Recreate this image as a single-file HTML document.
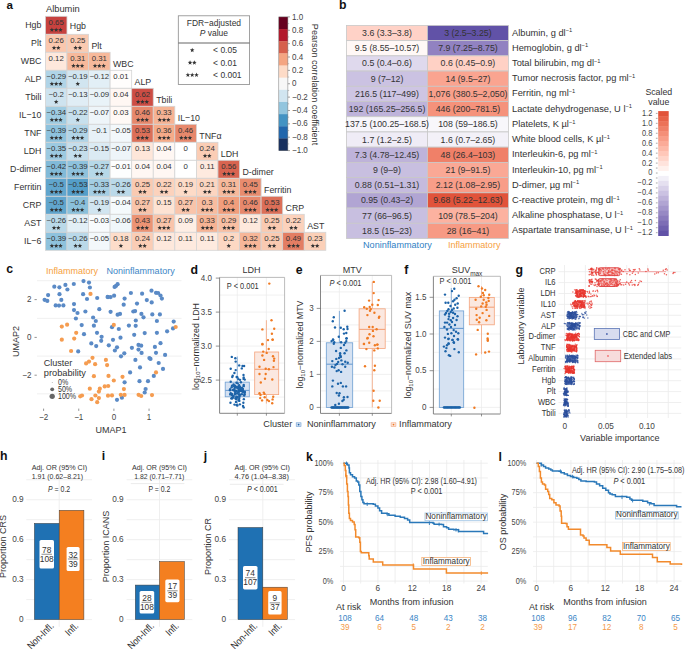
<!DOCTYPE html>
<html><head><meta charset="utf-8"><title>Figure</title>
<style>
html,body{margin:0;padding:0;background:#fff;}
body{width:685px;height:649px;overflow:hidden;}
svg{display:block;font-family:"Liberation Sans", sans-serif;}
</style></head><body>
<svg width="685" height="649" viewBox="0 0 685 649">
<rect width="685" height="649" fill="#fff"/>
<defs><path id="st" d="M0.00,-2.40 L0.60,-0.83 L2.28,-0.74 L0.97,0.32 L1.41,1.94 L0.00,1.02 L-1.41,1.94 L-0.97,0.32 L-2.28,-0.74 L-0.60,-0.83Z"/></defs>
<text transform="translate(6.40,9.40)" text-anchor="start" fill="#111" style="font-size:11.6px;font-weight:bold;">a</text>
<rect x="45.40" y="16.30" width="21.57" height="18.00" fill="#c7423f" stroke="#d4d4d4" stroke-width="0.8"/>
<rect x="45.40" y="34.30" width="21.57" height="18.00" fill="#fac7ae" stroke="#d4d4d4" stroke-width="0.8"/>
<rect x="66.97" y="34.30" width="21.57" height="18.00" fill="#facab1" stroke="#d4d4d4" stroke-width="0.8"/>
<rect x="45.40" y="52.30" width="21.57" height="18.00" fill="#fee8dc" stroke="#d4d4d4" stroke-width="0.8"/>
<rect x="66.97" y="52.30" width="21.57" height="18.00" fill="#f7b99b" stroke="#d4d4d4" stroke-width="0.8"/>
<rect x="88.54" y="52.30" width="21.57" height="18.00" fill="#f7b99b" stroke="#d4d4d4" stroke-width="0.8"/>
<rect x="45.40" y="70.30" width="21.57" height="18.00" fill="#b0d4e7" stroke="#d4d4d4" stroke-width="0.8"/>
<rect x="66.97" y="70.30" width="21.57" height="18.00" fill="#d1e5f0" stroke="#d4d4d4" stroke-width="0.8"/>
<rect x="88.54" y="70.30" width="21.57" height="18.00" fill="#e2eff6" stroke="#d4d4d4" stroke-width="0.8"/>
<rect x="110.11" y="70.30" width="21.57" height="18.00" fill="#fffdfc" stroke="#d4d4d4" stroke-width="0.8"/>
<rect x="45.40" y="88.30" width="21.57" height="18.00" fill="#cee3ef" stroke="#d4d4d4" stroke-width="0.8"/>
<rect x="66.97" y="88.30" width="21.57" height="18.00" fill="#e0edf5" stroke="#d4d4d4" stroke-width="0.8"/>
<rect x="88.54" y="88.30" width="21.57" height="18.00" fill="#e9f3f8" stroke="#d4d4d4" stroke-width="0.8"/>
<rect x="110.11" y="88.30" width="21.57" height="18.00" fill="#fff7f3" stroke="#d4d4d4" stroke-width="0.8"/>
<rect x="131.68" y="88.30" width="21.57" height="18.00" fill="#cd4d44" stroke="#d4d4d4" stroke-width="0.8"/>
<rect x="45.40" y="106.30" width="21.57" height="18.00" fill="#9fcce2" stroke="#d4d4d4" stroke-width="0.8"/>
<rect x="66.97" y="106.30" width="21.57" height="18.00" fill="#c7e0ed" stroke="#d4d4d4" stroke-width="0.8"/>
<rect x="88.54" y="106.30" width="21.57" height="18.00" fill="#eef5f9" stroke="#d4d4d4" stroke-width="0.8"/>
<rect x="110.11" y="106.30" width="21.57" height="18.00" fill="#fff9f6" stroke="#d4d4d4" stroke-width="0.8"/>
<rect x="131.68" y="106.30" width="21.57" height="18.00" fill="#e7886c" stroke="#d4d4d4" stroke-width="0.8"/>
<rect x="153.25" y="106.30" width="21.57" height="18.00" fill="#f6b394" stroke="#d4d4d4" stroke-width="0.8"/>
<rect x="45.40" y="124.30" width="21.57" height="18.00" fill="#8ec2dd" stroke="#d4d4d4" stroke-width="0.8"/>
<rect x="66.97" y="124.30" width="21.57" height="18.00" fill="#b0d4e7" stroke="#d4d4d4" stroke-width="0.8"/>
<rect x="88.54" y="124.30" width="21.57" height="18.00" fill="#e7f1f7" stroke="#d4d4d4" stroke-width="0.8"/>
<rect x="110.11" y="124.30" width="21.57" height="18.00" fill="#f3f8fb" stroke="#d4d4d4" stroke-width="0.8"/>
<rect x="131.68" y="124.30" width="21.57" height="18.00" fill="#dc6f58" stroke="#d4d4d4" stroke-width="0.8"/>
<rect x="153.25" y="124.30" width="21.57" height="18.00" fill="#f5ab89" stroke="#d4d4d4" stroke-width="0.8"/>
<rect x="174.82" y="124.30" width="21.57" height="18.00" fill="#e7886c" stroke="#d4d4d4" stroke-width="0.8"/>
<rect x="45.40" y="142.30" width="21.57" height="18.00" fill="#9ccae1" stroke="#d4d4d4" stroke-width="0.8"/>
<rect x="66.97" y="142.30" width="21.57" height="18.00" fill="#c4deec" stroke="#d4d4d4" stroke-width="0.8"/>
<rect x="88.54" y="142.30" width="21.57" height="18.00" fill="#dbeaf3" stroke="#d4d4d4" stroke-width="0.8"/>
<rect x="110.11" y="142.30" width="21.57" height="18.00" fill="#eef5f9" stroke="#d4d4d4" stroke-width="0.8"/>
<rect x="131.68" y="142.30" width="21.57" height="18.00" fill="#fee6d9" stroke="#d4d4d4" stroke-width="0.8"/>
<rect x="153.25" y="142.30" width="21.57" height="18.00" fill="#fff7f3" stroke="#d4d4d4" stroke-width="0.8"/>
<rect x="174.82" y="142.30" width="21.57" height="18.00" fill="#ffffff" stroke="#d4d4d4" stroke-width="0.8"/>
<rect x="196.39" y="142.30" width="21.57" height="18.00" fill="#fbcdb5" stroke="#d4d4d4" stroke-width="0.8"/>
<rect x="45.40" y="160.30" width="21.57" height="18.00" fill="#81bad8" stroke="#d4d4d4" stroke-width="0.8"/>
<rect x="66.97" y="160.30" width="21.57" height="18.00" fill="#8ec2dd" stroke="#d4d4d4" stroke-width="0.8"/>
<rect x="88.54" y="160.30" width="21.57" height="18.00" fill="#b6d8e8" stroke="#d4d4d4" stroke-width="0.8"/>
<rect x="110.11" y="160.30" width="21.57" height="18.00" fill="#fdfefe" stroke="#d4d4d4" stroke-width="0.8"/>
<rect x="131.68" y="160.30" width="21.57" height="18.00" fill="#fff7f3" stroke="#d4d4d4" stroke-width="0.8"/>
<rect x="153.25" y="160.30" width="21.57" height="18.00" fill="#fff7f3" stroke="#d4d4d4" stroke-width="0.8"/>
<rect x="174.82" y="160.30" width="21.57" height="18.00" fill="#ffffff" stroke="#d4d4d4" stroke-width="0.8"/>
<rect x="196.39" y="160.30" width="21.57" height="18.00" fill="#feeadf" stroke="#d4d4d4" stroke-width="0.8"/>
<rect x="217.96" y="160.30" width="21.57" height="18.00" fill="#d86450" stroke="#d4d4d4" stroke-width="0.8"/>
<rect x="45.40" y="178.30" width="21.57" height="18.00" fill="#60a5cd" stroke="#d4d4d4" stroke-width="0.8"/>
<rect x="66.97" y="178.30" width="21.57" height="18.00" fill="#549ec9" stroke="#d4d4d4" stroke-width="0.8"/>
<rect x="88.54" y="178.30" width="21.57" height="18.00" fill="#a3cde3" stroke="#d4d4d4" stroke-width="0.8"/>
<rect x="110.11" y="178.30" width="21.57" height="18.00" fill="#bad9e9" stroke="#d4d4d4" stroke-width="0.8"/>
<rect x="131.68" y="178.30" width="21.57" height="18.00" fill="#facab1" stroke="#d4d4d4" stroke-width="0.8"/>
<rect x="153.25" y="178.30" width="21.57" height="18.00" fill="#fcd2bc" stroke="#d4d4d4" stroke-width="0.8"/>
<rect x="174.82" y="178.30" width="21.57" height="18.00" fill="#fddbc7" stroke="#d4d4d4" stroke-width="0.8"/>
<rect x="196.39" y="178.30" width="21.57" height="18.00" fill="#fcd5c0" stroke="#d4d4d4" stroke-width="0.8"/>
<rect x="217.96" y="178.30" width="21.57" height="18.00" fill="#f7b99b" stroke="#d4d4d4" stroke-width="0.8"/>
<rect x="239.53" y="178.30" width="21.57" height="18.00" fill="#e98c6e" stroke="#d4d4d4" stroke-width="0.8"/>
<rect x="45.40" y="196.30" width="21.57" height="18.00" fill="#60a5cd" stroke="#d4d4d4" stroke-width="0.8"/>
<rect x="66.97" y="196.30" width="21.57" height="18.00" fill="#8ac0db" stroke="#d4d4d4" stroke-width="0.8"/>
<rect x="88.54" y="196.30" width="21.57" height="18.00" fill="#d1e5f0" stroke="#d4d4d4" stroke-width="0.8"/>
<rect x="110.11" y="196.30" width="21.57" height="18.00" fill="#f5fafc" stroke="#d4d4d4" stroke-width="0.8"/>
<rect x="131.68" y="196.30" width="21.57" height="18.00" fill="#f9c4aa" stroke="#d4d4d4" stroke-width="0.8"/>
<rect x="153.25" y="196.30" width="21.57" height="18.00" fill="#fde3d3" stroke="#d4d4d4" stroke-width="0.8"/>
<rect x="174.82" y="196.30" width="21.57" height="18.00" fill="#f9c4aa" stroke="#d4d4d4" stroke-width="0.8"/>
<rect x="196.39" y="196.30" width="21.57" height="18.00" fill="#f8bc9f" stroke="#d4d4d4" stroke-width="0.8"/>
<rect x="217.96" y="196.30" width="21.57" height="18.00" fill="#f19e7c" stroke="#d4d4d4" stroke-width="0.8"/>
<rect x="239.53" y="196.30" width="21.57" height="18.00" fill="#e7886c" stroke="#d4d4d4" stroke-width="0.8"/>
<rect x="261.10" y="196.30" width="21.57" height="18.00" fill="#dc6f58" stroke="#d4d4d4" stroke-width="0.8"/>
<rect x="45.40" y="214.30" width="21.57" height="18.00" fill="#bad9e9" stroke="#d4d4d4" stroke-width="0.8"/>
<rect x="66.97" y="214.30" width="21.57" height="18.00" fill="#e2eff6" stroke="#d4d4d4" stroke-width="0.8"/>
<rect x="88.54" y="214.30" width="21.57" height="18.00" fill="#f8fbfd" stroke="#d4d4d4" stroke-width="0.8"/>
<rect x="110.11" y="214.30" width="21.57" height="18.00" fill="#f0f7fa" stroke="#d4d4d4" stroke-width="0.8"/>
<rect x="131.68" y="214.30" width="21.57" height="18.00" fill="#ec9374" stroke="#d4d4d4" stroke-width="0.8"/>
<rect x="153.25" y="214.30" width="21.57" height="18.00" fill="#f9c4aa" stroke="#d4d4d4" stroke-width="0.8"/>
<rect x="174.82" y="214.30" width="21.57" height="18.00" fill="#feeee4" stroke="#d4d4d4" stroke-width="0.8"/>
<rect x="196.39" y="214.30" width="21.57" height="18.00" fill="#f6b394" stroke="#d4d4d4" stroke-width="0.8"/>
<rect x="217.96" y="214.30" width="21.57" height="18.00" fill="#f8bfa3" stroke="#d4d4d4" stroke-width="0.8"/>
<rect x="239.53" y="214.30" width="21.57" height="18.00" fill="#fee8dc" stroke="#d4d4d4" stroke-width="0.8"/>
<rect x="261.10" y="214.30" width="21.57" height="18.00" fill="#facab1" stroke="#d4d4d4" stroke-width="0.8"/>
<rect x="282.67" y="214.30" width="21.57" height="18.00" fill="#fcd2bc" stroke="#d4d4d4" stroke-width="0.8"/>
<rect x="45.40" y="232.30" width="21.57" height="18.00" fill="#8ec2dd" stroke="#d4d4d4" stroke-width="0.8"/>
<rect x="66.97" y="232.30" width="21.57" height="18.00" fill="#bad9e9" stroke="#d4d4d4" stroke-width="0.8"/>
<rect x="88.54" y="232.30" width="21.57" height="18.00" fill="#f3f8fb" stroke="#d4d4d4" stroke-width="0.8"/>
<rect x="110.11" y="232.30" width="21.57" height="18.00" fill="#fdddca" stroke="#d4d4d4" stroke-width="0.8"/>
<rect x="131.68" y="232.30" width="21.57" height="18.00" fill="#fbcdb5" stroke="#d4d4d4" stroke-width="0.8"/>
<rect x="153.25" y="232.30" width="21.57" height="18.00" fill="#fee8dc" stroke="#d4d4d4" stroke-width="0.8"/>
<rect x="174.82" y="232.30" width="21.57" height="18.00" fill="#feeadf" stroke="#d4d4d4" stroke-width="0.8"/>
<rect x="196.39" y="232.30" width="21.57" height="18.00" fill="#feeadf" stroke="#d4d4d4" stroke-width="0.8"/>
<rect x="217.96" y="232.30" width="21.57" height="18.00" fill="#fdd8c3" stroke="#d4d4d4" stroke-width="0.8"/>
<rect x="239.53" y="232.30" width="21.57" height="18.00" fill="#f7b698" stroke="#d4d4d4" stroke-width="0.8"/>
<rect x="261.10" y="232.30" width="21.57" height="18.00" fill="#facab1" stroke="#d4d4d4" stroke-width="0.8"/>
<rect x="282.67" y="232.30" width="21.57" height="18.00" fill="#e37d63" stroke="#d4d4d4" stroke-width="0.8"/>
<rect x="304.24" y="232.30" width="21.57" height="18.00" fill="#fbd0b8" stroke="#d4d4d4" stroke-width="0.8"/>
<text transform="translate(56.19,25.40) scale(1.1,1)" text-anchor="middle" fill="#333" style="font-size:7.1px;">0.65</text>
<use href="#st" x="51.89" y="29.90" fill="#333"/>
<use href="#st" x="56.19" y="29.90" fill="#333"/>
<use href="#st" x="60.49" y="29.90" fill="#333"/>
<text transform="translate(56.19,43.40) scale(1.1,1)" text-anchor="middle" fill="#333" style="font-size:7.1px;">0.26</text>
<use href="#st" x="54.04" y="47.90" fill="#333"/>
<use href="#st" x="58.34" y="47.90" fill="#333"/>
<text transform="translate(77.75,43.40) scale(1.1,1)" text-anchor="middle" fill="#333" style="font-size:7.1px;">0.25</text>
<use href="#st" x="75.60" y="47.90" fill="#333"/>
<use href="#st" x="79.90" y="47.90" fill="#333"/>
<text transform="translate(56.19,61.40) scale(1.1,1)" text-anchor="middle" fill="#333" style="font-size:7.1px;">0.12</text>
<text transform="translate(77.75,61.40) scale(1.1,1)" text-anchor="middle" fill="#333" style="font-size:7.1px;">0.31</text>
<use href="#st" x="73.45" y="65.90" fill="#333"/>
<use href="#st" x="77.75" y="65.90" fill="#333"/>
<use href="#st" x="82.05" y="65.90" fill="#333"/>
<text transform="translate(99.32,61.40) scale(1.1,1)" text-anchor="middle" fill="#333" style="font-size:7.1px;">0.31</text>
<use href="#st" x="95.02" y="65.90" fill="#333"/>
<use href="#st" x="99.32" y="65.90" fill="#333"/>
<use href="#st" x="103.62" y="65.90" fill="#333"/>
<text transform="translate(56.19,79.40) scale(1.1,1)" text-anchor="middle" fill="#333" style="font-size:7.1px;">−0.29</text>
<use href="#st" x="51.89" y="83.90" fill="#333"/>
<use href="#st" x="56.19" y="83.90" fill="#333"/>
<use href="#st" x="60.49" y="83.90" fill="#333"/>
<text transform="translate(77.75,79.40) scale(1.1,1)" text-anchor="middle" fill="#333" style="font-size:7.1px;">−0.19</text>
<use href="#st" x="77.75" y="83.90" fill="#333"/>
<text transform="translate(99.32,79.40) scale(1.1,1)" text-anchor="middle" fill="#333" style="font-size:7.1px;">−0.12</text>
<text transform="translate(120.90,79.40) scale(1.1,1)" text-anchor="middle" fill="#333" style="font-size:7.1px;">0.01</text>
<text transform="translate(56.19,97.40) scale(1.1,1)" text-anchor="middle" fill="#333" style="font-size:7.1px;">−0.2</text>
<use href="#st" x="56.19" y="101.90" fill="#333"/>
<text transform="translate(77.75,97.40) scale(1.1,1)" text-anchor="middle" fill="#333" style="font-size:7.1px;">−0.13</text>
<text transform="translate(99.32,97.40) scale(1.1,1)" text-anchor="middle" fill="#333" style="font-size:7.1px;">−0.09</text>
<text transform="translate(120.90,97.40) scale(1.1,1)" text-anchor="middle" fill="#333" style="font-size:7.1px;">0.04</text>
<text transform="translate(142.47,97.40) scale(1.1,1)" text-anchor="middle" fill="#333" style="font-size:7.1px;">0.62</text>
<use href="#st" x="138.16" y="101.90" fill="#333"/>
<use href="#st" x="142.47" y="101.90" fill="#333"/>
<use href="#st" x="146.76" y="101.90" fill="#333"/>
<text transform="translate(56.19,115.40) scale(1.1,1)" text-anchor="middle" fill="#333" style="font-size:7.1px;">−0.34</text>
<use href="#st" x="51.89" y="119.90" fill="#333"/>
<use href="#st" x="56.19" y="119.90" fill="#333"/>
<use href="#st" x="60.49" y="119.90" fill="#333"/>
<text transform="translate(77.75,115.40) scale(1.1,1)" text-anchor="middle" fill="#333" style="font-size:7.1px;">−0.22</text>
<use href="#st" x="77.75" y="119.90" fill="#333"/>
<text transform="translate(99.32,115.40) scale(1.1,1)" text-anchor="middle" fill="#333" style="font-size:7.1px;">−0.07</text>
<text transform="translate(120.90,115.40) scale(1.1,1)" text-anchor="middle" fill="#333" style="font-size:7.1px;">0.03</text>
<text transform="translate(142.47,115.40) scale(1.1,1)" text-anchor="middle" fill="#333" style="font-size:7.1px;">0.46</text>
<use href="#st" x="138.16" y="119.90" fill="#333"/>
<use href="#st" x="142.47" y="119.90" fill="#333"/>
<use href="#st" x="146.76" y="119.90" fill="#333"/>
<text transform="translate(164.03,115.40) scale(1.1,1)" text-anchor="middle" fill="#333" style="font-size:7.1px;">0.33</text>
<use href="#st" x="159.73" y="119.90" fill="#333"/>
<use href="#st" x="164.03" y="119.90" fill="#333"/>
<use href="#st" x="168.33" y="119.90" fill="#333"/>
<text transform="translate(56.19,133.40) scale(1.1,1)" text-anchor="middle" fill="#333" style="font-size:7.1px;">−0.39</text>
<use href="#st" x="51.89" y="137.90" fill="#333"/>
<use href="#st" x="56.19" y="137.90" fill="#333"/>
<use href="#st" x="60.49" y="137.90" fill="#333"/>
<text transform="translate(77.75,133.40) scale(1.1,1)" text-anchor="middle" fill="#333" style="font-size:7.1px;">−0.29</text>
<use href="#st" x="73.45" y="137.90" fill="#333"/>
<use href="#st" x="77.75" y="137.90" fill="#333"/>
<use href="#st" x="82.05" y="137.90" fill="#333"/>
<text transform="translate(99.32,133.40) scale(1.1,1)" text-anchor="middle" fill="#333" style="font-size:7.1px;">−0.1</text>
<text transform="translate(120.90,133.40) scale(1.1,1)" text-anchor="middle" fill="#333" style="font-size:7.1px;">−0.05</text>
<text transform="translate(142.47,133.40) scale(1.1,1)" text-anchor="middle" fill="#333" style="font-size:7.1px;">0.53</text>
<use href="#st" x="138.16" y="137.90" fill="#333"/>
<use href="#st" x="142.47" y="137.90" fill="#333"/>
<use href="#st" x="146.76" y="137.90" fill="#333"/>
<text transform="translate(164.03,133.40) scale(1.1,1)" text-anchor="middle" fill="#333" style="font-size:7.1px;">0.36</text>
<use href="#st" x="159.73" y="137.90" fill="#333"/>
<use href="#st" x="164.03" y="137.90" fill="#333"/>
<use href="#st" x="168.33" y="137.90" fill="#333"/>
<text transform="translate(185.61,133.40) scale(1.1,1)" text-anchor="middle" fill="#333" style="font-size:7.1px;">0.46</text>
<use href="#st" x="181.31" y="137.90" fill="#333"/>
<use href="#st" x="185.61" y="137.90" fill="#333"/>
<use href="#st" x="189.91" y="137.90" fill="#333"/>
<text transform="translate(56.19,151.40) scale(1.1,1)" text-anchor="middle" fill="#333" style="font-size:7.1px;">−0.35</text>
<use href="#st" x="51.89" y="155.90" fill="#333"/>
<use href="#st" x="56.19" y="155.90" fill="#333"/>
<use href="#st" x="60.49" y="155.90" fill="#333"/>
<text transform="translate(77.75,151.40) scale(1.1,1)" text-anchor="middle" fill="#333" style="font-size:7.1px;">−0.23</text>
<use href="#st" x="75.60" y="155.90" fill="#333"/>
<use href="#st" x="79.90" y="155.90" fill="#333"/>
<text transform="translate(99.32,151.40) scale(1.1,1)" text-anchor="middle" fill="#333" style="font-size:7.1px;">−0.15</text>
<text transform="translate(120.90,151.40) scale(1.1,1)" text-anchor="middle" fill="#333" style="font-size:7.1px;">−0.07</text>
<text transform="translate(142.47,151.40) scale(1.1,1)" text-anchor="middle" fill="#333" style="font-size:7.1px;">0.13</text>
<text transform="translate(164.03,151.40) scale(1.1,1)" text-anchor="middle" fill="#333" style="font-size:7.1px;">0.04</text>
<text transform="translate(185.61,151.40) scale(1.1,1)" text-anchor="middle" fill="#333" style="font-size:7.1px;">0</text>
<text transform="translate(207.18,151.40) scale(1.1,1)" text-anchor="middle" fill="#333" style="font-size:7.1px;">0.24</text>
<use href="#st" x="205.03" y="155.90" fill="#333"/>
<use href="#st" x="209.33" y="155.90" fill="#333"/>
<text transform="translate(56.19,169.40) scale(1.1,1)" text-anchor="middle" fill="#333" style="font-size:7.1px;">−0.42</text>
<use href="#st" x="51.89" y="173.90" fill="#333"/>
<use href="#st" x="56.19" y="173.90" fill="#333"/>
<use href="#st" x="60.49" y="173.90" fill="#333"/>
<text transform="translate(77.75,169.40) scale(1.1,1)" text-anchor="middle" fill="#333" style="font-size:7.1px;">−0.39</text>
<use href="#st" x="73.45" y="173.90" fill="#333"/>
<use href="#st" x="77.75" y="173.90" fill="#333"/>
<use href="#st" x="82.05" y="173.90" fill="#333"/>
<text transform="translate(99.32,169.40) scale(1.1,1)" text-anchor="middle" fill="#333" style="font-size:7.1px;">−0.27</text>
<use href="#st" x="97.17" y="173.90" fill="#333"/>
<use href="#st" x="101.47" y="173.90" fill="#333"/>
<text transform="translate(120.90,169.40) scale(1.1,1)" text-anchor="middle" fill="#333" style="font-size:7.1px;">−0.01</text>
<text transform="translate(142.47,169.40) scale(1.1,1)" text-anchor="middle" fill="#333" style="font-size:7.1px;">0.04</text>
<text transform="translate(164.03,169.40) scale(1.1,1)" text-anchor="middle" fill="#333" style="font-size:7.1px;">0.04</text>
<text transform="translate(185.61,169.40) scale(1.1,1)" text-anchor="middle" fill="#333" style="font-size:7.1px;">0</text>
<text transform="translate(207.18,169.40) scale(1.1,1)" text-anchor="middle" fill="#333" style="font-size:7.1px;">0.11</text>
<text transform="translate(228.75,169.40) scale(1.1,1)" text-anchor="middle" fill="#333" style="font-size:7.1px;">0.56</text>
<use href="#st" x="224.44" y="173.90" fill="#333"/>
<use href="#st" x="228.75" y="173.90" fill="#333"/>
<use href="#st" x="233.04" y="173.90" fill="#333"/>
<text transform="translate(56.19,187.40) scale(1.1,1)" text-anchor="middle" fill="#333" style="font-size:7.1px;">−0.5</text>
<use href="#st" x="51.89" y="191.90" fill="#333"/>
<use href="#st" x="56.19" y="191.90" fill="#333"/>
<use href="#st" x="60.49" y="191.90" fill="#333"/>
<text transform="translate(77.75,187.40) scale(1.1,1)" text-anchor="middle" fill="#333" style="font-size:7.1px;">−0.53</text>
<use href="#st" x="73.45" y="191.90" fill="#333"/>
<use href="#st" x="77.75" y="191.90" fill="#333"/>
<use href="#st" x="82.05" y="191.90" fill="#333"/>
<text transform="translate(99.32,187.40) scale(1.1,1)" text-anchor="middle" fill="#333" style="font-size:7.1px;">−0.33</text>
<use href="#st" x="95.02" y="191.90" fill="#333"/>
<use href="#st" x="99.32" y="191.90" fill="#333"/>
<use href="#st" x="103.62" y="191.90" fill="#333"/>
<text transform="translate(120.90,187.40) scale(1.1,1)" text-anchor="middle" fill="#333" style="font-size:7.1px;">−0.26</text>
<use href="#st" x="118.75" y="191.90" fill="#333"/>
<use href="#st" x="123.05" y="191.90" fill="#333"/>
<text transform="translate(142.47,187.40) scale(1.1,1)" text-anchor="middle" fill="#333" style="font-size:7.1px;">0.25</text>
<use href="#st" x="140.31" y="191.90" fill="#333"/>
<use href="#st" x="144.62" y="191.90" fill="#333"/>
<text transform="translate(164.03,187.40) scale(1.1,1)" text-anchor="middle" fill="#333" style="font-size:7.1px;">0.22</text>
<use href="#st" x="161.88" y="191.90" fill="#333"/>
<use href="#st" x="166.19" y="191.90" fill="#333"/>
<text transform="translate(185.61,187.40) scale(1.1,1)" text-anchor="middle" fill="#333" style="font-size:7.1px;">0.19</text>
<use href="#st" x="185.61" y="191.90" fill="#333"/>
<text transform="translate(207.18,187.40) scale(1.1,1)" text-anchor="middle" fill="#333" style="font-size:7.1px;">0.21</text>
<use href="#st" x="205.03" y="191.90" fill="#333"/>
<use href="#st" x="209.33" y="191.90" fill="#333"/>
<text transform="translate(228.75,187.40) scale(1.1,1)" text-anchor="middle" fill="#333" style="font-size:7.1px;">0.31</text>
<use href="#st" x="224.44" y="191.90" fill="#333"/>
<use href="#st" x="228.75" y="191.90" fill="#333"/>
<use href="#st" x="233.04" y="191.90" fill="#333"/>
<text transform="translate(250.31,187.40) scale(1.1,1)" text-anchor="middle" fill="#333" style="font-size:7.1px;">0.45</text>
<use href="#st" x="246.01" y="191.90" fill="#333"/>
<use href="#st" x="250.31" y="191.90" fill="#333"/>
<use href="#st" x="254.61" y="191.90" fill="#333"/>
<text transform="translate(56.19,205.40) scale(1.1,1)" text-anchor="middle" fill="#333" style="font-size:7.1px;">−0.5</text>
<use href="#st" x="51.89" y="209.90" fill="#333"/>
<use href="#st" x="56.19" y="209.90" fill="#333"/>
<use href="#st" x="60.49" y="209.90" fill="#333"/>
<text transform="translate(77.75,205.40) scale(1.1,1)" text-anchor="middle" fill="#333" style="font-size:7.1px;">−0.4</text>
<use href="#st" x="73.45" y="209.90" fill="#333"/>
<use href="#st" x="77.75" y="209.90" fill="#333"/>
<use href="#st" x="82.05" y="209.90" fill="#333"/>
<text transform="translate(99.32,205.40) scale(1.1,1)" text-anchor="middle" fill="#333" style="font-size:7.1px;">−0.19</text>
<use href="#st" x="99.32" y="209.90" fill="#333"/>
<text transform="translate(120.90,205.40) scale(1.1,1)" text-anchor="middle" fill="#333" style="font-size:7.1px;">−0.04</text>
<text transform="translate(142.47,205.40) scale(1.1,1)" text-anchor="middle" fill="#333" style="font-size:7.1px;">0.27</text>
<use href="#st" x="140.31" y="209.90" fill="#333"/>
<use href="#st" x="144.62" y="209.90" fill="#333"/>
<text transform="translate(164.03,205.40) scale(1.1,1)" text-anchor="middle" fill="#333" style="font-size:7.1px;">0.15</text>
<text transform="translate(185.61,205.40) scale(1.1,1)" text-anchor="middle" fill="#333" style="font-size:7.1px;">0.27</text>
<use href="#st" x="183.46" y="209.90" fill="#333"/>
<use href="#st" x="187.76" y="209.90" fill="#333"/>
<text transform="translate(207.18,205.40) scale(1.1,1)" text-anchor="middle" fill="#333" style="font-size:7.1px;">0.3</text>
<use href="#st" x="202.88" y="209.90" fill="#333"/>
<use href="#st" x="207.18" y="209.90" fill="#333"/>
<use href="#st" x="211.47" y="209.90" fill="#333"/>
<text transform="translate(228.75,205.40) scale(1.1,1)" text-anchor="middle" fill="#333" style="font-size:7.1px;">0.4</text>
<use href="#st" x="224.44" y="209.90" fill="#333"/>
<use href="#st" x="228.75" y="209.90" fill="#333"/>
<use href="#st" x="233.04" y="209.90" fill="#333"/>
<text transform="translate(250.31,205.40) scale(1.1,1)" text-anchor="middle" fill="#333" style="font-size:7.1px;">0.46</text>
<use href="#st" x="246.01" y="209.90" fill="#333"/>
<use href="#st" x="250.31" y="209.90" fill="#333"/>
<use href="#st" x="254.61" y="209.90" fill="#333"/>
<text transform="translate(271.88,205.40) scale(1.1,1)" text-anchor="middle" fill="#333" style="font-size:7.1px;">0.53</text>
<use href="#st" x="267.58" y="209.90" fill="#333"/>
<use href="#st" x="271.88" y="209.90" fill="#333"/>
<use href="#st" x="276.19" y="209.90" fill="#333"/>
<text transform="translate(56.19,223.40) scale(1.1,1)" text-anchor="middle" fill="#333" style="font-size:7.1px;">−0.26</text>
<use href="#st" x="54.04" y="227.90" fill="#333"/>
<use href="#st" x="58.34" y="227.90" fill="#333"/>
<text transform="translate(77.75,223.40) scale(1.1,1)" text-anchor="middle" fill="#333" style="font-size:7.1px;">−0.12</text>
<text transform="translate(99.32,223.40) scale(1.1,1)" text-anchor="middle" fill="#333" style="font-size:7.1px;">−0.03</text>
<text transform="translate(120.90,223.40) scale(1.1,1)" text-anchor="middle" fill="#333" style="font-size:7.1px;">−0.06</text>
<text transform="translate(142.47,223.40) scale(1.1,1)" text-anchor="middle" fill="#333" style="font-size:7.1px;">0.43</text>
<use href="#st" x="138.16" y="227.90" fill="#333"/>
<use href="#st" x="142.47" y="227.90" fill="#333"/>
<use href="#st" x="146.76" y="227.90" fill="#333"/>
<text transform="translate(164.03,223.40) scale(1.1,1)" text-anchor="middle" fill="#333" style="font-size:7.1px;">0.27</text>
<use href="#st" x="159.73" y="227.90" fill="#333"/>
<use href="#st" x="164.03" y="227.90" fill="#333"/>
<use href="#st" x="168.33" y="227.90" fill="#333"/>
<text transform="translate(185.61,223.40) scale(1.1,1)" text-anchor="middle" fill="#333" style="font-size:7.1px;">0.09</text>
<text transform="translate(207.18,223.40) scale(1.1,1)" text-anchor="middle" fill="#333" style="font-size:7.1px;">0.33</text>
<use href="#st" x="202.88" y="227.90" fill="#333"/>
<use href="#st" x="207.18" y="227.90" fill="#333"/>
<use href="#st" x="211.47" y="227.90" fill="#333"/>
<text transform="translate(228.75,223.40) scale(1.1,1)" text-anchor="middle" fill="#333" style="font-size:7.1px;">0.29</text>
<use href="#st" x="224.44" y="227.90" fill="#333"/>
<use href="#st" x="228.75" y="227.90" fill="#333"/>
<use href="#st" x="233.04" y="227.90" fill="#333"/>
<text transform="translate(250.31,223.40) scale(1.1,1)" text-anchor="middle" fill="#333" style="font-size:7.1px;">0.12</text>
<text transform="translate(271.88,223.40) scale(1.1,1)" text-anchor="middle" fill="#333" style="font-size:7.1px;">0.25</text>
<use href="#st" x="269.74" y="227.90" fill="#333"/>
<use href="#st" x="274.04" y="227.90" fill="#333"/>
<text transform="translate(293.46,223.40) scale(1.1,1)" text-anchor="middle" fill="#333" style="font-size:7.1px;">0.22</text>
<use href="#st" x="291.31" y="227.90" fill="#333"/>
<use href="#st" x="295.61" y="227.90" fill="#333"/>
<text transform="translate(56.19,241.40) scale(1.1,1)" text-anchor="middle" fill="#333" style="font-size:7.1px;">−0.39</text>
<use href="#st" x="51.89" y="245.90" fill="#333"/>
<use href="#st" x="56.19" y="245.90" fill="#333"/>
<use href="#st" x="60.49" y="245.90" fill="#333"/>
<text transform="translate(77.75,241.40) scale(1.1,1)" text-anchor="middle" fill="#333" style="font-size:7.1px;">−0.26</text>
<use href="#st" x="75.60" y="245.90" fill="#333"/>
<use href="#st" x="79.90" y="245.90" fill="#333"/>
<text transform="translate(99.32,241.40) scale(1.1,1)" text-anchor="middle" fill="#333" style="font-size:7.1px;">−0.05</text>
<text transform="translate(120.90,241.40) scale(1.1,1)" text-anchor="middle" fill="#333" style="font-size:7.1px;">0.18</text>
<use href="#st" x="120.90" y="245.90" fill="#333"/>
<text transform="translate(142.47,241.40) scale(1.1,1)" text-anchor="middle" fill="#333" style="font-size:7.1px;">0.24</text>
<use href="#st" x="140.31" y="245.90" fill="#333"/>
<use href="#st" x="144.62" y="245.90" fill="#333"/>
<text transform="translate(164.03,241.40) scale(1.1,1)" text-anchor="middle" fill="#333" style="font-size:7.1px;">0.12</text>
<text transform="translate(185.61,241.40) scale(1.1,1)" text-anchor="middle" fill="#333" style="font-size:7.1px;">0.11</text>
<text transform="translate(207.18,241.40) scale(1.1,1)" text-anchor="middle" fill="#333" style="font-size:7.1px;">0.11</text>
<text transform="translate(228.75,241.40) scale(1.1,1)" text-anchor="middle" fill="#333" style="font-size:7.1px;">0.2</text>
<use href="#st" x="228.75" y="245.90" fill="#333"/>
<text transform="translate(250.31,241.40) scale(1.1,1)" text-anchor="middle" fill="#333" style="font-size:7.1px;">0.32</text>
<use href="#st" x="246.01" y="245.90" fill="#333"/>
<use href="#st" x="250.31" y="245.90" fill="#333"/>
<use href="#st" x="254.61" y="245.90" fill="#333"/>
<text transform="translate(271.88,241.40) scale(1.1,1)" text-anchor="middle" fill="#333" style="font-size:7.1px;">0.25</text>
<use href="#st" x="269.74" y="245.90" fill="#333"/>
<use href="#st" x="274.04" y="245.90" fill="#333"/>
<text transform="translate(293.46,241.40) scale(1.1,1)" text-anchor="middle" fill="#333" style="font-size:7.1px;">0.49</text>
<use href="#st" x="289.16" y="245.90" fill="#333"/>
<use href="#st" x="293.46" y="245.90" fill="#333"/>
<use href="#st" x="297.76" y="245.90" fill="#333"/>
<text transform="translate(315.03,241.40) scale(1.1,1)" text-anchor="middle" fill="#333" style="font-size:7.1px;">0.23</text>
<use href="#st" x="312.88" y="245.90" fill="#333"/>
<use href="#st" x="317.18" y="245.90" fill="#333"/>
<text transform="translate(41.40,27.90) scale(0.9416666666666667,1)" text-anchor="end" fill="#333" style="font-size:9.36px;">Hgb</text>
<text transform="translate(41.40,45.90) scale(0.9416666666666667,1)" text-anchor="end" fill="#333" style="font-size:9.36px;">Plt</text>
<text transform="translate(41.40,63.90) scale(0.9416666666666667,1)" text-anchor="end" fill="#333" style="font-size:9.36px;">WBC</text>
<text transform="translate(41.40,81.90) scale(0.9416666666666667,1)" text-anchor="end" fill="#333" style="font-size:9.36px;">ALP</text>
<text transform="translate(41.40,99.90) scale(0.9416666666666667,1)" text-anchor="end" fill="#333" style="font-size:9.36px;">Tbili</text>
<text transform="translate(41.40,117.90) scale(0.9416666666666667,1)" text-anchor="end" fill="#333" style="font-size:9.36px;">IL−10</text>
<text transform="translate(41.40,135.90) scale(0.9416666666666667,1)" text-anchor="end" fill="#333" style="font-size:9.36px;">TNF</text>
<text transform="translate(41.40,153.90) scale(0.9416666666666667,1)" text-anchor="end" fill="#333" style="font-size:9.36px;">LDH</text>
<text transform="translate(41.40,171.90) scale(0.9416666666666667,1)" text-anchor="end" fill="#333" style="font-size:9.36px;">D-dimer</text>
<text transform="translate(41.40,189.90) scale(0.9416666666666667,1)" text-anchor="end" fill="#333" style="font-size:9.36px;">Ferritin</text>
<text transform="translate(41.40,207.90) scale(0.9416666666666667,1)" text-anchor="end" fill="#333" style="font-size:9.36px;">CRP</text>
<text transform="translate(41.40,225.90) scale(0.9416666666666667,1)" text-anchor="end" fill="#333" style="font-size:9.36px;">AST</text>
<text transform="translate(41.40,243.90) scale(0.9416666666666667,1)" text-anchor="end" fill="#333" style="font-size:9.36px;">IL−6</text>
<text transform="translate(45.90,11.90)" text-anchor="start" fill="#333" style="font-size:9.36px;">Albumin</text>
<text transform="translate(69.87,29.00) scale(0.9416666666666667,1)" text-anchor="start" fill="#333" style="font-size:9.36px;">Hgb</text>
<text transform="translate(91.44,48.60) scale(0.9416666666666667,1)" text-anchor="start" fill="#333" style="font-size:9.36px;">Plt</text>
<text transform="translate(113.01,66.60) scale(0.9416666666666667,1)" text-anchor="start" fill="#333" style="font-size:9.36px;">WBC</text>
<text transform="translate(134.58,84.60) scale(0.9416666666666667,1)" text-anchor="start" fill="#333" style="font-size:9.36px;">ALP</text>
<text transform="translate(156.15,102.60) scale(0.9416666666666667,1)" text-anchor="start" fill="#333" style="font-size:9.36px;">Tbili</text>
<text transform="translate(177.72,120.60) scale(0.9416666666666667,1)" text-anchor="start" fill="#333" style="font-size:9.36px;">IL−10</text>
<text transform="translate(199.29,138.60) scale(0.9416666666666667,1)" text-anchor="start" fill="#333" style="font-size:9.36px;">TNFα</text>
<text transform="translate(220.86,156.60) scale(0.9416666666666667,1)" text-anchor="start" fill="#333" style="font-size:9.36px;">LDH</text>
<text transform="translate(242.43,174.60) scale(0.9416666666666667,1)" text-anchor="start" fill="#333" style="font-size:9.36px;">D-dimer</text>
<text transform="translate(264.00,192.60) scale(0.9416666666666667,1)" text-anchor="start" fill="#333" style="font-size:9.36px;">Ferritin</text>
<text transform="translate(285.57,210.60) scale(0.9416666666666667,1)" text-anchor="start" fill="#333" style="font-size:9.36px;">CRP</text>
<text transform="translate(307.14,228.60) scale(0.9416666666666667,1)" text-anchor="start" fill="#333" style="font-size:9.36px;">AST</text>
<rect x="178.30" y="15.80" width="71.30" height="68.70" fill="white" stroke="#8a8a8a" stroke-width="0.8"/>
<line x1="178.30" y1="43.00" x2="249.60" y2="43.00" stroke="#666" stroke-width="1.2"/>
<text transform="translate(213.90,26.00) scale(0.9166666666666667,1)" text-anchor="middle" fill="#333" style="font-size:9.24px;">FDR−adjusted</text>
<text transform="translate(213.90,36.30) scale(0.9166666666666667,1)" text-anchor="middle" fill="#333" style="font-size:9.24px;"><tspan style="font-style:italic">P</tspan> value</text>
<use href="#st" x="192.20" y="50.20" fill="#333"/>
<text transform="translate(213.10,53.40) scale(0.9166666666666667,1)" text-anchor="start" fill="#333" style="font-size:9.24px;">&lt; 0.05</text>
<use href="#st" x="190.05" y="62.70" fill="#333"/>
<use href="#st" x="194.35" y="62.70" fill="#333"/>
<text transform="translate(213.10,65.90) scale(0.9166666666666667,1)" text-anchor="start" fill="#333" style="font-size:9.24px;">&lt; 0.01</text>
<use href="#st" x="187.90" y="75.00" fill="#333"/>
<use href="#st" x="192.20" y="75.00" fill="#333"/>
<use href="#st" x="196.50" y="75.00" fill="#333"/>
<text transform="translate(213.10,78.20) scale(0.9166666666666667,1)" text-anchor="start" fill="#333" style="font-size:9.24px;">&lt; 0.001</text>
<rect x="278.80" y="16.90" width="9.10" height="12.45" fill="#67001F"/>
<rect x="278.80" y="29.05" width="9.10" height="12.45" fill="#B2182B"/>
<rect x="278.80" y="41.21" width="9.10" height="12.45" fill="#D6604D"/>
<rect x="278.80" y="53.36" width="9.10" height="12.45" fill="#F4A582"/>
<rect x="278.80" y="65.52" width="9.10" height="12.45" fill="#FDDBC7"/>
<rect x="278.80" y="77.67" width="9.10" height="12.45" fill="#f7f7f7"/>
<rect x="278.80" y="89.83" width="9.10" height="12.45" fill="#D1E5F0"/>
<rect x="278.80" y="101.98" width="9.10" height="12.45" fill="#92C5DE"/>
<rect x="278.80" y="114.14" width="9.10" height="12.45" fill="#4393C3"/>
<rect x="278.80" y="126.29" width="9.10" height="12.45" fill="#2166AC"/>
<rect x="278.80" y="138.45" width="9.10" height="12.45" fill="#18305e"/>
<rect x="278.80" y="16.90" width="9.10" height="133.70" fill="none" stroke="#777" stroke-width="0.5"/>
<line x1="287.90" y1="16.90" x2="290.00" y2="16.90" stroke="#666" stroke-width="0.6"/>
<text transform="translate(292.00,19.50) scale(0.9166666666666667,1)" text-anchor="start" fill="#444" style="font-size:8.76px;">1.0</text>
<line x1="287.90" y1="23.58" x2="289.20" y2="23.58" stroke="#888" stroke-width="0.5"/>
<line x1="287.90" y1="30.27" x2="290.00" y2="30.27" stroke="#666" stroke-width="0.6"/>
<text transform="translate(292.00,32.87) scale(0.9166666666666667,1)" text-anchor="start" fill="#444" style="font-size:8.76px;">0.8</text>
<line x1="287.90" y1="36.95" x2="289.20" y2="36.95" stroke="#888" stroke-width="0.5"/>
<line x1="287.90" y1="43.64" x2="290.00" y2="43.64" stroke="#666" stroke-width="0.6"/>
<text transform="translate(292.00,46.24) scale(0.9166666666666667,1)" text-anchor="start" fill="#444" style="font-size:8.76px;">0.6</text>
<line x1="287.90" y1="50.33" x2="289.20" y2="50.33" stroke="#888" stroke-width="0.5"/>
<line x1="287.90" y1="57.01" x2="290.00" y2="57.01" stroke="#666" stroke-width="0.6"/>
<text transform="translate(292.00,59.61) scale(0.9166666666666667,1)" text-anchor="start" fill="#444" style="font-size:8.76px;">0.4</text>
<line x1="287.90" y1="63.70" x2="289.20" y2="63.70" stroke="#888" stroke-width="0.5"/>
<line x1="287.90" y1="70.38" x2="290.00" y2="70.38" stroke="#666" stroke-width="0.6"/>
<text transform="translate(292.00,72.98) scale(0.9166666666666667,1)" text-anchor="start" fill="#444" style="font-size:8.76px;">0.2</text>
<line x1="287.90" y1="77.06" x2="289.20" y2="77.06" stroke="#888" stroke-width="0.5"/>
<line x1="287.90" y1="83.75" x2="290.00" y2="83.75" stroke="#666" stroke-width="0.6"/>
<text transform="translate(292.00,86.35) scale(0.9166666666666667,1)" text-anchor="start" fill="#444" style="font-size:8.76px;">0</text>
<line x1="287.90" y1="90.44" x2="289.20" y2="90.44" stroke="#888" stroke-width="0.5"/>
<line x1="287.90" y1="97.12" x2="290.00" y2="97.12" stroke="#666" stroke-width="0.6"/>
<text transform="translate(292.00,99.72) scale(0.9166666666666667,1)" text-anchor="start" fill="#444" style="font-size:8.76px;">−0.2</text>
<line x1="287.90" y1="103.81" x2="289.20" y2="103.81" stroke="#888" stroke-width="0.5"/>
<line x1="287.90" y1="110.49" x2="290.00" y2="110.49" stroke="#666" stroke-width="0.6"/>
<text transform="translate(292.00,113.09) scale(0.9166666666666667,1)" text-anchor="start" fill="#444" style="font-size:8.76px;">−0.4</text>
<line x1="287.90" y1="117.17" x2="289.20" y2="117.17" stroke="#888" stroke-width="0.5"/>
<line x1="287.90" y1="123.86" x2="290.00" y2="123.86" stroke="#666" stroke-width="0.6"/>
<text transform="translate(292.00,126.46) scale(0.9166666666666667,1)" text-anchor="start" fill="#444" style="font-size:8.76px;">−0.6</text>
<line x1="287.90" y1="130.54" x2="289.20" y2="130.54" stroke="#888" stroke-width="0.5"/>
<line x1="287.90" y1="137.23" x2="290.00" y2="137.23" stroke="#666" stroke-width="0.6"/>
<text transform="translate(292.00,139.83) scale(0.9166666666666667,1)" text-anchor="start" fill="#444" style="font-size:8.76px;">−0.8</text>
<line x1="287.90" y1="143.91" x2="289.20" y2="143.91" stroke="#888" stroke-width="0.5"/>
<line x1="287.90" y1="150.60" x2="290.00" y2="150.60" stroke="#666" stroke-width="0.6"/>
<text transform="translate(292.00,153.20) scale(0.9166666666666667,1)" text-anchor="start" fill="#444" style="font-size:8.76px;">−1.0</text>
<text transform="translate(312.40,84.50) rotate(90) scale(0.9416666666666667,1)" text-anchor="middle" fill="#333" style="font-size:9.6px;">Pearson correlation coefficient</text>
<text transform="translate(339.00,8.90)" text-anchor="start" fill="#111" style="font-size:12.3px;font-weight:bold;">b</text>
<rect x="346.50" y="25.40" width="81.00" height="15.22" fill="#ffd2c7" stroke="#c8c8c8" stroke-width="0.8"/>
<rect x="427.50" y="25.40" width="80.90" height="15.22" fill="#6152a7" stroke="#c8c8c8" stroke-width="0.8"/>
<rect x="346.50" y="40.62" width="81.00" height="15.22" fill="#fff8f6" stroke="#c8c8c8" stroke-width="0.8"/>
<rect x="427.50" y="40.62" width="80.90" height="15.22" fill="#9182c1" stroke="#c8c8c8" stroke-width="0.8"/>
<rect x="346.50" y="55.84" width="81.00" height="15.22" fill="#dfd9ed" stroke="#c8c8c8" stroke-width="0.8"/>
<rect x="427.50" y="55.84" width="80.90" height="15.22" fill="#ffd1c5" stroke="#c8c8c8" stroke-width="0.8"/>
<rect x="346.50" y="71.06" width="81.00" height="15.22" fill="#cbc2e2" stroke="#c8c8c8" stroke-width="0.8"/>
<rect x="427.50" y="71.06" width="80.90" height="15.22" fill="#faa490" stroke="#c8c8c8" stroke-width="0.8"/>
<rect x="346.50" y="86.28" width="81.00" height="15.22" fill="#cec5e3" stroke="#c8c8c8" stroke-width="0.8"/>
<rect x="427.50" y="86.28" width="80.90" height="15.22" fill="#f9a08b" stroke="#c8c8c8" stroke-width="0.8"/>
<rect x="346.50" y="101.50" width="81.00" height="15.22" fill="#beb3da" stroke="#c8c8c8" stroke-width="0.8"/>
<rect x="427.50" y="101.50" width="80.90" height="15.22" fill="#f5927b" stroke="#c8c8c8" stroke-width="0.8"/>
<rect x="346.50" y="116.72" width="81.00" height="15.22" fill="#f7f6fb" stroke="#c8c8c8" stroke-width="0.8"/>
<rect x="427.50" y="116.72" width="80.90" height="15.22" fill="#f8f7fb" stroke="#c8c8c8" stroke-width="0.8"/>
<rect x="346.50" y="131.94" width="81.00" height="15.22" fill="#efecf6" stroke="#c8c8c8" stroke-width="0.8"/>
<rect x="427.50" y="131.94" width="80.90" height="15.22" fill="#f3f1f8" stroke="#c8c8c8" stroke-width="0.8"/>
<rect x="346.50" y="147.16" width="81.00" height="15.22" fill="#beb3da" stroke="#c8c8c8" stroke-width="0.8"/>
<rect x="427.50" y="147.16" width="80.90" height="15.22" fill="#f08068" stroke="#c8c8c8" stroke-width="0.8"/>
<rect x="346.50" y="162.38" width="81.00" height="15.22" fill="#c8bfe0" stroke="#c8c8c8" stroke-width="0.8"/>
<rect x="427.50" y="162.38" width="80.90" height="15.22" fill="#faa895" stroke="#c8c8c8" stroke-width="0.8"/>
<rect x="346.50" y="177.60" width="81.00" height="15.22" fill="#c5bbde" stroke="#c8c8c8" stroke-width="0.8"/>
<rect x="427.50" y="177.60" width="80.90" height="15.22" fill="#f89d88" stroke="#c8c8c8" stroke-width="0.8"/>
<rect x="346.50" y="192.82" width="81.00" height="15.22" fill="#b1a5d3" stroke="#c8c8c8" stroke-width="0.8"/>
<rect x="427.50" y="192.82" width="80.90" height="15.22" fill="#e1533a" stroke="#c8c8c8" stroke-width="0.8"/>
<rect x="346.50" y="208.04" width="81.00" height="15.22" fill="#c8bfe0" stroke="#c8c8c8" stroke-width="0.8"/>
<rect x="427.50" y="208.04" width="80.90" height="15.22" fill="#fcb2a0" stroke="#c8c8c8" stroke-width="0.8"/>
<rect x="346.50" y="223.26" width="81.00" height="15.22" fill="#c8bfe0" stroke="#c8c8c8" stroke-width="0.8"/>
<rect x="427.50" y="223.26" width="80.90" height="15.22" fill="#f79a84" stroke="#c8c8c8" stroke-width="0.8"/>
<text transform="translate(387.00,36.01) scale(0.9166666666666667,1)" text-anchor="middle" fill="#333" style="font-size:9.6px;">3.6 (3.3–3.8)</text>
<text transform="translate(467.95,36.01) scale(0.9166666666666667,1)" text-anchor="middle" fill="#333" style="font-size:9.6px;">3 (2.5–3.25)</text>
<text transform="translate(512.00,35.61) scale(0.9666666666666667,1)" text-anchor="start" fill="#333" style="font-size:9.6px;">Albumin, g dl<tspan dy="-3.4" style="font-size:6.0px">−1</tspan></text>
<text transform="translate(387.00,51.23) scale(0.9166666666666667,1)" text-anchor="middle" fill="#333" style="font-size:9.6px;">9.5 (8.55–10.57)</text>
<text transform="translate(467.95,51.23) scale(0.9166666666666667,1)" text-anchor="middle" fill="#333" style="font-size:9.6px;">7.9 (7.25–8.75)</text>
<text transform="translate(512.00,50.83) scale(0.9666666666666667,1)" text-anchor="start" fill="#333" style="font-size:9.6px;">Hemoglobin, g dl<tspan dy="-3.4" style="font-size:6.0px">−1</tspan></text>
<text transform="translate(387.00,66.45) scale(0.9166666666666667,1)" text-anchor="middle" fill="#333" style="font-size:9.6px;">0.5 (0.4–0.6)</text>
<text transform="translate(467.95,66.45) scale(0.9166666666666667,1)" text-anchor="middle" fill="#333" style="font-size:9.6px;">0.6 (0.45–0.9)</text>
<text transform="translate(512.00,66.05) scale(0.9666666666666667,1)" text-anchor="start" fill="#333" style="font-size:9.6px;">Total bilirubin, mg dl<tspan dy="-3.4" style="font-size:6.0px">−1</tspan></text>
<text transform="translate(387.00,81.67) scale(0.9166666666666667,1)" text-anchor="middle" fill="#333" style="font-size:9.6px;">9 (7–12)</text>
<text transform="translate(467.95,81.67) scale(0.9166666666666667,1)" text-anchor="middle" fill="#333" style="font-size:9.6px;">14 (9.5–27)</text>
<text transform="translate(512.00,81.27) scale(0.9666666666666667,1)" text-anchor="start" fill="#333" style="font-size:9.6px;">Tumor necrosis factor, pg ml<tspan dy="-3.4" style="font-size:6.0px">−1</tspan></text>
<text transform="translate(387.00,96.89) scale(0.9166666666666667,1)" text-anchor="middle" fill="#333" style="font-size:9.6px;">216.5 (117–499)</text>
<text transform="translate(467.95,96.89) scale(0.9166666666666667,1)" text-anchor="middle" fill="#333" style="font-size:9.6px;">1,076 (380.5–2,050)</text>
<text transform="translate(512.00,96.49) scale(0.9666666666666667,1)" text-anchor="start" fill="#333" style="font-size:9.6px;">Ferritin, ng ml<tspan dy="-3.4" style="font-size:6.0px">−1</tspan></text>
<text transform="translate(387.00,112.11) scale(0.9166666666666667,1)" text-anchor="middle" fill="#333" style="font-size:9.6px;">192 (165.25–256.5)</text>
<text transform="translate(467.95,112.11) scale(0.9166666666666667,1)" text-anchor="middle" fill="#333" style="font-size:9.6px;">446 (200–781.5)</text>
<text transform="translate(512.00,111.71) scale(0.9666666666666667,1)" text-anchor="start" fill="#333" style="font-size:9.6px;">Lactate dehydrogenase, U l<tspan dy="-3.4" style="font-size:6.0px">−1</tspan></text>
<text transform="translate(387.00,127.33) scale(0.9166666666666667,1)" text-anchor="middle" fill="#333" style="font-size:9.6px;">137.5 (100.25–168.5)</text>
<text transform="translate(467.95,127.33) scale(0.9166666666666667,1)" text-anchor="middle" fill="#333" style="font-size:9.6px;">108 (59–186.5)</text>
<text transform="translate(512.00,126.93) scale(0.9666666666666667,1)" text-anchor="start" fill="#333" style="font-size:9.6px;">Platelets, K µl<tspan dy="-3.4" style="font-size:6.0px">−1</tspan></text>
<text transform="translate(387.00,142.55) scale(0.9166666666666667,1)" text-anchor="middle" fill="#333" style="font-size:9.6px;">1.7 (1.2–2.5)</text>
<text transform="translate(467.95,142.55) scale(0.9166666666666667,1)" text-anchor="middle" fill="#333" style="font-size:9.6px;">1.6 (0.7–2.65)</text>
<text transform="translate(512.00,142.15) scale(0.9666666666666667,1)" text-anchor="start" fill="#333" style="font-size:9.6px;">White blood cells, K µl<tspan dy="-3.4" style="font-size:6.0px">−1</tspan></text>
<text transform="translate(387.00,157.77) scale(0.9166666666666667,1)" text-anchor="middle" fill="#333" style="font-size:9.6px;">7.3 (4.78–12.45)</text>
<text transform="translate(467.95,157.77) scale(0.9166666666666667,1)" text-anchor="middle" fill="#333" style="font-size:9.6px;">48 (26.4–103)</text>
<text transform="translate(512.00,157.37) scale(0.9666666666666667,1)" text-anchor="start" fill="#333" style="font-size:9.6px;">Interleukin-6, pg ml<tspan dy="-3.4" style="font-size:6.0px">−1</tspan></text>
<text transform="translate(387.00,172.99) scale(0.9166666666666667,1)" text-anchor="middle" fill="#333" style="font-size:9.6px;">9 (9–9)</text>
<text transform="translate(467.95,172.99) scale(0.9166666666666667,1)" text-anchor="middle" fill="#333" style="font-size:9.6px;">21 (9–91.5)</text>
<text transform="translate(512.00,172.59) scale(0.9666666666666667,1)" text-anchor="start" fill="#333" style="font-size:9.6px;">Interleukin-10, pg ml<tspan dy="-3.4" style="font-size:6.0px">−1</tspan></text>
<text transform="translate(387.00,188.21) scale(0.9166666666666667,1)" text-anchor="middle" fill="#333" style="font-size:9.6px;">0.88 (0.51–1.31)</text>
<text transform="translate(467.95,188.21) scale(0.9166666666666667,1)" text-anchor="middle" fill="#333" style="font-size:9.6px;">2.12 (1.08–2.95)</text>
<text transform="translate(512.00,187.81) scale(0.9666666666666667,1)" text-anchor="start" fill="#333" style="font-size:9.6px;">D-dimer, µg ml<tspan dy="-3.4" style="font-size:6.0px">−1</tspan></text>
<text transform="translate(387.00,203.43) scale(0.9166666666666667,1)" text-anchor="middle" fill="#333" style="font-size:9.6px;">0.95 (0.43–2)</text>
<text transform="translate(467.95,203.43) scale(0.9166666666666667,1)" text-anchor="middle" fill="#333" style="font-size:9.6px;">9.68 (5.22–12.63)</text>
<text transform="translate(512.00,203.03) scale(0.9666666666666667,1)" text-anchor="start" fill="#333" style="font-size:9.6px;">C-reactive protein, mg dl<tspan dy="-3.4" style="font-size:6.0px">−1</tspan></text>
<text transform="translate(387.00,218.65) scale(0.9166666666666667,1)" text-anchor="middle" fill="#333" style="font-size:9.6px;">77 (66–96.5)</text>
<text transform="translate(467.95,218.65) scale(0.9166666666666667,1)" text-anchor="middle" fill="#333" style="font-size:9.6px;">109 (78.5–204)</text>
<text transform="translate(512.00,218.25) scale(0.9666666666666667,1)" text-anchor="start" fill="#333" style="font-size:9.6px;">Alkaline phosphatase, U l<tspan dy="-3.4" style="font-size:6.0px">−1</tspan></text>
<text transform="translate(387.00,233.87) scale(0.9166666666666667,1)" text-anchor="middle" fill="#333" style="font-size:9.6px;">18.5 (15–23)</text>
<text transform="translate(467.95,233.87) scale(0.9166666666666667,1)" text-anchor="middle" fill="#333" style="font-size:9.6px;">28 (16–41)</text>
<text transform="translate(512.00,233.47) scale(0.9666666666666667,1)" text-anchor="start" fill="#333" style="font-size:9.6px;">Aspartate transaminase, U l<tspan dy="-3.4" style="font-size:6.0px">−1</tspan></text>
<text transform="translate(397.40,247.90) scale(0.95,1)" text-anchor="middle" fill="#2f80c4" style="font-size:9.6px;">Noninflammatory</text>
<text transform="translate(474.20,247.90) scale(0.95,1)" text-anchor="middle" fill="#f6a03e" style="font-size:9.6px;">Inflammatory</text>
<rect x="658.20" y="111.10" width="10.50" height="5.28" fill="#e1533a"/>
<rect x="658.20" y="116.08" width="10.50" height="5.28" fill="#e76349"/>
<rect x="658.20" y="121.07" width="10.50" height="5.28" fill="#ec7258"/>
<rect x="658.20" y="126.05" width="10.50" height="5.28" fill="#f08068"/>
<rect x="658.20" y="131.04" width="10.50" height="5.28" fill="#f48f78"/>
<rect x="658.20" y="136.02" width="10.50" height="5.28" fill="#f89d88"/>
<rect x="658.20" y="141.00" width="10.50" height="5.28" fill="#fbab98"/>
<rect x="658.20" y="145.99" width="10.50" height="5.28" fill="#fdb9a8"/>
<rect x="658.20" y="150.97" width="10.50" height="5.28" fill="#ffc7b9"/>
<rect x="658.20" y="155.96" width="10.50" height="5.28" fill="#ffd5ca"/>
<rect x="658.20" y="160.94" width="10.50" height="5.28" fill="#ffe3dc"/>
<rect x="658.20" y="165.92" width="10.50" height="5.28" fill="#fff1ed"/>
<rect x="658.20" y="170.91" width="10.50" height="5.28" fill="#ffffff"/>
<rect x="658.20" y="175.89" width="10.50" height="5.28" fill="#f2f0f8"/>
<rect x="658.20" y="180.88" width="10.50" height="5.28" fill="#e5e0f0"/>
<rect x="658.20" y="185.86" width="10.50" height="5.28" fill="#d8d1e9"/>
<rect x="658.20" y="190.84" width="10.50" height="5.28" fill="#cbc2e2"/>
<rect x="658.20" y="195.83" width="10.50" height="5.28" fill="#beb3da"/>
<rect x="658.20" y="200.81" width="10.50" height="5.28" fill="#b1a5d3"/>
<rect x="658.20" y="205.80" width="10.50" height="5.28" fill="#a497cc"/>
<rect x="658.20" y="210.78" width="10.50" height="5.28" fill="#9789c4"/>
<rect x="658.20" y="215.76" width="10.50" height="5.28" fill="#8a7bbd"/>
<rect x="658.20" y="220.75" width="10.50" height="5.28" fill="#7d6db5"/>
<rect x="658.20" y="225.73" width="10.50" height="5.28" fill="#6f60ae"/>
<rect x="658.20" y="230.72" width="10.50" height="5.28" fill="#6152a7"/>
<text transform="translate(658.80,94.70) scale(0.9166666666666667,1)" text-anchor="middle" fill="#333" style="font-size:9.6px;">Scaled</text>
<text transform="translate(658.80,105.10) scale(0.9166666666666667,1)" text-anchor="middle" fill="#333" style="font-size:9.6px;">value</text>
<line x1="655.90" y1="113.40" x2="657.60" y2="113.40" stroke="#555" stroke-width="0.5"/>
<line x1="655.90" y1="118.37" x2="657.60" y2="118.37" stroke="#555" stroke-width="0.5"/>
<line x1="655.90" y1="123.34" x2="657.60" y2="123.34" stroke="#555" stroke-width="0.5"/>
<line x1="655.90" y1="128.31" x2="657.60" y2="128.31" stroke="#555" stroke-width="0.5"/>
<line x1="655.90" y1="133.28" x2="657.60" y2="133.28" stroke="#555" stroke-width="0.5"/>
<line x1="655.90" y1="138.25" x2="657.60" y2="138.25" stroke="#555" stroke-width="0.5"/>
<line x1="655.90" y1="143.22" x2="657.60" y2="143.22" stroke="#555" stroke-width="0.5"/>
<line x1="655.90" y1="148.19" x2="657.60" y2="148.19" stroke="#555" stroke-width="0.5"/>
<line x1="655.90" y1="153.16" x2="657.60" y2="153.16" stroke="#555" stroke-width="0.5"/>
<line x1="655.90" y1="158.13" x2="657.60" y2="158.13" stroke="#555" stroke-width="0.5"/>
<line x1="655.90" y1="163.10" x2="657.60" y2="163.10" stroke="#555" stroke-width="0.5"/>
<line x1="655.90" y1="168.07" x2="657.60" y2="168.07" stroke="#555" stroke-width="0.5"/>
<line x1="655.90" y1="173.04" x2="657.60" y2="173.04" stroke="#555" stroke-width="0.5"/>
<line x1="655.90" y1="178.01" x2="657.60" y2="178.01" stroke="#555" stroke-width="0.5"/>
<line x1="655.90" y1="182.98" x2="657.60" y2="182.98" stroke="#555" stroke-width="0.5"/>
<line x1="655.90" y1="187.95" x2="657.60" y2="187.95" stroke="#555" stroke-width="0.5"/>
<line x1="655.90" y1="192.92" x2="657.60" y2="192.92" stroke="#555" stroke-width="0.5"/>
<line x1="655.90" y1="197.89" x2="657.60" y2="197.89" stroke="#555" stroke-width="0.5"/>
<line x1="655.90" y1="202.86" x2="657.60" y2="202.86" stroke="#555" stroke-width="0.5"/>
<line x1="655.90" y1="207.83" x2="657.60" y2="207.83" stroke="#555" stroke-width="0.5"/>
<line x1="655.90" y1="212.80" x2="657.60" y2="212.80" stroke="#555" stroke-width="0.5"/>
<line x1="655.90" y1="217.77" x2="657.60" y2="217.77" stroke="#555" stroke-width="0.5"/>
<line x1="655.90" y1="222.74" x2="657.60" y2="222.74" stroke="#555" stroke-width="0.5"/>
<line x1="655.90" y1="227.71" x2="657.60" y2="227.71" stroke="#555" stroke-width="0.5"/>
<line x1="655.90" y1="232.68" x2="657.60" y2="232.68" stroke="#555" stroke-width="0.5"/>
<text transform="translate(652.30,115.80) scale(0.9166666666666667,1)" text-anchor="end" fill="#444" style="font-size:8.16px;">1.2</text>
<text transform="translate(652.30,125.74) scale(0.9166666666666667,1)" text-anchor="end" fill="#444" style="font-size:8.16px;">1.0</text>
<text transform="translate(652.30,135.68) scale(0.9166666666666667,1)" text-anchor="end" fill="#444" style="font-size:8.16px;">0.8</text>
<text transform="translate(652.30,145.62) scale(0.9166666666666667,1)" text-anchor="end" fill="#444" style="font-size:8.16px;">0.6</text>
<text transform="translate(652.30,155.56) scale(0.9166666666666667,1)" text-anchor="end" fill="#444" style="font-size:8.16px;">0.4</text>
<text transform="translate(652.30,165.50) scale(0.9166666666666667,1)" text-anchor="end" fill="#444" style="font-size:8.16px;">0.2</text>
<text transform="translate(652.30,175.44) scale(0.9166666666666667,1)" text-anchor="end" fill="#444" style="font-size:8.16px;">0</text>
<text transform="translate(652.30,185.38) scale(0.9166666666666667,1)" text-anchor="end" fill="#444" style="font-size:8.16px;">−0.2</text>
<text transform="translate(652.30,195.32) scale(0.9166666666666667,1)" text-anchor="end" fill="#444" style="font-size:8.16px;">−0.4</text>
<text transform="translate(652.30,205.26) scale(0.9166666666666667,1)" text-anchor="end" fill="#444" style="font-size:8.16px;">−0.6</text>
<text transform="translate(652.30,215.20) scale(0.9166666666666667,1)" text-anchor="end" fill="#444" style="font-size:8.16px;">−0.8</text>
<text transform="translate(652.30,225.14) scale(0.9166666666666667,1)" text-anchor="end" fill="#444" style="font-size:8.16px;">−1.0</text>
<text transform="translate(652.30,235.08) scale(0.9166666666666667,1)" text-anchor="end" fill="#444" style="font-size:8.16px;">−1.2</text>
<text transform="translate(6.30,273.20)" text-anchor="start" fill="#111" style="font-size:12.3px;font-weight:bold;">c</text>
<line x1="37.00" y1="280.70" x2="181.50" y2="280.70" stroke="#ececec" stroke-width="0.8"/>
<line x1="37.00" y1="318.40" x2="181.50" y2="318.40" stroke="#ececec" stroke-width="0.8"/>
<line x1="37.00" y1="356.10" x2="181.50" y2="356.10" stroke="#ececec" stroke-width="0.8"/>
<line x1="37.00" y1="393.80" x2="181.50" y2="393.80" stroke="#ececec" stroke-width="0.8"/>
<line x1="34.50" y1="299.60" x2="36.80" y2="299.60" stroke="#666" stroke-width="0.7"/>
<text transform="translate(31.50,302.10) scale(0.9166666666666667,1)" text-anchor="end" fill="#444" style="font-size:8.76px;">2</text>
<line x1="34.50" y1="337.40" x2="36.80" y2="337.40" stroke="#666" stroke-width="0.7"/>
<text transform="translate(31.50,339.90) scale(0.9166666666666667,1)" text-anchor="end" fill="#444" style="font-size:8.76px;">0</text>
<line x1="34.50" y1="375.20" x2="36.80" y2="375.20" stroke="#666" stroke-width="0.7"/>
<text transform="translate(31.50,377.70) scale(0.9166666666666667,1)" text-anchor="end" fill="#444" style="font-size:8.76px;">−2</text>
<line x1="43.60" y1="408.60" x2="43.60" y2="410.90" stroke="#666" stroke-width="0.7"/>
<text transform="translate(43.60,420.00) scale(0.9166666666666667,1)" text-anchor="middle" fill="#444" style="font-size:8.76px;">−2</text>
<line x1="78.75" y1="408.60" x2="78.75" y2="410.90" stroke="#666" stroke-width="0.7"/>
<text transform="translate(78.75,420.00) scale(0.9166666666666667,1)" text-anchor="middle" fill="#444" style="font-size:8.76px;">−1</text>
<line x1="113.90" y1="408.60" x2="113.90" y2="410.90" stroke="#666" stroke-width="0.7"/>
<text transform="translate(113.90,420.00) scale(0.9166666666666667,1)" text-anchor="middle" fill="#444" style="font-size:8.76px;">0</text>
<line x1="149.05" y1="408.60" x2="149.05" y2="410.90" stroke="#666" stroke-width="0.7"/>
<text transform="translate(149.05,420.00) scale(0.9166666666666667,1)" text-anchor="middle" fill="#444" style="font-size:8.76px;">1</text>
<text transform="translate(111.00,432.60) scale(0.9166666666666667,1)" text-anchor="middle" fill="#333" style="font-size:9.839999999999998px;">UMAP1</text>
<text transform="translate(19.20,341.50) rotate(-90) scale(0.9166666666666667,1)" text-anchor="middle" fill="#333" style="font-size:9.839999999999998px;">UMAP2</text>
<text transform="translate(46.00,274.40) scale(0.9166666666666667,1)" text-anchor="start" fill="#f5a040" style="font-size:9.839999999999998px;">Inflammatory</text>
<text transform="translate(106.50,274.40) scale(0.9166666666666667,1)" text-anchor="start" fill="#3d86c6" style="font-size:9.839999999999998px;">Noninflammatory</text>
<circle cx="83.50" cy="281.10" r="2.1" fill="#5a8ac6"/>
<circle cx="89.00" cy="282.60" r="2.1" fill="#5a8ac6"/>
<circle cx="73.80" cy="284.00" r="2.1" fill="#5a8ac6"/>
<circle cx="65.40" cy="284.90" r="2.1" fill="#5a8ac6"/>
<circle cx="54.30" cy="286.70" r="2.1" fill="#5a8ac6"/>
<circle cx="59.40" cy="287.30" r="2.1" fill="#5a8ac6"/>
<circle cx="89.90" cy="287.50" r="2.1" fill="#5a8ac6"/>
<circle cx="67.40" cy="289.50" r="2.1" fill="#5a8ac6"/>
<circle cx="48.10" cy="295.10" r="2.1" fill="#5a8ac6"/>
<circle cx="59.50" cy="294.20" r="2.1" fill="#5a8ac6"/>
<circle cx="83.10" cy="294.20" r="2.1" fill="#5a8ac6"/>
<circle cx="87.00" cy="299.00" r="2.1" fill="#5a8ac6"/>
<circle cx="97.20" cy="298.00" r="2.1" fill="#5a8ac6"/>
<circle cx="108.00" cy="297.10" r="2.1" fill="#5a8ac6"/>
<circle cx="44.60" cy="299.80" r="2.1" fill="#5a8ac6"/>
<circle cx="47.30" cy="300.90" r="2.1" fill="#5a8ac6"/>
<circle cx="61.30" cy="299.90" r="2.1" fill="#5a8ac6"/>
<circle cx="55.70" cy="305.40" r="2.1" fill="#5a8ac6"/>
<circle cx="59.00" cy="305.60" r="2.1" fill="#5a8ac6"/>
<circle cx="63.40" cy="305.40" r="2.1" fill="#5a8ac6"/>
<circle cx="74.00" cy="304.10" r="2.1" fill="#5a8ac6"/>
<circle cx="74.00" cy="310.10" r="2.1" fill="#5a8ac6"/>
<circle cx="77.50" cy="313.00" r="2.1" fill="#5a8ac6"/>
<circle cx="85.40" cy="311.50" r="2.1" fill="#5a8ac6"/>
<circle cx="99.30" cy="309.20" r="2.1" fill="#5a8ac6"/>
<circle cx="110.60" cy="311.80" r="2.1" fill="#5a8ac6"/>
<circle cx="75.90" cy="318.50" r="2.1" fill="#5a8ac6"/>
<circle cx="93.10" cy="317.50" r="2.1" fill="#5a8ac6"/>
<circle cx="95.80" cy="321.00" r="2.1" fill="#5a8ac6"/>
<circle cx="81.70" cy="325.10" r="2.1" fill="#5a8ac6"/>
<circle cx="93.90" cy="325.70" r="2.1" fill="#5a8ac6"/>
<circle cx="84.00" cy="334.20" r="2.1" fill="#5a8ac6"/>
<circle cx="97.00" cy="332.80" r="2.1" fill="#5a8ac6"/>
<circle cx="101.60" cy="336.80" r="2.1" fill="#5a8ac6"/>
<circle cx="117.60" cy="284.20" r="2.1" fill="#5a8ac6"/>
<circle cx="116.10" cy="285.80" r="2.1" fill="#5a8ac6"/>
<circle cx="114.60" cy="286.90" r="2.1" fill="#5a8ac6"/>
<circle cx="151.50" cy="290.70" r="2.1" fill="#5a8ac6"/>
<circle cx="156.00" cy="292.80" r="2.1" fill="#5a8ac6"/>
<circle cx="158.10" cy="293.00" r="2.1" fill="#5a8ac6"/>
<circle cx="160.50" cy="295.50" r="2.1" fill="#5a8ac6"/>
<circle cx="161.90" cy="298.60" r="2.1" fill="#5a8ac6"/>
<circle cx="130.90" cy="293.00" r="2.1" fill="#5a8ac6"/>
<circle cx="142.10" cy="293.70" r="2.1" fill="#5a8ac6"/>
<circle cx="107.60" cy="296.90" r="2.1" fill="#5a8ac6"/>
<circle cx="110.60" cy="297.10" r="2.1" fill="#5a8ac6"/>
<circle cx="114.10" cy="295.70" r="2.1" fill="#5a8ac6"/>
<circle cx="124.60" cy="298.60" r="2.1" fill="#5a8ac6"/>
<circle cx="146.80" cy="300.10" r="2.1" fill="#5a8ac6"/>
<circle cx="151.70" cy="302.40" r="2.1" fill="#5a8ac6"/>
<circle cx="137.00" cy="303.60" r="2.1" fill="#5a8ac6"/>
<circle cx="123.70" cy="304.70" r="2.1" fill="#5a8ac6"/>
<circle cx="117.60" cy="314.70" r="2.1" fill="#5a8ac6"/>
<circle cx="120.00" cy="313.90" r="2.1" fill="#5a8ac6"/>
<circle cx="133.30" cy="311.50" r="2.1" fill="#5a8ac6"/>
<circle cx="135.10" cy="311.10" r="2.1" fill="#5a8ac6"/>
<circle cx="141.40" cy="313.90" r="2.1" fill="#5a8ac6"/>
<circle cx="143.50" cy="317.30" r="2.1" fill="#5a8ac6"/>
<circle cx="152.30" cy="314.40" r="2.1" fill="#5a8ac6"/>
<circle cx="159.90" cy="314.40" r="2.1" fill="#5a8ac6"/>
<circle cx="135.80" cy="320.50" r="2.1" fill="#5a8ac6"/>
<circle cx="156.90" cy="321.00" r="2.1" fill="#5a8ac6"/>
<circle cx="173.70" cy="321.60" r="2.1" fill="#5a8ac6"/>
<circle cx="112.00" cy="327.20" r="2.1" fill="#5a8ac6"/>
<circle cx="118.80" cy="329.00" r="2.1" fill="#5a8ac6"/>
<circle cx="128.90" cy="325.60" r="2.1" fill="#5a8ac6"/>
<circle cx="135.70" cy="325.80" r="2.1" fill="#5a8ac6"/>
<circle cx="173.00" cy="328.40" r="2.1" fill="#5a8ac6"/>
<circle cx="134.20" cy="334.80" r="2.1" fill="#5a8ac6"/>
<circle cx="144.70" cy="333.10" r="2.1" fill="#5a8ac6"/>
<circle cx="156.90" cy="332.80" r="2.1" fill="#5a8ac6"/>
<circle cx="167.10" cy="331.30" r="2.1" fill="#5a8ac6"/>
<circle cx="120.50" cy="337.70" r="2.1" fill="#5a8ac6"/>
<circle cx="113.00" cy="339.80" r="2.1" fill="#5a8ac6"/>
<circle cx="101.20" cy="340.80" r="2.1" fill="#5a8ac6"/>
<circle cx="91.30" cy="343.40" r="2.1" fill="#5a8ac6"/>
<circle cx="96.20" cy="346.10" r="2.1" fill="#5a8ac6"/>
<circle cx="108.80" cy="345.30" r="2.1" fill="#5a8ac6"/>
<circle cx="78.20" cy="351.40" r="2.1" fill="#5a8ac6"/>
<circle cx="117.00" cy="347.30" r="2.1" fill="#5a8ac6"/>
<circle cx="114.90" cy="350.50" r="2.1" fill="#5a8ac6"/>
<circle cx="131.90" cy="347.80" r="2.1" fill="#5a8ac6"/>
<circle cx="138.50" cy="344.90" r="2.1" fill="#5a8ac6"/>
<circle cx="141.20" cy="345.70" r="2.1" fill="#5a8ac6"/>
<circle cx="138.50" cy="349.60" r="2.1" fill="#5a8ac6"/>
<circle cx="141.60" cy="352.90" r="2.1" fill="#5a8ac6"/>
<circle cx="154.90" cy="346.90" r="2.1" fill="#5a8ac6"/>
<circle cx="160.50" cy="343.20" r="2.1" fill="#5a8ac6"/>
<circle cx="156.00" cy="352.80" r="2.1" fill="#5a8ac6"/>
<circle cx="165.10" cy="354.90" r="2.1" fill="#5a8ac6"/>
<circle cx="124.30" cy="353.30" r="2.1" fill="#5a8ac6"/>
<circle cx="121.00" cy="356.30" r="2.1" fill="#5a8ac6"/>
<circle cx="135.40" cy="359.90" r="2.1" fill="#5a8ac6"/>
<circle cx="149.40" cy="358.10" r="2.1" fill="#5a8ac6"/>
<circle cx="150.50" cy="358.90" r="2.1" fill="#5a8ac6"/>
<circle cx="158.70" cy="363.00" r="2.1" fill="#5a8ac6"/>
<circle cx="140.00" cy="367.40" r="2.1" fill="#5a8ac6"/>
<circle cx="163.00" cy="368.90" r="2.1" fill="#5a8ac6"/>
<circle cx="130.10" cy="372.40" r="2.1" fill="#5a8ac6"/>
<circle cx="153.80" cy="375.90" r="2.1" fill="#5a8ac6"/>
<circle cx="124.60" cy="382.30" r="2.1" fill="#5a8ac6"/>
<circle cx="139.50" cy="381.20" r="2.1" fill="#5a8ac6"/>
<circle cx="148.00" cy="381.20" r="2.1" fill="#5a8ac6"/>
<circle cx="145.60" cy="389.00" r="2.1" fill="#5a8ac6"/>
<circle cx="144.70" cy="392.50" r="2.1" fill="#5a8ac6"/>
<circle cx="121.90" cy="397.70" r="2.1" fill="#5a8ac6"/>
<circle cx="117.00" cy="399.80" r="2.1" fill="#5a8ac6"/>
<circle cx="90.50" cy="293.90" r="2.1" fill="#f59c50"/>
<circle cx="61.80" cy="326.60" r="2.1" fill="#f59c50"/>
<circle cx="67.10" cy="324.70" r="2.1" fill="#f59c50"/>
<circle cx="76.20" cy="332.80" r="2.1" fill="#f59c50"/>
<circle cx="61.80" cy="339.70" r="2.1" fill="#f59c50"/>
<circle cx="74.20" cy="338.60" r="2.1" fill="#f59c50"/>
<circle cx="113.80" cy="324.90" r="2.1" fill="#f59c50"/>
<circle cx="175.70" cy="327.00" r="2.1" fill="#f59c50"/>
<circle cx="71.10" cy="351.00" r="2.1" fill="#f59c50"/>
<circle cx="92.50" cy="357.80" r="2.1" fill="#f59c50"/>
<circle cx="89.00" cy="361.60" r="2.1" fill="#f59c50"/>
<circle cx="86.10" cy="363.40" r="2.1" fill="#f59c50"/>
<circle cx="95.10" cy="364.20" r="2.1" fill="#f59c50"/>
<circle cx="105.90" cy="359.90" r="2.1" fill="#f59c50"/>
<circle cx="107.10" cy="365.10" r="2.1" fill="#f59c50"/>
<circle cx="93.90" cy="376.20" r="2.1" fill="#f59c50"/>
<circle cx="108.50" cy="375.90" r="2.1" fill="#f59c50"/>
<circle cx="89.80" cy="388.70" r="2.1" fill="#f59c50"/>
<circle cx="99.80" cy="388.70" r="2.1" fill="#f59c50"/>
<circle cx="98.90" cy="391.60" r="2.1" fill="#f59c50"/>
<circle cx="104.70" cy="386.40" r="2.1" fill="#f59c50"/>
<circle cx="108.20" cy="386.00" r="2.1" fill="#f59c50"/>
<circle cx="82.00" cy="395.50" r="2.1" fill="#f59c50"/>
<circle cx="80.20" cy="396.30" r="2.1" fill="#f59c50"/>
<circle cx="95.40" cy="395.50" r="2.1" fill="#f59c50"/>
<circle cx="98.90" cy="398.10" r="2.1" fill="#f59c50"/>
<circle cx="91.50" cy="399.20" r="2.1" fill="#f59c50"/>
<circle cx="97.20" cy="402.20" r="2.1" fill="#f59c50"/>
<circle cx="108.00" cy="395.70" r="2.1" fill="#f59c50"/>
<circle cx="113.80" cy="380.50" r="2.1" fill="#f59c50"/>
<circle cx="122.50" cy="376.80" r="2.1" fill="#f59c50"/>
<circle cx="123.90" cy="389.10" r="2.1" fill="#f59c50"/>
<circle cx="112.00" cy="395.40" r="2.1" fill="#f59c50"/>
<circle cx="120.80" cy="394.80" r="2.1" fill="#f59c50"/>
<circle cx="124.60" cy="394.90" r="2.1" fill="#f59c50"/>
<circle cx="138.60" cy="394.80" r="2.1" fill="#f59c50"/>
<circle cx="141.20" cy="396.00" r="2.1" fill="#f59c50"/>
<circle cx="152.00" cy="395.10" r="2.1" fill="#f59c50"/>
<circle cx="156.00" cy="372.40" r="2.1" fill="#f59c50"/>
<text transform="translate(43.80,365.80) scale(0.9166666666666667,1)" text-anchor="start" fill="#333" style="font-size:9.839999999999998px;">Cluster</text>
<text transform="translate(43.80,376.20) scale(0.9416666666666667,1)" text-anchor="start" fill="#333" style="font-size:9.839999999999998px;">probability</text>
<circle cx="52.20" cy="382.60" r="0.45" fill="#666"/>
<text transform="translate(58.00,384.90) scale(0.8083333333333333,1)" text-anchor="start" fill="#333" style="font-size:8.76px;">0%</text>
<circle cx="52.20" cy="389.30" r="1.9" fill="#666"/>
<text transform="translate(58.00,391.60) scale(0.8083333333333333,1)" text-anchor="start" fill="#333" style="font-size:8.76px;">50%</text>
<circle cx="52.20" cy="396.30" r="2.65" fill="#666"/>
<text transform="translate(58.00,398.60) scale(0.8083333333333333,1)" text-anchor="start" fill="#333" style="font-size:8.76px;">100%</text>
<text transform="translate(190.50,273.50)" text-anchor="start" fill="#111" style="font-size:12.3px;font-weight:bold;">d</text>
<line x1="219.60" y1="295.10" x2="284.60" y2="295.10" stroke="#ebebeb" stroke-width="0.7"/>
<line x1="219.60" y1="312.10" x2="284.60" y2="312.10" stroke="#ebebeb" stroke-width="0.7"/>
<line x1="219.60" y1="329.10" x2="284.60" y2="329.10" stroke="#ebebeb" stroke-width="0.7"/>
<line x1="219.60" y1="346.10" x2="284.60" y2="346.10" stroke="#ebebeb" stroke-width="0.7"/>
<line x1="219.60" y1="363.10" x2="284.60" y2="363.10" stroke="#ebebeb" stroke-width="0.7"/>
<line x1="219.60" y1="380.10" x2="284.60" y2="380.10" stroke="#ebebeb" stroke-width="0.7"/>
<line x1="219.60" y1="397.10" x2="284.60" y2="397.10" stroke="#ebebeb" stroke-width="0.7"/>
<line x1="237.30" y1="277.40" x2="237.30" y2="413.30" stroke="#ebebeb" stroke-width="0.7"/>
<line x1="266.40" y1="277.40" x2="266.40" y2="413.30" stroke="#ebebeb" stroke-width="0.7"/>
<line x1="237.30" y1="356.50" x2="237.30" y2="382.10" stroke="#6d9ed2" stroke-width="0.8"/>
<line x1="237.30" y1="396.80" x2="237.30" y2="407.00" stroke="#6d9ed2" stroke-width="0.8"/>
<rect x="225.20" y="382.10" width="24.10" height="14.70" fill="#d6e2f2" stroke="#6d9ed2" stroke-width="0.8"/>
<line x1="225.20" y1="390.40" x2="249.30" y2="390.40" stroke="#6d9ed2" stroke-width="1.1"/>
<line x1="266.40" y1="320.20" x2="266.40" y2="352.00" stroke="#f4a47c" stroke-width="0.8"/>
<line x1="266.40" y1="394.60" x2="266.40" y2="403.50" stroke="#f4a47c" stroke-width="0.8"/>
<rect x="254.70" y="352.00" width="24.00" height="42.60" fill="#fbe8e0" stroke="#f4a47c" stroke-width="0.8"/>
<line x1="254.70" y1="369.30" x2="278.70" y2="369.30" stroke="#f4a47c" stroke-width="1.1"/>
<circle cx="231.80" cy="356.90" r="1.2" fill="#1c63a8"/>
<circle cx="235.30" cy="358.30" r="1.2" fill="#1c63a8"/>
<circle cx="235.70" cy="361.60" r="1.2" fill="#1c63a8"/>
<circle cx="239.20" cy="365.40" r="1.2" fill="#1c63a8"/>
<circle cx="242.50" cy="366.00" r="1.2" fill="#1c63a8"/>
<circle cx="244.10" cy="366.00" r="1.2" fill="#1c63a8"/>
<circle cx="230.70" cy="368.80" r="1.2" fill="#1c63a8"/>
<circle cx="235.70" cy="370.10" r="1.2" fill="#1c63a8"/>
<circle cx="241.80" cy="368.40" r="1.2" fill="#1c63a8"/>
<circle cx="234.40" cy="373.00" r="1.2" fill="#1c63a8"/>
<circle cx="243.50" cy="374.90" r="1.2" fill="#1c63a8"/>
<circle cx="232.70" cy="375.80" r="1.2" fill="#1c63a8"/>
<circle cx="237.30" cy="377.30" r="1.2" fill="#1c63a8"/>
<circle cx="243.70" cy="407.40" r="1.2" fill="#1c63a8"/>
<circle cx="236.50" cy="405.00" r="1.2" fill="#1c63a8"/>
<circle cx="235.35" cy="392.62" r="1.2" fill="#1c63a8"/>
<circle cx="238.86" cy="400.13" r="1.2" fill="#1c63a8"/>
<circle cx="230.00" cy="390.32" r="1.2" fill="#1c63a8"/>
<circle cx="242.36" cy="390.30" r="1.2" fill="#1c63a8"/>
<circle cx="244.73" cy="391.72" r="1.2" fill="#1c63a8"/>
<circle cx="236.85" cy="396.74" r="1.2" fill="#1c63a8"/>
<circle cx="239.39" cy="395.82" r="1.2" fill="#1c63a8"/>
<circle cx="232.06" cy="385.67" r="1.2" fill="#1c63a8"/>
<circle cx="237.65" cy="383.34" r="1.2" fill="#1c63a8"/>
<circle cx="240.92" cy="382.19" r="1.2" fill="#1c63a8"/>
<circle cx="241.17" cy="390.88" r="1.2" fill="#1c63a8"/>
<circle cx="238.67" cy="389.92" r="1.2" fill="#1c63a8"/>
<circle cx="242.78" cy="391.48" r="1.2" fill="#1c63a8"/>
<circle cx="236.89" cy="393.55" r="1.2" fill="#1c63a8"/>
<circle cx="240.51" cy="389.40" r="1.2" fill="#1c63a8"/>
<circle cx="243.62" cy="378.90" r="1.2" fill="#1c63a8"/>
<circle cx="236.47" cy="382.77" r="1.2" fill="#1c63a8"/>
<circle cx="243.83" cy="399.16" r="1.2" fill="#1c63a8"/>
<circle cx="231.84" cy="394.13" r="1.2" fill="#1c63a8"/>
<circle cx="233.05" cy="389.97" r="1.2" fill="#1c63a8"/>
<circle cx="239.20" cy="398.80" r="1.2" fill="#1c63a8"/>
<circle cx="234.32" cy="390.50" r="1.2" fill="#1c63a8"/>
<circle cx="235.06" cy="385.59" r="1.2" fill="#1c63a8"/>
<circle cx="238.58" cy="391.71" r="1.2" fill="#1c63a8"/>
<circle cx="240.03" cy="379.85" r="1.2" fill="#1c63a8"/>
<circle cx="243.73" cy="384.89" r="1.2" fill="#1c63a8"/>
<circle cx="239.87" cy="404.36" r="1.2" fill="#1c63a8"/>
<circle cx="232.25" cy="377.00" r="1.2" fill="#1c63a8"/>
<circle cx="243.37" cy="402.76" r="1.2" fill="#1c63a8"/>
<circle cx="238.34" cy="379.09" r="1.2" fill="#1c63a8"/>
<circle cx="242.27" cy="390.99" r="1.2" fill="#1c63a8"/>
<circle cx="238.40" cy="387.64" r="1.2" fill="#1c63a8"/>
<circle cx="242.61" cy="391.49" r="1.2" fill="#1c63a8"/>
<circle cx="244.65" cy="394.30" r="1.2" fill="#1c63a8"/>
<circle cx="235.96" cy="401.91" r="1.2" fill="#1c63a8"/>
<circle cx="232.06" cy="398.16" r="1.2" fill="#1c63a8"/>
<circle cx="242.89" cy="388.97" r="1.2" fill="#1c63a8"/>
<circle cx="230.46" cy="402.70" r="1.2" fill="#1c63a8"/>
<circle cx="240.58" cy="390.52" r="1.2" fill="#1c63a8"/>
<circle cx="234.76" cy="390.70" r="1.2" fill="#1c63a8"/>
<circle cx="237.38" cy="405.38" r="1.2" fill="#1c63a8"/>
<circle cx="244.78" cy="379.58" r="1.2" fill="#1c63a8"/>
<circle cx="238.80" cy="391.05" r="1.2" fill="#1c63a8"/>
<circle cx="230.27" cy="394.42" r="1.2" fill="#1c63a8"/>
<circle cx="238.96" cy="394.16" r="1.2" fill="#1c63a8"/>
<circle cx="232.14" cy="398.29" r="1.2" fill="#1c63a8"/>
<circle cx="234.51" cy="404.61" r="1.2" fill="#1c63a8"/>
<circle cx="244.18" cy="395.45" r="1.2" fill="#1c63a8"/>
<circle cx="236.71" cy="397.04" r="1.2" fill="#1c63a8"/>
<circle cx="237.60" cy="388.17" r="1.2" fill="#1c63a8"/>
<circle cx="238.19" cy="386.59" r="1.2" fill="#1c63a8"/>
<circle cx="239.10" cy="385.13" r="1.2" fill="#1c63a8"/>
<circle cx="236.27" cy="399.20" r="1.2" fill="#1c63a8"/>
<circle cx="240.60" cy="389.18" r="1.2" fill="#1c63a8"/>
<circle cx="244.47" cy="392.43" r="1.2" fill="#1c63a8"/>
<circle cx="237.62" cy="397.49" r="1.2" fill="#1c63a8"/>
<circle cx="236.03" cy="391.06" r="1.2" fill="#1c63a8"/>
<circle cx="238.50" cy="391.70" r="1.2" fill="#1c63a8"/>
<circle cx="239.28" cy="400.92" r="1.2" fill="#1c63a8"/>
<circle cx="230.70" cy="393.13" r="1.2" fill="#1c63a8"/>
<circle cx="239.99" cy="386.93" r="1.2" fill="#1c63a8"/>
<circle cx="235.09" cy="386.77" r="1.2" fill="#1c63a8"/>
<circle cx="230.13" cy="389.16" r="1.2" fill="#1c63a8"/>
<circle cx="230.71" cy="381.75" r="1.2" fill="#1c63a8"/>
<circle cx="233.57" cy="384.51" r="1.2" fill="#1c63a8"/>
<circle cx="236.64" cy="377.06" r="1.2" fill="#1c63a8"/>
<circle cx="235.26" cy="387.23" r="1.2" fill="#1c63a8"/>
<circle cx="234.49" cy="388.86" r="1.2" fill="#1c63a8"/>
<circle cx="234.31" cy="386.05" r="1.2" fill="#1c63a8"/>
<circle cx="235.46" cy="398.41" r="1.2" fill="#1c63a8"/>
<circle cx="238.34" cy="392.21" r="1.2" fill="#1c63a8"/>
<circle cx="240.83" cy="390.50" r="1.2" fill="#1c63a8"/>
<circle cx="241.86" cy="390.30" r="1.2" fill="#1c63a8"/>
<circle cx="233.38" cy="396.29" r="1.2" fill="#1c63a8"/>
<circle cx="240.27" cy="394.66" r="1.2" fill="#1c63a8"/>
<circle cx="231.33" cy="398.42" r="1.2" fill="#1c63a8"/>
<circle cx="242.30" cy="389.44" r="1.2" fill="#1c63a8"/>
<circle cx="236.38" cy="397.27" r="1.2" fill="#1c63a8"/>
<circle cx="234.85" cy="394.44" r="1.2" fill="#1c63a8"/>
<circle cx="239.55" cy="388.88" r="1.2" fill="#1c63a8"/>
<circle cx="233.18" cy="397.34" r="1.2" fill="#1c63a8"/>
<circle cx="231.61" cy="387.29" r="1.2" fill="#1c63a8"/>
<circle cx="241.90" cy="387.84" r="1.2" fill="#1c63a8"/>
<circle cx="242.38" cy="391.22" r="1.2" fill="#1c63a8"/>
<circle cx="241.91" cy="394.13" r="1.2" fill="#1c63a8"/>
<circle cx="239.43" cy="396.80" r="1.2" fill="#1c63a8"/>
<circle cx="231.75" cy="394.07" r="1.2" fill="#1c63a8"/>
<circle cx="234.18" cy="386.39" r="1.2" fill="#1c63a8"/>
<circle cx="235.00" cy="393.41" r="1.2" fill="#1c63a8"/>
<circle cx="236.05" cy="387.03" r="1.2" fill="#1c63a8"/>
<circle cx="243.61" cy="386.16" r="1.2" fill="#1c63a8"/>
<circle cx="232.14" cy="395.22" r="1.2" fill="#1c63a8"/>
<circle cx="243.00" cy="406.00" r="1.2" fill="#1c63a8"/>
<circle cx="244.60" cy="392.46" r="1.2" fill="#1c63a8"/>
<circle cx="243.71" cy="377.42" r="1.2" fill="#1c63a8"/>
<circle cx="269.30" cy="283.60" r="1.2" fill="#f07a22"/>
<circle cx="271.50" cy="320.20" r="1.2" fill="#f07a22"/>
<circle cx="262.40" cy="329.40" r="1.2" fill="#f07a22"/>
<circle cx="274.20" cy="328.70" r="1.2" fill="#f07a22"/>
<circle cx="271.90" cy="333.70" r="1.2" fill="#f07a22"/>
<circle cx="268.00" cy="340.10" r="1.2" fill="#f07a22"/>
<circle cx="272.60" cy="339.60" r="1.2" fill="#f07a22"/>
<circle cx="262.40" cy="344.00" r="1.2" fill="#f07a22"/>
<circle cx="272.60" cy="339.80" r="1.2" fill="#f07a22"/>
<circle cx="262.40" cy="344.40" r="1.2" fill="#f07a22"/>
<circle cx="268.70" cy="349.00" r="1.2" fill="#f07a22"/>
<circle cx="263.20" cy="351.60" r="1.2" fill="#f07a22"/>
<circle cx="266.70" cy="352.90" r="1.2" fill="#f07a22"/>
<circle cx="262.40" cy="355.50" r="1.2" fill="#f07a22"/>
<circle cx="273.00" cy="356.20" r="1.2" fill="#f07a22"/>
<circle cx="274.20" cy="358.60" r="1.2" fill="#f07a22"/>
<circle cx="264.10" cy="359.90" r="1.2" fill="#f07a22"/>
<circle cx="273.90" cy="360.80" r="1.2" fill="#f07a22"/>
<circle cx="259.50" cy="366.80" r="1.2" fill="#f07a22"/>
<circle cx="273.50" cy="367.10" r="1.2" fill="#f07a22"/>
<circle cx="265.70" cy="368.80" r="1.2" fill="#f07a22"/>
<circle cx="268.90" cy="369.30" r="1.2" fill="#f07a22"/>
<circle cx="259.50" cy="374.00" r="1.2" fill="#f07a22"/>
<circle cx="265.70" cy="374.00" r="1.2" fill="#f07a22"/>
<circle cx="265.00" cy="378.80" r="1.2" fill="#f07a22"/>
<circle cx="272.30" cy="379.50" r="1.2" fill="#f07a22"/>
<circle cx="260.80" cy="382.50" r="1.2" fill="#f07a22"/>
<circle cx="259.50" cy="393.20" r="1.2" fill="#f07a22"/>
<circle cx="263.80" cy="392.60" r="1.2" fill="#f07a22"/>
<circle cx="260.50" cy="395.00" r="1.2" fill="#f07a22"/>
<circle cx="264.50" cy="393.90" r="1.2" fill="#f07a22"/>
<circle cx="273.20" cy="396.80" r="1.2" fill="#f07a22"/>
<circle cx="260.20" cy="398.10" r="1.2" fill="#f07a22"/>
<circle cx="264.70" cy="397.20" r="1.2" fill="#f07a22"/>
<circle cx="272.60" cy="399.40" r="1.2" fill="#f07a22"/>
<circle cx="262.10" cy="400.40" r="1.2" fill="#f07a22"/>
<circle cx="267.40" cy="400.00" r="1.2" fill="#f07a22"/>
<circle cx="269.00" cy="401.10" r="1.2" fill="#f07a22"/>
<circle cx="272.20" cy="403.30" r="1.2" fill="#f07a22"/>
<line x1="219.60" y1="277.40" x2="219.60" y2="413.30" stroke="#777" stroke-width="0.9"/>
<line x1="219.60" y1="413.30" x2="284.60" y2="413.30" stroke="#777" stroke-width="0.9"/>
<line x1="284.60" y1="277.40" x2="284.60" y2="413.30" stroke="#aaa" stroke-width="0.8"/>
<line x1="219.60" y1="277.40" x2="284.60" y2="277.40" stroke="#aaa" stroke-width="0.8"/>
<line x1="215.80" y1="278.10" x2="219.60" y2="278.10" stroke="#666" stroke-width="0.7"/>
<text transform="translate(212.00,280.70) scale(0.9166666666666667,1)" text-anchor="end" fill="#444" style="font-size:8.76px;">4.0</text>
<line x1="215.80" y1="312.10" x2="219.60" y2="312.10" stroke="#666" stroke-width="0.7"/>
<text transform="translate(212.00,314.70) scale(0.9166666666666667,1)" text-anchor="end" fill="#444" style="font-size:8.76px;">3.5</text>
<line x1="215.80" y1="346.10" x2="219.60" y2="346.10" stroke="#666" stroke-width="0.7"/>
<text transform="translate(212.00,348.70) scale(0.9166666666666667,1)" text-anchor="end" fill="#444" style="font-size:8.76px;">3.0</text>
<line x1="215.80" y1="380.10" x2="219.60" y2="380.10" stroke="#666" stroke-width="0.7"/>
<text transform="translate(212.00,382.70) scale(0.9166666666666667,1)" text-anchor="end" fill="#444" style="font-size:8.76px;">2.5</text>
<line x1="237.30" y1="413.30" x2="237.30" y2="415.70" stroke="#666" stroke-width="0.7"/>
<line x1="266.40" y1="413.30" x2="266.40" y2="415.70" stroke="#666" stroke-width="0.7"/>
<text transform="translate(251.40,273.30) scale(0.9166666666666667,1)" text-anchor="middle" fill="#333" style="font-size:9.839999999999998px;">LDH</text>
<text transform="translate(226.80,289.00) scale(0.8166666666666667,1)" text-anchor="start" fill="#333" style="font-size:9.12px;">P &lt; 0.001</text>
<text transform="translate(198.50,346.50) rotate(-90) scale(1.08,1)" text-anchor="middle" fill="#333" style="font-size:8.2px">log<tspan dy="1.8" style="font-size:5.5px">10</tspan><tspan dy="-1.8">−normalized LDH</tspan></text>
<text transform="translate(295.80,273.50)" text-anchor="start" fill="#111" style="font-size:12.3px;font-weight:bold;">e</text>
<line x1="320.50" y1="407.40" x2="391.60" y2="407.40" stroke="#ebebeb" stroke-width="0.7"/>
<line x1="320.50" y1="390.90" x2="391.60" y2="390.90" stroke="#ebebeb" stroke-width="0.7"/>
<line x1="320.50" y1="374.40" x2="391.60" y2="374.40" stroke="#ebebeb" stroke-width="0.7"/>
<line x1="320.50" y1="357.90" x2="391.60" y2="357.90" stroke="#ebebeb" stroke-width="0.7"/>
<line x1="320.50" y1="341.40" x2="391.60" y2="341.40" stroke="#ebebeb" stroke-width="0.7"/>
<line x1="320.50" y1="324.90" x2="391.60" y2="324.90" stroke="#ebebeb" stroke-width="0.7"/>
<line x1="320.50" y1="308.40" x2="391.60" y2="308.40" stroke="#ebebeb" stroke-width="0.7"/>
<line x1="320.50" y1="291.90" x2="391.60" y2="291.90" stroke="#ebebeb" stroke-width="0.7"/>
<line x1="339.40" y1="275.40" x2="339.40" y2="413.40" stroke="#ebebeb" stroke-width="0.7"/>
<line x1="372.30" y1="275.40" x2="372.30" y2="413.40" stroke="#ebebeb" stroke-width="0.7"/>
<line x1="339.40" y1="310.90" x2="339.40" y2="342.80" stroke="#6d9ed2" stroke-width="0.8"/>
<line x1="339.40" y1="407.40" x2="339.40" y2="407.40" stroke="#6d9ed2" stroke-width="0.8"/>
<rect x="326.30" y="342.80" width="26.40" height="64.60" fill="#d6e2f2" stroke="#6d9ed2" stroke-width="0.8"/>
<line x1="326.30" y1="364.20" x2="352.70" y2="364.20" stroke="#6d9ed2" stroke-width="1.1"/>
<line x1="372.30" y1="281.70" x2="372.30" y2="308.80" stroke="#f4a47c" stroke-width="0.8"/>
<line x1="372.30" y1="348.50" x2="372.30" y2="407.40" stroke="#f4a47c" stroke-width="0.8"/>
<rect x="359.10" y="308.80" width="26.10" height="39.70" fill="#fbe8e0" stroke="#f4a47c" stroke-width="0.8"/>
<line x1="359.10" y1="329.40" x2="385.20" y2="329.40" stroke="#f4a47c" stroke-width="1.1"/>
<circle cx="344.60" cy="310.80" r="1.2" fill="#1c63a8"/>
<circle cx="333.80" cy="317.20" r="1.2" fill="#1c63a8"/>
<circle cx="332.80" cy="321.20" r="1.2" fill="#1c63a8"/>
<circle cx="335.00" cy="327.50" r="1.2" fill="#1c63a8"/>
<circle cx="340.80" cy="327.80" r="1.2" fill="#1c63a8"/>
<circle cx="343.70" cy="329.20" r="1.2" fill="#1c63a8"/>
<circle cx="347.30" cy="326.70" r="1.2" fill="#1c63a8"/>
<circle cx="347.50" cy="329.00" r="1.2" fill="#1c63a8"/>
<circle cx="344.00" cy="333.60" r="1.2" fill="#1c63a8"/>
<circle cx="346.30" cy="333.00" r="1.2" fill="#1c63a8"/>
<circle cx="338.80" cy="336.70" r="1.2" fill="#1c63a8"/>
<circle cx="346.60" cy="338.20" r="1.2" fill="#1c63a8"/>
<circle cx="333.00" cy="339.40" r="1.2" fill="#1c63a8"/>
<circle cx="331.60" cy="341.10" r="1.2" fill="#1c63a8"/>
<circle cx="334.20" cy="342.30" r="1.2" fill="#1c63a8"/>
<circle cx="341.10" cy="342.30" r="1.2" fill="#1c63a8"/>
<circle cx="346.30" cy="341.10" r="1.2" fill="#1c63a8"/>
<circle cx="345.20" cy="342.80" r="1.2" fill="#1c63a8"/>
<circle cx="333.20" cy="339.90" r="1.2" fill="#1c63a8"/>
<circle cx="333.80" cy="343.70" r="1.2" fill="#1c63a8"/>
<circle cx="346.40" cy="338.60" r="1.2" fill="#1c63a8"/>
<circle cx="340.80" cy="347.90" r="1.2" fill="#1c63a8"/>
<circle cx="336.10" cy="351.00" r="1.2" fill="#1c63a8"/>
<circle cx="346.40" cy="350.40" r="1.2" fill="#1c63a8"/>
<circle cx="340.10" cy="353.20" r="1.2" fill="#1c63a8"/>
<circle cx="344.60" cy="353.20" r="1.2" fill="#1c63a8"/>
<circle cx="340.10" cy="355.10" r="1.2" fill="#1c63a8"/>
<circle cx="340.80" cy="357.00" r="1.2" fill="#1c63a8"/>
<circle cx="336.30" cy="358.90" r="1.2" fill="#1c63a8"/>
<circle cx="341.40" cy="360.40" r="1.2" fill="#1c63a8"/>
<circle cx="332.30" cy="361.10" r="1.2" fill="#1c63a8"/>
<circle cx="338.20" cy="362.00" r="1.2" fill="#1c63a8"/>
<circle cx="345.20" cy="361.80" r="1.2" fill="#1c63a8"/>
<circle cx="347.70" cy="362.70" r="1.2" fill="#1c63a8"/>
<circle cx="337.00" cy="363.90" r="1.2" fill="#1c63a8"/>
<circle cx="331.90" cy="366.80" r="1.2" fill="#1c63a8"/>
<circle cx="334.40" cy="367.50" r="1.2" fill="#1c63a8"/>
<circle cx="345.20" cy="366.80" r="1.2" fill="#1c63a8"/>
<circle cx="338.60" cy="370.20" r="1.2" fill="#1c63a8"/>
<circle cx="336.70" cy="371.10" r="1.2" fill="#1c63a8"/>
<circle cx="341.10" cy="371.90" r="1.2" fill="#1c63a8"/>
<circle cx="332.90" cy="380.60" r="1.2" fill="#1c63a8"/>
<circle cx="338.00" cy="383.80" r="1.2" fill="#1c63a8"/>
<circle cx="340.80" cy="382.90" r="1.2" fill="#1c63a8"/>
<circle cx="332.30" cy="386.40" r="1.2" fill="#1c63a8"/>
<circle cx="342.90" cy="386.40" r="1.2" fill="#1c63a8"/>
<circle cx="346.10" cy="386.40" r="1.2" fill="#1c63a8"/>
<circle cx="336.70" cy="393.00" r="1.2" fill="#1c63a8"/>
<circle cx="339.50" cy="393.30" r="1.2" fill="#1c63a8"/>
<circle cx="338.90" cy="395.50" r="1.2" fill="#1c63a8"/>
<circle cx="343.90" cy="397.20" r="1.2" fill="#1c63a8"/>
<circle cx="347.50" cy="397.00" r="1.2" fill="#1c63a8"/>
<circle cx="343.70" cy="399.70" r="1.2" fill="#1c63a8"/>
<circle cx="342.40" cy="401.00" r="1.2" fill="#1c63a8"/>
<circle cx="338.90" cy="403.70" r="1.2" fill="#1c63a8"/>
<circle cx="335.30" cy="405.00" r="1.2" fill="#1c63a8"/>
<circle cx="340.50" cy="356.00" r="1.2" fill="#1c63a8"/>
<circle cx="339.00" cy="358.00" r="1.2" fill="#1c63a8"/>
<circle cx="342.50" cy="364.20" r="1.2" fill="#1c63a8"/>
<circle cx="335.50" cy="365.00" r="1.2" fill="#1c63a8"/>
<circle cx="344.00" cy="345.00" r="1.2" fill="#1c63a8"/>
<circle cx="331.50" cy="407.50" r="1.2" fill="#1c63a8"/>
<circle cx="332.30" cy="407.50" r="1.2" fill="#1c63a8"/>
<circle cx="333.10" cy="407.50" r="1.2" fill="#1c63a8"/>
<circle cx="333.90" cy="407.50" r="1.2" fill="#1c63a8"/>
<circle cx="334.70" cy="407.50" r="1.2" fill="#1c63a8"/>
<circle cx="335.50" cy="407.50" r="1.2" fill="#1c63a8"/>
<circle cx="336.30" cy="407.50" r="1.2" fill="#1c63a8"/>
<circle cx="337.10" cy="407.50" r="1.2" fill="#1c63a8"/>
<circle cx="337.90" cy="407.50" r="1.2" fill="#1c63a8"/>
<circle cx="338.70" cy="407.50" r="1.2" fill="#1c63a8"/>
<circle cx="339.50" cy="407.50" r="1.2" fill="#1c63a8"/>
<circle cx="340.30" cy="407.50" r="1.2" fill="#1c63a8"/>
<circle cx="341.10" cy="407.50" r="1.2" fill="#1c63a8"/>
<circle cx="341.90" cy="407.50" r="1.2" fill="#1c63a8"/>
<circle cx="342.70" cy="407.50" r="1.2" fill="#1c63a8"/>
<circle cx="343.50" cy="407.50" r="1.2" fill="#1c63a8"/>
<circle cx="344.30" cy="407.50" r="1.2" fill="#1c63a8"/>
<circle cx="345.10" cy="407.50" r="1.2" fill="#1c63a8"/>
<circle cx="345.90" cy="407.50" r="1.2" fill="#1c63a8"/>
<circle cx="346.70" cy="407.50" r="1.2" fill="#1c63a8"/>
<circle cx="347.50" cy="407.50" r="1.2" fill="#1c63a8"/>
<circle cx="348.30" cy="407.50" r="1.2" fill="#1c63a8"/>
<circle cx="373.80" cy="281.90" r="1.2" fill="#f07a22"/>
<circle cx="373.70" cy="293.10" r="1.2" fill="#f07a22"/>
<circle cx="369.10" cy="300.60" r="1.2" fill="#f07a22"/>
<circle cx="378.60" cy="300.10" r="1.2" fill="#f07a22"/>
<circle cx="372.30" cy="304.70" r="1.2" fill="#f07a22"/>
<circle cx="377.80" cy="305.00" r="1.2" fill="#f07a22"/>
<circle cx="364.20" cy="307.20" r="1.2" fill="#f07a22"/>
<circle cx="369.70" cy="307.00" r="1.2" fill="#f07a22"/>
<circle cx="366.80" cy="308.70" r="1.2" fill="#f07a22"/>
<circle cx="370.80" cy="309.10" r="1.2" fill="#f07a22"/>
<circle cx="370.00" cy="310.70" r="1.2" fill="#f07a22"/>
<circle cx="374.40" cy="312.80" r="1.2" fill="#f07a22"/>
<circle cx="367.40" cy="315.10" r="1.2" fill="#f07a22"/>
<circle cx="379.30" cy="316.60" r="1.2" fill="#f07a22"/>
<circle cx="378.90" cy="317.80" r="1.2" fill="#f07a22"/>
<circle cx="369.20" cy="327.00" r="1.2" fill="#f07a22"/>
<circle cx="372.70" cy="327.00" r="1.2" fill="#f07a22"/>
<circle cx="376.60" cy="329.30" r="1.2" fill="#f07a22"/>
<circle cx="372.90" cy="330.90" r="1.2" fill="#f07a22"/>
<circle cx="369.50" cy="334.20" r="1.2" fill="#f07a22"/>
<circle cx="373.50" cy="336.30" r="1.2" fill="#f07a22"/>
<circle cx="367.70" cy="338.00" r="1.2" fill="#f07a22"/>
<circle cx="364.00" cy="344.00" r="1.2" fill="#f07a22"/>
<circle cx="369.20" cy="342.80" r="1.2" fill="#f07a22"/>
<circle cx="377.30" cy="344.60" r="1.2" fill="#f07a22"/>
<circle cx="367.30" cy="338.40" r="1.2" fill="#f07a22"/>
<circle cx="363.90" cy="343.90" r="1.2" fill="#f07a22"/>
<circle cx="374.90" cy="345.30" r="1.2" fill="#f07a22"/>
<circle cx="377.40" cy="344.60" r="1.2" fill="#f07a22"/>
<circle cx="366.40" cy="349.10" r="1.2" fill="#f07a22"/>
<circle cx="374.30" cy="350.40" r="1.2" fill="#f07a22"/>
<circle cx="377.80" cy="348.40" r="1.2" fill="#f07a22"/>
<circle cx="365.00" cy="366.20" r="1.2" fill="#f07a22"/>
<circle cx="374.90" cy="365.80" r="1.2" fill="#f07a22"/>
<circle cx="374.30" cy="370.20" r="1.2" fill="#f07a22"/>
<circle cx="373.60" cy="390.70" r="1.2" fill="#f07a22"/>
<circle cx="373.30" cy="400.80" r="1.2" fill="#f07a22"/>
<circle cx="379.70" cy="400.80" r="1.2" fill="#f07a22"/>
<circle cx="378.40" cy="407.50" r="1.2" fill="#f07a22"/>
<line x1="320.50" y1="275.40" x2="320.50" y2="413.40" stroke="#777" stroke-width="0.9"/>
<line x1="320.50" y1="413.40" x2="391.60" y2="413.40" stroke="#777" stroke-width="0.9"/>
<line x1="391.60" y1="275.40" x2="391.60" y2="413.40" stroke="#aaa" stroke-width="0.8"/>
<line x1="320.50" y1="275.40" x2="391.60" y2="275.40" stroke="#aaa" stroke-width="0.8"/>
<line x1="316.70" y1="308.40" x2="320.50" y2="308.40" stroke="#666" stroke-width="0.7"/>
<text transform="translate(313.80,311.00) scale(0.9166666666666667,1)" text-anchor="end" fill="#444" style="font-size:8.76px;">3</text>
<line x1="316.70" y1="341.40" x2="320.50" y2="341.40" stroke="#666" stroke-width="0.7"/>
<text transform="translate(313.80,344.00) scale(0.9166666666666667,1)" text-anchor="end" fill="#444" style="font-size:8.76px;">2</text>
<line x1="316.70" y1="374.40" x2="320.50" y2="374.40" stroke="#666" stroke-width="0.7"/>
<text transform="translate(313.80,377.00) scale(0.9166666666666667,1)" text-anchor="end" fill="#444" style="font-size:8.76px;">1</text>
<line x1="316.70" y1="407.40" x2="320.50" y2="407.40" stroke="#666" stroke-width="0.7"/>
<text transform="translate(313.80,410.00) scale(0.9166666666666667,1)" text-anchor="end" fill="#444" style="font-size:8.76px;">0</text>
<line x1="339.40" y1="413.40" x2="339.40" y2="415.80" stroke="#666" stroke-width="0.7"/>
<line x1="372.30" y1="413.40" x2="372.30" y2="415.80" stroke="#666" stroke-width="0.7"/>
<text transform="translate(352.20,273.30) scale(0.9166666666666667,1)" text-anchor="middle" fill="#333" style="font-size:9.839999999999998px;">MTV</text>
<text transform="translate(329.40,286.30) scale(0.8166666666666667,1)" text-anchor="start" fill="#333" style="font-size:9.12px;"><tspan style="font-style:italic">P</tspan> &lt; 0.001</text>
<text transform="translate(303.30,344.50) rotate(-90) scale(1.08,1)" text-anchor="middle" fill="#333" style="font-size:8.2px">log<tspan dy="1.8" style="font-size:5.5px">10</tspan><tspan dy="-1.8">−normalized MTV</tspan></text>
<text transform="translate(404.30,273.50)" text-anchor="start" fill="#111" style="font-size:12.3px;font-weight:bold;">f</text>
<line x1="433.40" y1="407.40" x2="500.40" y2="407.40" stroke="#ebebeb" stroke-width="0.7"/>
<line x1="433.40" y1="389.05" x2="500.40" y2="389.05" stroke="#ebebeb" stroke-width="0.7"/>
<line x1="433.40" y1="370.70" x2="500.40" y2="370.70" stroke="#ebebeb" stroke-width="0.7"/>
<line x1="433.40" y1="352.35" x2="500.40" y2="352.35" stroke="#ebebeb" stroke-width="0.7"/>
<line x1="433.40" y1="334.00" x2="500.40" y2="334.00" stroke="#ebebeb" stroke-width="0.7"/>
<line x1="433.40" y1="315.65" x2="500.40" y2="315.65" stroke="#ebebeb" stroke-width="0.7"/>
<line x1="433.40" y1="297.30" x2="500.40" y2="297.30" stroke="#ebebeb" stroke-width="0.7"/>
<line x1="451.30" y1="276.30" x2="451.30" y2="414.00" stroke="#ebebeb" stroke-width="0.7"/>
<line x1="481.50" y1="276.30" x2="481.50" y2="414.00" stroke="#ebebeb" stroke-width="0.7"/>
<line x1="451.30" y1="288.00" x2="451.30" y2="310.90" stroke="#6d9ed2" stroke-width="0.8"/>
<line x1="451.30" y1="407.40" x2="451.30" y2="407.40" stroke="#6d9ed2" stroke-width="0.8"/>
<rect x="439.30" y="310.90" width="24.40" height="96.50" fill="#d6e2f2" stroke="#6d9ed2" stroke-width="0.8"/>
<line x1="439.30" y1="328.40" x2="463.70" y2="328.40" stroke="#6d9ed2" stroke-width="1.1"/>
<line x1="481.50" y1="286.00" x2="481.50" y2="297.50" stroke="#f4a47c" stroke-width="0.8"/>
<line x1="481.50" y1="324.80" x2="481.50" y2="354.20" stroke="#f4a47c" stroke-width="0.8"/>
<rect x="469.30" y="297.50" width="25.00" height="27.30" fill="#fbe8e0" stroke="#f4a47c" stroke-width="0.8"/>
<line x1="469.30" y1="307.20" x2="494.30" y2="307.20" stroke="#f4a47c" stroke-width="1.1"/>
<circle cx="454.30" cy="288.80" r="1.2" fill="#1c63a8"/>
<circle cx="452.00" cy="291.10" r="1.2" fill="#1c63a8"/>
<circle cx="445.00" cy="294.60" r="1.2" fill="#1c63a8"/>
<circle cx="458.70" cy="295.70" r="1.2" fill="#1c63a8"/>
<circle cx="456.60" cy="298.30" r="1.2" fill="#1c63a8"/>
<circle cx="454.50" cy="299.80" r="1.2" fill="#1c63a8"/>
<circle cx="453.10" cy="301.20" r="1.2" fill="#1c63a8"/>
<circle cx="457.70" cy="303.50" r="1.2" fill="#1c63a8"/>
<circle cx="445.60" cy="302.70" r="1.2" fill="#1c63a8"/>
<circle cx="448.30" cy="302.70" r="1.2" fill="#1c63a8"/>
<circle cx="455.20" cy="304.70" r="1.2" fill="#1c63a8"/>
<circle cx="457.40" cy="307.80" r="1.2" fill="#1c63a8"/>
<circle cx="453.70" cy="308.50" r="1.2" fill="#1c63a8"/>
<circle cx="448.50" cy="309.30" r="1.2" fill="#1c63a8"/>
<circle cx="447.30" cy="311.00" r="1.2" fill="#1c63a8"/>
<circle cx="450.80" cy="312.00" r="1.2" fill="#1c63a8"/>
<circle cx="453.10" cy="312.80" r="1.2" fill="#1c63a8"/>
<circle cx="445.00" cy="314.50" r="1.2" fill="#1c63a8"/>
<circle cx="449.10" cy="313.70" r="1.2" fill="#1c63a8"/>
<circle cx="457.50" cy="316.20" r="1.2" fill="#1c63a8"/>
<circle cx="453.10" cy="318.00" r="1.2" fill="#1c63a8"/>
<circle cx="448.50" cy="319.10" r="1.2" fill="#1c63a8"/>
<circle cx="450.80" cy="320.30" r="1.2" fill="#1c63a8"/>
<circle cx="456.60" cy="320.00" r="1.2" fill="#1c63a8"/>
<circle cx="445.00" cy="322.60" r="1.2" fill="#1c63a8"/>
<circle cx="447.10" cy="322.60" r="1.2" fill="#1c63a8"/>
<circle cx="449.40" cy="324.50" r="1.2" fill="#1c63a8"/>
<circle cx="444.40" cy="326.90" r="1.2" fill="#1c63a8"/>
<circle cx="453.70" cy="330.10" r="1.2" fill="#1c63a8"/>
<circle cx="456.00" cy="331.80" r="1.2" fill="#1c63a8"/>
<circle cx="458.30" cy="333.30" r="1.2" fill="#1c63a8"/>
<circle cx="451.40" cy="333.30" r="1.2" fill="#1c63a8"/>
<circle cx="447.90" cy="333.90" r="1.2" fill="#1c63a8"/>
<circle cx="445.00" cy="337.60" r="1.2" fill="#1c63a8"/>
<circle cx="448.30" cy="339.10" r="1.2" fill="#1c63a8"/>
<circle cx="452.50" cy="339.90" r="1.2" fill="#1c63a8"/>
<circle cx="457.70" cy="339.30" r="1.2" fill="#1c63a8"/>
<circle cx="453.70" cy="342.20" r="1.2" fill="#1c63a8"/>
<circle cx="448.50" cy="343.40" r="1.2" fill="#1c63a8"/>
<circle cx="448.70" cy="343.70" r="1.2" fill="#1c63a8"/>
<circle cx="447.00" cy="345.20" r="1.2" fill="#1c63a8"/>
<circle cx="443.90" cy="346.60" r="1.2" fill="#1c63a8"/>
<circle cx="446.40" cy="348.10" r="1.2" fill="#1c63a8"/>
<circle cx="454.00" cy="342.70" r="1.2" fill="#1c63a8"/>
<circle cx="452.50" cy="339.90" r="1.2" fill="#1c63a8"/>
<circle cx="458.00" cy="339.50" r="1.2" fill="#1c63a8"/>
<circle cx="448.70" cy="338.60" r="1.2" fill="#1c63a8"/>
<circle cx="454.40" cy="349.10" r="1.2" fill="#1c63a8"/>
<circle cx="445.50" cy="351.30" r="1.2" fill="#1c63a8"/>
<circle cx="458.80" cy="352.30" r="1.2" fill="#1c63a8"/>
<circle cx="448.90" cy="355.30" r="1.2" fill="#1c63a8"/>
<circle cx="450.20" cy="355.90" r="1.2" fill="#1c63a8"/>
<circle cx="450.50" cy="306.00" r="1.2" fill="#1c63a8"/>
<circle cx="452.00" cy="310.00" r="1.2" fill="#1c63a8"/>
<circle cx="446.00" cy="313.00" r="1.2" fill="#1c63a8"/>
<circle cx="455.00" cy="314.00" r="1.2" fill="#1c63a8"/>
<circle cx="449.00" cy="316.50" r="1.2" fill="#1c63a8"/>
<circle cx="452.00" cy="322.00" r="1.2" fill="#1c63a8"/>
<circle cx="455.00" cy="325.00" r="1.2" fill="#1c63a8"/>
<circle cx="451.00" cy="327.00" r="1.2" fill="#1c63a8"/>
<circle cx="447.00" cy="329.50" r="1.2" fill="#1c63a8"/>
<circle cx="454.00" cy="336.00" r="1.2" fill="#1c63a8"/>
<circle cx="443.90" cy="407.40" r="1.2" fill="#1c63a8"/>
<circle cx="444.70" cy="407.40" r="1.2" fill="#1c63a8"/>
<circle cx="445.50" cy="407.40" r="1.2" fill="#1c63a8"/>
<circle cx="446.30" cy="407.40" r="1.2" fill="#1c63a8"/>
<circle cx="447.10" cy="407.40" r="1.2" fill="#1c63a8"/>
<circle cx="447.90" cy="407.40" r="1.2" fill="#1c63a8"/>
<circle cx="448.70" cy="407.40" r="1.2" fill="#1c63a8"/>
<circle cx="449.50" cy="407.40" r="1.2" fill="#1c63a8"/>
<circle cx="450.30" cy="407.40" r="1.2" fill="#1c63a8"/>
<circle cx="451.10" cy="407.40" r="1.2" fill="#1c63a8"/>
<circle cx="451.90" cy="407.40" r="1.2" fill="#1c63a8"/>
<circle cx="452.70" cy="407.40" r="1.2" fill="#1c63a8"/>
<circle cx="453.50" cy="407.40" r="1.2" fill="#1c63a8"/>
<circle cx="454.30" cy="407.40" r="1.2" fill="#1c63a8"/>
<circle cx="455.10" cy="407.40" r="1.2" fill="#1c63a8"/>
<circle cx="455.90" cy="407.40" r="1.2" fill="#1c63a8"/>
<circle cx="456.70" cy="407.40" r="1.2" fill="#1c63a8"/>
<circle cx="457.50" cy="407.40" r="1.2" fill="#1c63a8"/>
<circle cx="458.30" cy="407.40" r="1.2" fill="#1c63a8"/>
<circle cx="459.10" cy="407.40" r="1.2" fill="#1c63a8"/>
<circle cx="459.90" cy="407.40" r="1.2" fill="#1c63a8"/>
<circle cx="478.50" cy="286.20" r="1.2" fill="#f07a22"/>
<circle cx="482.00" cy="288.50" r="1.2" fill="#f07a22"/>
<circle cx="485.20" cy="290.00" r="1.2" fill="#f07a22"/>
<circle cx="482.90" cy="292.90" r="1.2" fill="#f07a22"/>
<circle cx="489.20" cy="294.80" r="1.2" fill="#f07a22"/>
<circle cx="483.70" cy="295.20" r="1.2" fill="#f07a22"/>
<circle cx="480.80" cy="296.80" r="1.2" fill="#f07a22"/>
<circle cx="488.40" cy="298.00" r="1.2" fill="#f07a22"/>
<circle cx="475.60" cy="299.80" r="1.2" fill="#f07a22"/>
<circle cx="483.70" cy="299.80" r="1.2" fill="#f07a22"/>
<circle cx="488.70" cy="300.90" r="1.2" fill="#f07a22"/>
<circle cx="486.30" cy="302.40" r="1.2" fill="#f07a22"/>
<circle cx="482.60" cy="303.50" r="1.2" fill="#f07a22"/>
<circle cx="486.60" cy="304.70" r="1.2" fill="#f07a22"/>
<circle cx="481.20" cy="306.40" r="1.2" fill="#f07a22"/>
<circle cx="485.80" cy="306.80" r="1.2" fill="#f07a22"/>
<circle cx="476.20" cy="308.70" r="1.2" fill="#f07a22"/>
<circle cx="486.60" cy="309.90" r="1.2" fill="#f07a22"/>
<circle cx="482.60" cy="313.10" r="1.2" fill="#f07a22"/>
<circle cx="476.60" cy="315.10" r="1.2" fill="#f07a22"/>
<circle cx="489.20" cy="315.90" r="1.2" fill="#f07a22"/>
<circle cx="479.70" cy="317.70" r="1.2" fill="#f07a22"/>
<circle cx="476.80" cy="319.70" r="1.2" fill="#f07a22"/>
<circle cx="486.40" cy="320.30" r="1.2" fill="#f07a22"/>
<circle cx="479.10" cy="322.20" r="1.2" fill="#f07a22"/>
<circle cx="477.70" cy="329.90" r="1.2" fill="#f07a22"/>
<circle cx="487.80" cy="333.80" r="1.2" fill="#f07a22"/>
<circle cx="487.60" cy="338.50" r="1.2" fill="#f07a22"/>
<circle cx="487.80" cy="339.90" r="1.2" fill="#f07a22"/>
<circle cx="476.10" cy="354.40" r="1.2" fill="#f07a22"/>
<circle cx="485.20" cy="352.50" r="1.2" fill="#f07a22"/>
<circle cx="489.00" cy="351.60" r="1.2" fill="#f07a22"/>
<circle cx="487.80" cy="340.80" r="1.2" fill="#f07a22"/>
<circle cx="474.40" cy="407.70" r="1.2" fill="#f07a22"/>
<line x1="433.40" y1="276.30" x2="433.40" y2="414.00" stroke="#777" stroke-width="0.9"/>
<line x1="433.40" y1="414.00" x2="500.40" y2="414.00" stroke="#777" stroke-width="0.9"/>
<line x1="500.40" y1="276.30" x2="500.40" y2="414.00" stroke="#aaa" stroke-width="0.8"/>
<line x1="433.40" y1="276.30" x2="500.40" y2="276.30" stroke="#aaa" stroke-width="0.8"/>
<line x1="429.60" y1="297.30" x2="433.40" y2="297.30" stroke="#666" stroke-width="0.7"/>
<text transform="translate(426.40,299.90) scale(0.9166666666666667,1)" text-anchor="end" fill="#444" style="font-size:8.76px;">1.5</text>
<line x1="429.60" y1="334.00" x2="433.40" y2="334.00" stroke="#666" stroke-width="0.7"/>
<text transform="translate(426.40,336.60) scale(0.9166666666666667,1)" text-anchor="end" fill="#444" style="font-size:8.76px;">1.0</text>
<line x1="429.60" y1="370.70" x2="433.40" y2="370.70" stroke="#666" stroke-width="0.7"/>
<text transform="translate(426.40,373.30) scale(0.9166666666666667,1)" text-anchor="end" fill="#444" style="font-size:8.76px;">0.5</text>
<line x1="429.60" y1="407.40" x2="433.40" y2="407.40" stroke="#666" stroke-width="0.7"/>
<text transform="translate(426.40,410.00) scale(0.9166666666666667,1)" text-anchor="end" fill="#444" style="font-size:8.76px;">0</text>
<line x1="451.30" y1="414.00" x2="451.30" y2="416.40" stroke="#666" stroke-width="0.7"/>
<line x1="481.50" y1="414.00" x2="481.50" y2="416.40" stroke="#666" stroke-width="0.7"/>
<text transform="translate(467.00,273.30) scale(0.9166666666666667,1)" text-anchor="middle" fill="#333" style="font-size:9.839999999999998px;">SUV<tspan dy="2.6" style="font-size:7.0px">max</tspan></text>
<text transform="translate(439.50,284.30) scale(0.8166666666666667,1)" text-anchor="start" fill="#333" style="font-size:9.12px;">P &lt; 0.001</text>
<text transform="translate(411.3,345.2) rotate(-90) scale(1.08,1)" text-anchor="middle" fill="#333" style="font-size:8.2px">log<tspan dy="1.8" style="font-size:5.5px">10</tspan><tspan dy="-1.8">−normalized SUV max</tspan></text>
<text transform="translate(263.30,427.30) scale(0.9166666666666667,1)" text-anchor="start" fill="#333" style="font-size:9.96px;">Cluster</text>
<rect x="296.20" y="422.80" width="4.80" height="3.60" fill="#d6e2f2" stroke="#6d9ed2" stroke-width="0.6"/>
<circle cx="298.60" cy="424.60" r="0.9" fill="#1c63a8"/>
<text transform="translate(306.90,427.30) scale(0.9166666666666667,1)" text-anchor="start" fill="#333" style="font-size:9.96px;">Noninflammatory</text>
<rect x="391.10" y="422.80" width="4.80" height="3.60" fill="#fbe8e0" stroke="#f4a47c" stroke-width="0.6"/>
<circle cx="393.50" cy="424.60" r="0.9" fill="#f07a22"/>
<text transform="translate(399.10,427.30) scale(0.9166666666666667,1)" text-anchor="start" fill="#333" style="font-size:9.96px;">Inflammatory</text>
<text transform="translate(515.50,273.50)" text-anchor="start" fill="#111" style="font-size:12.3px;font-weight:bold;">g</text>
<line x1="564.50" y1="265.00" x2="564.50" y2="418.00" stroke="#ebebeb" stroke-width="0.8"/>
<line x1="585.40" y1="265.00" x2="585.40" y2="418.00" stroke="#ebebeb" stroke-width="0.8"/>
<line x1="605.90" y1="265.00" x2="605.90" y2="418.00" stroke="#ebebeb" stroke-width="0.8"/>
<line x1="626.70" y1="265.00" x2="626.70" y2="418.00" stroke="#ebebeb" stroke-width="0.8"/>
<line x1="647.60" y1="265.00" x2="647.60" y2="418.00" stroke="#ebebeb" stroke-width="0.8"/>
<line x1="668.30" y1="265.00" x2="668.30" y2="418.00" stroke="#ebebeb" stroke-width="0.8"/>
<line x1="558.50" y1="271.70" x2="681.20" y2="271.70" stroke="#ebebeb" stroke-width="0.8"/>
<line x1="558.50" y1="282.60" x2="681.20" y2="282.60" stroke="#ebebeb" stroke-width="0.8"/>
<line x1="558.50" y1="293.50" x2="681.20" y2="293.50" stroke="#ebebeb" stroke-width="0.8"/>
<line x1="558.50" y1="304.40" x2="681.20" y2="304.40" stroke="#ebebeb" stroke-width="0.8"/>
<line x1="558.50" y1="315.30" x2="681.20" y2="315.30" stroke="#ebebeb" stroke-width="0.8"/>
<line x1="558.50" y1="326.20" x2="681.20" y2="326.20" stroke="#ebebeb" stroke-width="0.8"/>
<line x1="558.50" y1="337.10" x2="681.20" y2="337.10" stroke="#ebebeb" stroke-width="0.8"/>
<line x1="558.50" y1="348.00" x2="681.20" y2="348.00" stroke="#ebebeb" stroke-width="0.8"/>
<line x1="558.50" y1="358.90" x2="681.20" y2="358.90" stroke="#ebebeb" stroke-width="0.8"/>
<line x1="558.50" y1="369.80" x2="681.20" y2="369.80" stroke="#ebebeb" stroke-width="0.8"/>
<line x1="558.50" y1="380.70" x2="681.20" y2="380.70" stroke="#ebebeb" stroke-width="0.8"/>
<line x1="558.50" y1="391.60" x2="681.20" y2="391.60" stroke="#ebebeb" stroke-width="0.8"/>
<line x1="558.50" y1="402.50" x2="681.20" y2="402.50" stroke="#ebebeb" stroke-width="0.8"/>
<line x1="558.50" y1="413.40" x2="681.20" y2="413.40" stroke="#ebebeb" stroke-width="0.8"/>
<text transform="translate(555.60,274.00) scale(0.9166666666666667,1)" text-anchor="end" fill="#333" style="font-size:8.28px;">CRP</text>
<text transform="translate(555.60,284.90) scale(0.9166666666666667,1)" text-anchor="end" fill="#333" style="font-size:8.28px;">IL6</text>
<text transform="translate(555.60,295.80) scale(0.9166666666666667,1)" text-anchor="end" fill="#333" style="font-size:8.28px;">LDH</text>
<rect x="575.80" y="290.20" width="8.90" height="6.60" fill="#e8352d" fill-opacity="0.6" rx="1.5"/>
<circle cx="580.88" cy="296.81" r="0.7" fill="#e8352d" fill-opacity="0.8"/>
<circle cx="580.33" cy="294.18" r="0.7" fill="#e8352d" fill-opacity="0.8"/>
<circle cx="580.38" cy="294.51" r="0.7" fill="#e8352d" fill-opacity="0.8"/>
<circle cx="580.43" cy="290.31" r="0.7" fill="#e8352d" fill-opacity="0.8"/>
<circle cx="586.04" cy="297.26" r="0.7" fill="#e8352d" fill-opacity="0.8"/>
<circle cx="593.44" cy="290.83" r="0.7" fill="#e8352d" fill-opacity="0.8"/>
<circle cx="580.55" cy="290.06" r="0.7" fill="#e8352d" fill-opacity="0.8"/>
<circle cx="577.54" cy="289.83" r="0.7" fill="#e8352d" fill-opacity="0.8"/>
<circle cx="579.63" cy="296.17" r="0.7" fill="#e8352d" fill-opacity="0.8"/>
<circle cx="581.72" cy="293.50" r="0.7" fill="#e8352d" fill-opacity="0.8"/>
<circle cx="579.80" cy="291.77" r="0.7" fill="#e8352d" fill-opacity="0.8"/>
<circle cx="596.34" cy="295.12" r="0.7" fill="#e8352d" fill-opacity="0.8"/>
<circle cx="577.41" cy="291.85" r="0.7" fill="#e8352d" fill-opacity="0.8"/>
<circle cx="583.05" cy="292.72" r="0.7" fill="#e8352d" fill-opacity="0.8"/>
<circle cx="597.32" cy="296.21" r="0.7" fill="#e8352d" fill-opacity="0.8"/>
<circle cx="577.20" cy="296.70" r="0.7" fill="#e8352d" fill-opacity="0.8"/>
<circle cx="585.29" cy="292.70" r="0.7" fill="#e8352d" fill-opacity="0.8"/>
<circle cx="581.61" cy="295.67" r="0.7" fill="#e8352d" fill-opacity="0.8"/>
<circle cx="575.92" cy="292.19" r="0.7" fill="#e8352d" fill-opacity="0.8"/>
<circle cx="587.02" cy="291.52" r="0.7" fill="#e8352d" fill-opacity="0.8"/>
<circle cx="575.63" cy="295.82" r="0.7" fill="#e8352d" fill-opacity="0.8"/>
<circle cx="580.87" cy="293.09" r="0.7" fill="#e8352d" fill-opacity="0.8"/>
<circle cx="582.68" cy="290.62" r="0.7" fill="#e8352d" fill-opacity="0.8"/>
<circle cx="576.22" cy="292.88" r="0.7" fill="#e8352d" fill-opacity="0.8"/>
<circle cx="577.83" cy="297.17" r="0.7" fill="#e8352d" fill-opacity="0.8"/>
<circle cx="595.43" cy="291.24" r="0.7" fill="#e8352d" fill-opacity="0.8"/>
<circle cx="583.97" cy="294.61" r="0.7" fill="#e8352d" fill-opacity="0.8"/>
<circle cx="585.39" cy="291.26" r="0.7" fill="#e8352d" fill-opacity="0.8"/>
<circle cx="583.11" cy="292.17" r="0.7" fill="#e8352d" fill-opacity="0.8"/>
<circle cx="575.77" cy="290.30" r="0.7" fill="#e8352d" fill-opacity="0.8"/>
<circle cx="577.55" cy="294.29" r="0.7" fill="#e8352d" fill-opacity="0.8"/>
<circle cx="579.76" cy="297.08" r="0.7" fill="#e8352d" fill-opacity="0.8"/>
<circle cx="581.03" cy="296.36" r="0.7" fill="#e8352d" fill-opacity="0.8"/>
<circle cx="576.62" cy="296.69" r="0.7" fill="#e8352d" fill-opacity="0.8"/>
<circle cx="577.50" cy="295.37" r="0.7" fill="#e8352d" fill-opacity="0.8"/>
<circle cx="597.11" cy="296.48" r="0.7" fill="#e8352d" fill-opacity="0.8"/>
<circle cx="579.43" cy="290.41" r="0.7" fill="#e8352d" fill-opacity="0.8"/>
<circle cx="585.11" cy="291.46" r="0.7" fill="#e8352d" fill-opacity="0.8"/>
<circle cx="577.70" cy="296.02" r="0.7" fill="#e8352d" fill-opacity="0.8"/>
<circle cx="578.08" cy="290.97" r="0.7" fill="#e8352d" fill-opacity="0.8"/>
<circle cx="575.72" cy="291.38" r="0.7" fill="#e8352d" fill-opacity="0.8"/>
<circle cx="583.95" cy="294.39" r="0.7" fill="#e8352d" fill-opacity="0.8"/>
<circle cx="584.63" cy="291.19" r="0.7" fill="#e8352d" fill-opacity="0.8"/>
<circle cx="577.83" cy="293.08" r="0.7" fill="#e8352d" fill-opacity="0.8"/>
<circle cx="576.85" cy="292.48" r="0.7" fill="#e8352d" fill-opacity="0.8"/>
<circle cx="576.38" cy="292.42" r="0.7" fill="#e8352d" fill-opacity="0.8"/>
<circle cx="593.97" cy="294.99" r="0.7" fill="#e8352d" fill-opacity="0.8"/>
<circle cx="576.47" cy="289.87" r="0.7" fill="#e8352d" fill-opacity="0.8"/>
<circle cx="584.56" cy="295.07" r="0.7" fill="#e8352d" fill-opacity="0.8"/>
<circle cx="589.01" cy="293.36" r="0.7" fill="#e8352d" fill-opacity="0.8"/>
<circle cx="578.35" cy="297.39" r="0.7" fill="#e8352d" fill-opacity="0.8"/>
<circle cx="580.73" cy="295.35" r="0.7" fill="#e8352d" fill-opacity="0.8"/>
<circle cx="594.58" cy="295.79" r="0.7" fill="#e8352d" fill-opacity="0.8"/>
<circle cx="590.28" cy="296.63" r="0.7" fill="#e8352d" fill-opacity="0.8"/>
<circle cx="593.00" cy="296.34" r="0.7" fill="#e8352d" fill-opacity="0.8"/>
<circle cx="581.56" cy="292.58" r="0.7" fill="#e8352d" fill-opacity="0.8"/>
<circle cx="581.39" cy="290.23" r="0.7" fill="#e8352d" fill-opacity="0.8"/>
<circle cx="585.43" cy="296.46" r="0.7" fill="#e8352d" fill-opacity="0.8"/>
<circle cx="579.08" cy="295.33" r="0.7" fill="#e8352d" fill-opacity="0.8"/>
<circle cx="579.63" cy="296.14" r="0.7" fill="#e8352d" fill-opacity="0.8"/>
<circle cx="582.88" cy="289.83" r="0.7" fill="#e8352d" fill-opacity="0.8"/>
<circle cx="580.05" cy="291.40" r="0.7" fill="#e8352d" fill-opacity="0.8"/>
<circle cx="580.22" cy="294.39" r="0.7" fill="#e8352d" fill-opacity="0.8"/>
<circle cx="572.89" cy="291.95" r="0.7" fill="#e8352d" fill-opacity="0.8"/>
<circle cx="577.13" cy="290.92" r="0.7" fill="#e8352d" fill-opacity="0.8"/>
<circle cx="591.20" cy="296.56" r="0.7" fill="#e8352d" fill-opacity="0.8"/>
<circle cx="581.99" cy="291.15" r="0.7" fill="#e8352d" fill-opacity="0.8"/>
<circle cx="583.46" cy="296.73" r="0.7" fill="#e8352d" fill-opacity="0.8"/>
<circle cx="587.64" cy="292.07" r="0.7" fill="#e8352d" fill-opacity="0.8"/>
<circle cx="580.21" cy="296.13" r="0.7" fill="#e8352d" fill-opacity="0.8"/>
<circle cx="597.76" cy="291.76" r="0.7" fill="#e8352d" fill-opacity="0.8"/>
<circle cx="579.73" cy="291.75" r="0.7" fill="#e8352d" fill-opacity="0.8"/>
<circle cx="579.35" cy="294.48" r="0.7" fill="#e8352d" fill-opacity="0.8"/>
<circle cx="578.31" cy="296.15" r="0.7" fill="#e8352d" fill-opacity="0.8"/>
<circle cx="574.53" cy="289.85" r="0.7" fill="#e8352d" fill-opacity="0.8"/>
<circle cx="590.88" cy="294.05" r="0.7" fill="#e8352d" fill-opacity="0.8"/>
<circle cx="583.31" cy="289.75" r="0.7" fill="#e8352d" fill-opacity="0.8"/>
<circle cx="579.78" cy="289.79" r="0.7" fill="#e8352d" fill-opacity="0.8"/>
<circle cx="576.23" cy="289.97" r="0.7" fill="#e8352d" fill-opacity="0.8"/>
<circle cx="579.69" cy="294.51" r="0.7" fill="#e8352d" fill-opacity="0.8"/>
<circle cx="583.48" cy="297.08" r="0.7" fill="#e8352d" fill-opacity="0.8"/>
<circle cx="577.09" cy="293.31" r="0.7" fill="#e8352d" fill-opacity="0.8"/>
<circle cx="575.11" cy="293.28" r="0.7" fill="#e8352d" fill-opacity="0.8"/>
<circle cx="576.88" cy="291.72" r="0.7" fill="#e8352d" fill-opacity="0.8"/>
<circle cx="582.32" cy="293.66" r="0.7" fill="#e8352d" fill-opacity="0.8"/>
<circle cx="582.94" cy="292.67" r="0.7" fill="#e8352d" fill-opacity="0.8"/>
<circle cx="586.63" cy="296.87" r="0.7" fill="#e8352d" fill-opacity="0.8"/>
<circle cx="576.36" cy="293.14" r="0.7" fill="#e8352d" fill-opacity="0.8"/>
<circle cx="584.55" cy="292.54" r="0.7" fill="#e8352d" fill-opacity="0.8"/>
<circle cx="584.23" cy="295.81" r="0.7" fill="#e8352d" fill-opacity="0.8"/>
<circle cx="589.40" cy="291.20" r="0.7" fill="#e8352d" fill-opacity="0.8"/>
<circle cx="583.59" cy="294.60" r="0.7" fill="#e8352d" fill-opacity="0.8"/>
<circle cx="577.24" cy="296.62" r="0.7" fill="#e8352d" fill-opacity="0.8"/>
<circle cx="592.43" cy="295.77" r="0.7" fill="#e8352d" fill-opacity="0.8"/>
<circle cx="584.55" cy="296.28" r="0.7" fill="#e8352d" fill-opacity="0.8"/>
<circle cx="575.87" cy="293.04" r="0.7" fill="#e8352d" fill-opacity="0.8"/>
<circle cx="583.07" cy="293.40" r="0.7" fill="#e8352d" fill-opacity="0.8"/>
<circle cx="583.50" cy="290.10" r="0.7" fill="#e8352d" fill-opacity="0.8"/>
<circle cx="581.24" cy="295.75" r="0.7" fill="#e8352d" fill-opacity="0.8"/>
<circle cx="576.56" cy="293.63" r="0.7" fill="#e8352d" fill-opacity="0.8"/>
<circle cx="583.82" cy="294.98" r="0.7" fill="#e8352d" fill-opacity="0.8"/>
<circle cx="597.09" cy="290.27" r="0.7" fill="#e8352d" fill-opacity="0.8"/>
<circle cx="580.53" cy="291.86" r="0.7" fill="#e8352d" fill-opacity="0.8"/>
<circle cx="581.71" cy="293.68" r="0.7" fill="#e8352d" fill-opacity="0.8"/>
<circle cx="589.52" cy="292.57" r="0.7" fill="#e8352d" fill-opacity="0.8"/>
<circle cx="588.19" cy="296.24" r="0.7" fill="#e8352d" fill-opacity="0.8"/>
<circle cx="592.89" cy="291.17" r="0.7" fill="#e8352d" fill-opacity="0.8"/>
<circle cx="580.28" cy="294.32" r="0.7" fill="#e8352d" fill-opacity="0.8"/>
<circle cx="585.18" cy="293.62" r="0.7" fill="#e8352d" fill-opacity="0.8"/>
<circle cx="583.41" cy="293.99" r="0.7" fill="#e8352d" fill-opacity="0.8"/>
<circle cx="582.26" cy="290.11" r="0.7" fill="#e8352d" fill-opacity="0.8"/>
<circle cx="579.34" cy="297.06" r="0.7" fill="#e8352d" fill-opacity="0.8"/>
<circle cx="584.81" cy="290.59" r="0.7" fill="#e8352d" fill-opacity="0.8"/>
<circle cx="583.57" cy="296.62" r="0.7" fill="#e8352d" fill-opacity="0.8"/>
<circle cx="578.33" cy="291.09" r="0.7" fill="#e8352d" fill-opacity="0.8"/>
<circle cx="584.72" cy="290.61" r="0.7" fill="#e8352d" fill-opacity="0.8"/>
<circle cx="577.61" cy="291.37" r="0.7" fill="#e8352d" fill-opacity="0.8"/>
<circle cx="578.38" cy="292.37" r="0.7" fill="#e8352d" fill-opacity="0.8"/>
<circle cx="576.10" cy="295.30" r="0.7" fill="#e8352d" fill-opacity="0.8"/>
<circle cx="580.36" cy="291.55" r="0.7" fill="#e8352d" fill-opacity="0.8"/>
<circle cx="580.57" cy="293.01" r="0.7" fill="#e8352d" fill-opacity="0.8"/>
<circle cx="579.34" cy="293.73" r="0.7" fill="#e8352d" fill-opacity="0.8"/>
<circle cx="577.14" cy="294.52" r="0.7" fill="#e8352d" fill-opacity="0.8"/>
<circle cx="580.56" cy="296.24" r="0.7" fill="#e8352d" fill-opacity="0.8"/>
<circle cx="584.00" cy="291.41" r="0.7" fill="#e8352d" fill-opacity="0.8"/>
<circle cx="583.51" cy="296.64" r="0.7" fill="#e8352d" fill-opacity="0.8"/>
<circle cx="578.31" cy="296.80" r="0.7" fill="#e8352d" fill-opacity="0.8"/>
<circle cx="585.48" cy="296.52" r="0.7" fill="#e8352d" fill-opacity="0.8"/>
<circle cx="577.51" cy="295.27" r="0.7" fill="#e8352d" fill-opacity="0.8"/>
<circle cx="576.02" cy="296.09" r="0.7" fill="#e8352d" fill-opacity="0.8"/>
<circle cx="583.29" cy="290.58" r="0.7" fill="#e8352d" fill-opacity="0.8"/>
<circle cx="582.19" cy="289.74" r="0.7" fill="#e8352d" fill-opacity="0.8"/>
<circle cx="582.17" cy="296.71" r="0.7" fill="#e8352d" fill-opacity="0.8"/>
<circle cx="585.65" cy="295.51" r="0.7" fill="#e8352d" fill-opacity="0.8"/>
<circle cx="582.20" cy="291.07" r="0.7" fill="#e8352d" fill-opacity="0.8"/>
<circle cx="576.11" cy="289.89" r="0.7" fill="#e8352d" fill-opacity="0.8"/>
<circle cx="580.41" cy="294.04" r="0.7" fill="#e8352d" fill-opacity="0.8"/>
<circle cx="576.94" cy="291.19" r="0.7" fill="#e8352d" fill-opacity="0.8"/>
<circle cx="597.46" cy="290.34" r="0.7" fill="#e8352d" fill-opacity="0.8"/>
<circle cx="584.99" cy="293.20" r="0.7" fill="#e8352d" fill-opacity="0.8"/>
<circle cx="584.65" cy="293.62" r="0.7" fill="#e8352d" fill-opacity="0.8"/>
<circle cx="581.31" cy="289.70" r="0.7" fill="#e8352d" fill-opacity="0.8"/>
<circle cx="583.86" cy="291.01" r="0.7" fill="#e8352d" fill-opacity="0.8"/>
<circle cx="582.76" cy="292.76" r="0.7" fill="#e8352d" fill-opacity="0.8"/>
<circle cx="576.73" cy="293.60" r="0.7" fill="#e8352d" fill-opacity="0.8"/>
<circle cx="584.38" cy="295.85" r="0.7" fill="#e8352d" fill-opacity="0.8"/>
<circle cx="584.04" cy="294.51" r="0.7" fill="#e8352d" fill-opacity="0.8"/>
<circle cx="581.30" cy="293.53" r="0.7" fill="#e8352d" fill-opacity="0.8"/>
<circle cx="588.83" cy="296.71" r="0.7" fill="#e8352d" fill-opacity="0.8"/>
<circle cx="583.17" cy="295.95" r="0.7" fill="#e8352d" fill-opacity="0.8"/>
<text transform="translate(555.60,306.70) scale(0.9166666666666667,1)" text-anchor="end" fill="#333" style="font-size:8.28px;">IL10</text>
<rect x="573.40" y="301.10" width="10.80" height="6.60" fill="#e8352d" fill-opacity="0.6" rx="1.5"/>
<circle cx="583.72" cy="307.36" r="0.7" fill="#e8352d" fill-opacity="0.8"/>
<circle cx="582.11" cy="306.47" r="0.7" fill="#e8352d" fill-opacity="0.8"/>
<circle cx="581.56" cy="301.05" r="0.7" fill="#e8352d" fill-opacity="0.8"/>
<circle cx="578.41" cy="300.58" r="0.7" fill="#e8352d" fill-opacity="0.8"/>
<circle cx="580.52" cy="305.37" r="0.7" fill="#e8352d" fill-opacity="0.8"/>
<circle cx="584.31" cy="305.70" r="0.7" fill="#e8352d" fill-opacity="0.8"/>
<circle cx="580.78" cy="304.94" r="0.7" fill="#e8352d" fill-opacity="0.8"/>
<circle cx="577.43" cy="308.30" r="0.7" fill="#e8352d" fill-opacity="0.8"/>
<circle cx="581.30" cy="306.44" r="0.7" fill="#e8352d" fill-opacity="0.8"/>
<circle cx="583.82" cy="306.26" r="0.7" fill="#e8352d" fill-opacity="0.8"/>
<circle cx="577.58" cy="300.89" r="0.7" fill="#e8352d" fill-opacity="0.8"/>
<circle cx="577.26" cy="301.27" r="0.7" fill="#e8352d" fill-opacity="0.8"/>
<circle cx="583.83" cy="304.79" r="0.7" fill="#e8352d" fill-opacity="0.8"/>
<circle cx="584.59" cy="304.93" r="0.7" fill="#e8352d" fill-opacity="0.8"/>
<circle cx="591.40" cy="301.09" r="0.7" fill="#e8352d" fill-opacity="0.8"/>
<circle cx="582.01" cy="300.85" r="0.7" fill="#e8352d" fill-opacity="0.8"/>
<circle cx="580.43" cy="301.82" r="0.7" fill="#e8352d" fill-opacity="0.8"/>
<circle cx="580.18" cy="300.96" r="0.7" fill="#e8352d" fill-opacity="0.8"/>
<circle cx="581.73" cy="305.16" r="0.7" fill="#e8352d" fill-opacity="0.8"/>
<circle cx="576.14" cy="305.61" r="0.7" fill="#e8352d" fill-opacity="0.8"/>
<circle cx="576.12" cy="306.09" r="0.7" fill="#e8352d" fill-opacity="0.8"/>
<circle cx="572.77" cy="302.41" r="0.7" fill="#e8352d" fill-opacity="0.8"/>
<circle cx="574.54" cy="306.39" r="0.7" fill="#e8352d" fill-opacity="0.8"/>
<circle cx="583.73" cy="306.34" r="0.7" fill="#e8352d" fill-opacity="0.8"/>
<circle cx="584.86" cy="307.87" r="0.7" fill="#e8352d" fill-opacity="0.8"/>
<circle cx="583.83" cy="303.85" r="0.7" fill="#e8352d" fill-opacity="0.8"/>
<circle cx="584.67" cy="302.40" r="0.7" fill="#e8352d" fill-opacity="0.8"/>
<circle cx="584.22" cy="306.14" r="0.7" fill="#e8352d" fill-opacity="0.8"/>
<circle cx="584.74" cy="306.87" r="0.7" fill="#e8352d" fill-opacity="0.8"/>
<circle cx="574.03" cy="305.37" r="0.7" fill="#e8352d" fill-opacity="0.8"/>
<circle cx="575.13" cy="300.91" r="0.7" fill="#e8352d" fill-opacity="0.8"/>
<circle cx="574.14" cy="303.95" r="0.7" fill="#e8352d" fill-opacity="0.8"/>
<circle cx="578.25" cy="302.54" r="0.7" fill="#e8352d" fill-opacity="0.8"/>
<circle cx="577.80" cy="306.57" r="0.7" fill="#e8352d" fill-opacity="0.8"/>
<circle cx="584.97" cy="307.93" r="0.7" fill="#e8352d" fill-opacity="0.8"/>
<circle cx="575.56" cy="301.39" r="0.7" fill="#e8352d" fill-opacity="0.8"/>
<circle cx="589.94" cy="303.30" r="0.7" fill="#e8352d" fill-opacity="0.8"/>
<circle cx="581.09" cy="304.91" r="0.7" fill="#e8352d" fill-opacity="0.8"/>
<circle cx="580.45" cy="306.38" r="0.7" fill="#e8352d" fill-opacity="0.8"/>
<circle cx="575.69" cy="308.14" r="0.7" fill="#e8352d" fill-opacity="0.8"/>
<circle cx="585.31" cy="300.97" r="0.7" fill="#e8352d" fill-opacity="0.8"/>
<circle cx="577.87" cy="305.36" r="0.7" fill="#e8352d" fill-opacity="0.8"/>
<circle cx="579.32" cy="301.07" r="0.7" fill="#e8352d" fill-opacity="0.8"/>
<circle cx="580.99" cy="304.79" r="0.7" fill="#e8352d" fill-opacity="0.8"/>
<circle cx="577.23" cy="304.23" r="0.7" fill="#e8352d" fill-opacity="0.8"/>
<circle cx="576.86" cy="306.31" r="0.7" fill="#e8352d" fill-opacity="0.8"/>
<circle cx="572.13" cy="306.81" r="0.7" fill="#e8352d" fill-opacity="0.8"/>
<circle cx="582.13" cy="302.16" r="0.7" fill="#e8352d" fill-opacity="0.8"/>
<circle cx="575.80" cy="306.82" r="0.7" fill="#e8352d" fill-opacity="0.8"/>
<circle cx="580.71" cy="308.22" r="0.7" fill="#e8352d" fill-opacity="0.8"/>
<circle cx="579.40" cy="306.32" r="0.7" fill="#e8352d" fill-opacity="0.8"/>
<circle cx="578.01" cy="301.26" r="0.7" fill="#e8352d" fill-opacity="0.8"/>
<circle cx="571.26" cy="304.90" r="0.7" fill="#e8352d" fill-opacity="0.8"/>
<circle cx="581.10" cy="302.83" r="0.7" fill="#e8352d" fill-opacity="0.8"/>
<circle cx="574.33" cy="305.66" r="0.7" fill="#e8352d" fill-opacity="0.8"/>
<circle cx="576.37" cy="306.15" r="0.7" fill="#e8352d" fill-opacity="0.8"/>
<circle cx="576.11" cy="301.61" r="0.7" fill="#e8352d" fill-opacity="0.8"/>
<circle cx="581.60" cy="303.36" r="0.7" fill="#e8352d" fill-opacity="0.8"/>
<circle cx="581.40" cy="304.94" r="0.7" fill="#e8352d" fill-opacity="0.8"/>
<circle cx="592.22" cy="303.92" r="0.7" fill="#e8352d" fill-opacity="0.8"/>
<circle cx="576.80" cy="303.62" r="0.7" fill="#e8352d" fill-opacity="0.8"/>
<circle cx="586.96" cy="303.32" r="0.7" fill="#e8352d" fill-opacity="0.8"/>
<circle cx="577.11" cy="303.59" r="0.7" fill="#e8352d" fill-opacity="0.8"/>
<circle cx="575.02" cy="304.90" r="0.7" fill="#e8352d" fill-opacity="0.8"/>
<circle cx="591.61" cy="304.89" r="0.7" fill="#e8352d" fill-opacity="0.8"/>
<circle cx="582.01" cy="307.37" r="0.7" fill="#e8352d" fill-opacity="0.8"/>
<circle cx="572.88" cy="304.52" r="0.7" fill="#e8352d" fill-opacity="0.8"/>
<circle cx="579.64" cy="308.04" r="0.7" fill="#e8352d" fill-opacity="0.8"/>
<circle cx="582.57" cy="301.00" r="0.7" fill="#e8352d" fill-opacity="0.8"/>
<circle cx="582.37" cy="301.16" r="0.7" fill="#e8352d" fill-opacity="0.8"/>
<circle cx="581.74" cy="307.51" r="0.7" fill="#e8352d" fill-opacity="0.8"/>
<circle cx="580.46" cy="301.62" r="0.7" fill="#e8352d" fill-opacity="0.8"/>
<circle cx="580.65" cy="302.41" r="0.7" fill="#e8352d" fill-opacity="0.8"/>
<circle cx="582.09" cy="304.57" r="0.7" fill="#e8352d" fill-opacity="0.8"/>
<circle cx="577.27" cy="308.05" r="0.7" fill="#e8352d" fill-opacity="0.8"/>
<circle cx="578.72" cy="304.69" r="0.7" fill="#e8352d" fill-opacity="0.8"/>
<circle cx="581.38" cy="307.64" r="0.7" fill="#e8352d" fill-opacity="0.8"/>
<circle cx="582.85" cy="305.70" r="0.7" fill="#e8352d" fill-opacity="0.8"/>
<circle cx="591.59" cy="307.43" r="0.7" fill="#e8352d" fill-opacity="0.8"/>
<circle cx="589.14" cy="306.04" r="0.7" fill="#e8352d" fill-opacity="0.8"/>
<circle cx="579.22" cy="301.64" r="0.7" fill="#e8352d" fill-opacity="0.8"/>
<circle cx="584.89" cy="303.43" r="0.7" fill="#e8352d" fill-opacity="0.8"/>
<circle cx="575.13" cy="303.81" r="0.7" fill="#e8352d" fill-opacity="0.8"/>
<circle cx="584.63" cy="300.96" r="0.7" fill="#e8352d" fill-opacity="0.8"/>
<circle cx="574.02" cy="305.55" r="0.7" fill="#e8352d" fill-opacity="0.8"/>
<circle cx="570.77" cy="304.08" r="0.7" fill="#e8352d" fill-opacity="0.8"/>
<circle cx="583.88" cy="300.78" r="0.7" fill="#e8352d" fill-opacity="0.8"/>
<circle cx="574.89" cy="302.20" r="0.7" fill="#e8352d" fill-opacity="0.8"/>
<circle cx="581.49" cy="305.14" r="0.7" fill="#e8352d" fill-opacity="0.8"/>
<circle cx="574.89" cy="302.69" r="0.7" fill="#e8352d" fill-opacity="0.8"/>
<circle cx="581.99" cy="302.93" r="0.7" fill="#e8352d" fill-opacity="0.8"/>
<circle cx="582.73" cy="304.24" r="0.7" fill="#e8352d" fill-opacity="0.8"/>
<circle cx="583.60" cy="307.63" r="0.7" fill="#e8352d" fill-opacity="0.8"/>
<circle cx="579.39" cy="307.96" r="0.7" fill="#e8352d" fill-opacity="0.8"/>
<circle cx="575.34" cy="300.89" r="0.7" fill="#e8352d" fill-opacity="0.8"/>
<circle cx="588.04" cy="304.62" r="0.7" fill="#e8352d" fill-opacity="0.8"/>
<circle cx="576.00" cy="308.22" r="0.7" fill="#e8352d" fill-opacity="0.8"/>
<circle cx="575.55" cy="300.58" r="0.7" fill="#e8352d" fill-opacity="0.8"/>
<circle cx="577.21" cy="306.71" r="0.7" fill="#e8352d" fill-opacity="0.8"/>
<circle cx="580.12" cy="301.73" r="0.7" fill="#e8352d" fill-opacity="0.8"/>
<circle cx="576.59" cy="302.52" r="0.7" fill="#e8352d" fill-opacity="0.8"/>
<circle cx="590.03" cy="308.25" r="0.7" fill="#e8352d" fill-opacity="0.8"/>
<circle cx="579.23" cy="301.68" r="0.7" fill="#e8352d" fill-opacity="0.8"/>
<circle cx="588.69" cy="307.10" r="0.7" fill="#e8352d" fill-opacity="0.8"/>
<circle cx="575.67" cy="306.09" r="0.7" fill="#e8352d" fill-opacity="0.8"/>
<circle cx="578.55" cy="304.16" r="0.7" fill="#e8352d" fill-opacity="0.8"/>
<circle cx="591.77" cy="302.87" r="0.7" fill="#e8352d" fill-opacity="0.8"/>
<circle cx="590.94" cy="301.21" r="0.7" fill="#e8352d" fill-opacity="0.8"/>
<circle cx="582.12" cy="304.60" r="0.7" fill="#e8352d" fill-opacity="0.8"/>
<circle cx="582.92" cy="302.93" r="0.7" fill="#e8352d" fill-opacity="0.8"/>
<circle cx="573.54" cy="302.88" r="0.7" fill="#e8352d" fill-opacity="0.8"/>
<circle cx="581.47" cy="303.31" r="0.7" fill="#e8352d" fill-opacity="0.8"/>
<circle cx="573.91" cy="303.58" r="0.7" fill="#e8352d" fill-opacity="0.8"/>
<circle cx="584.59" cy="306.97" r="0.7" fill="#e8352d" fill-opacity="0.8"/>
<circle cx="572.75" cy="303.44" r="0.7" fill="#e8352d" fill-opacity="0.8"/>
<circle cx="575.54" cy="304.90" r="0.7" fill="#e8352d" fill-opacity="0.8"/>
<circle cx="572.73" cy="308.23" r="0.7" fill="#e8352d" fill-opacity="0.8"/>
<circle cx="583.84" cy="302.77" r="0.7" fill="#e8352d" fill-opacity="0.8"/>
<circle cx="579.29" cy="302.83" r="0.7" fill="#e8352d" fill-opacity="0.8"/>
<circle cx="577.46" cy="305.70" r="0.7" fill="#e8352d" fill-opacity="0.8"/>
<circle cx="575.08" cy="306.21" r="0.7" fill="#e8352d" fill-opacity="0.8"/>
<circle cx="584.32" cy="304.89" r="0.7" fill="#e8352d" fill-opacity="0.8"/>
<circle cx="576.71" cy="306.95" r="0.7" fill="#e8352d" fill-opacity="0.8"/>
<circle cx="574.35" cy="301.24" r="0.7" fill="#e8352d" fill-opacity="0.8"/>
<circle cx="581.38" cy="301.90" r="0.7" fill="#e8352d" fill-opacity="0.8"/>
<circle cx="582.98" cy="305.12" r="0.7" fill="#e8352d" fill-opacity="0.8"/>
<circle cx="575.41" cy="301.73" r="0.7" fill="#e8352d" fill-opacity="0.8"/>
<circle cx="577.64" cy="301.07" r="0.7" fill="#e8352d" fill-opacity="0.8"/>
<circle cx="581.37" cy="305.55" r="0.7" fill="#e8352d" fill-opacity="0.8"/>
<circle cx="588.05" cy="303.09" r="0.7" fill="#e8352d" fill-opacity="0.8"/>
<circle cx="572.79" cy="303.63" r="0.7" fill="#e8352d" fill-opacity="0.8"/>
<circle cx="584.78" cy="306.66" r="0.7" fill="#e8352d" fill-opacity="0.8"/>
<circle cx="580.15" cy="300.64" r="0.7" fill="#e8352d" fill-opacity="0.8"/>
<circle cx="576.84" cy="305.58" r="0.7" fill="#e8352d" fill-opacity="0.8"/>
<circle cx="577.28" cy="304.47" r="0.7" fill="#e8352d" fill-opacity="0.8"/>
<circle cx="589.83" cy="301.74" r="0.7" fill="#e8352d" fill-opacity="0.8"/>
<circle cx="589.33" cy="303.25" r="0.7" fill="#e8352d" fill-opacity="0.8"/>
<circle cx="574.36" cy="306.06" r="0.7" fill="#e8352d" fill-opacity="0.8"/>
<circle cx="590.65" cy="307.02" r="0.7" fill="#e8352d" fill-opacity="0.8"/>
<circle cx="584.32" cy="305.39" r="0.7" fill="#e8352d" fill-opacity="0.8"/>
<circle cx="573.63" cy="302.41" r="0.7" fill="#e8352d" fill-opacity="0.8"/>
<circle cx="581.24" cy="303.07" r="0.7" fill="#e8352d" fill-opacity="0.8"/>
<circle cx="580.23" cy="301.47" r="0.7" fill="#e8352d" fill-opacity="0.8"/>
<circle cx="590.64" cy="304.74" r="0.7" fill="#e8352d" fill-opacity="0.8"/>
<circle cx="579.55" cy="302.56" r="0.7" fill="#e8352d" fill-opacity="0.8"/>
<circle cx="591.46" cy="305.19" r="0.7" fill="#e8352d" fill-opacity="0.8"/>
<circle cx="582.83" cy="302.75" r="0.7" fill="#e8352d" fill-opacity="0.8"/>
<circle cx="582.84" cy="306.98" r="0.7" fill="#e8352d" fill-opacity="0.8"/>
<circle cx="579.39" cy="301.09" r="0.7" fill="#e8352d" fill-opacity="0.8"/>
<circle cx="574.83" cy="308.20" r="0.7" fill="#e8352d" fill-opacity="0.8"/>
<text transform="translate(555.60,317.60) scale(0.9166666666666667,1)" text-anchor="end" fill="#333" style="font-size:8.28px;">AST</text>
<rect x="567.80" y="312.00" width="8.40" height="6.60" fill="#2c4f9c" fill-opacity="0.8" rx="1.5"/>
<circle cx="580.38" cy="316.64" r="0.7" fill="#2c4f9c" fill-opacity="0.8"/>
<circle cx="570.82" cy="316.02" r="0.7" fill="#2c4f9c" fill-opacity="0.8"/>
<circle cx="570.71" cy="315.05" r="0.7" fill="#2c4f9c" fill-opacity="0.8"/>
<circle cx="570.86" cy="315.84" r="0.7" fill="#2c4f9c" fill-opacity="0.8"/>
<circle cx="572.20" cy="313.46" r="0.7" fill="#2c4f9c" fill-opacity="0.8"/>
<circle cx="570.32" cy="316.41" r="0.7" fill="#2c4f9c" fill-opacity="0.8"/>
<circle cx="573.71" cy="312.53" r="0.7" fill="#2c4f9c" fill-opacity="0.8"/>
<circle cx="582.17" cy="314.61" r="0.7" fill="#2c4f9c" fill-opacity="0.8"/>
<circle cx="573.89" cy="317.31" r="0.7" fill="#2c4f9c" fill-opacity="0.8"/>
<circle cx="587.88" cy="317.94" r="0.7" fill="#2c4f9c" fill-opacity="0.8"/>
<circle cx="575.77" cy="315.81" r="0.7" fill="#2c4f9c" fill-opacity="0.8"/>
<circle cx="582.78" cy="314.77" r="0.7" fill="#2c4f9c" fill-opacity="0.8"/>
<circle cx="567.58" cy="317.06" r="0.7" fill="#2c4f9c" fill-opacity="0.8"/>
<circle cx="583.57" cy="317.26" r="0.7" fill="#2c4f9c" fill-opacity="0.8"/>
<circle cx="572.93" cy="311.94" r="0.7" fill="#2c4f9c" fill-opacity="0.8"/>
<circle cx="571.47" cy="315.32" r="0.7" fill="#2c4f9c" fill-opacity="0.8"/>
<circle cx="567.52" cy="316.82" r="0.7" fill="#2c4f9c" fill-opacity="0.8"/>
<circle cx="569.39" cy="313.79" r="0.7" fill="#2c4f9c" fill-opacity="0.8"/>
<circle cx="569.36" cy="311.93" r="0.7" fill="#2c4f9c" fill-opacity="0.8"/>
<circle cx="584.32" cy="318.16" r="0.7" fill="#2c4f9c" fill-opacity="0.8"/>
<circle cx="575.05" cy="313.13" r="0.7" fill="#2c4f9c" fill-opacity="0.8"/>
<circle cx="572.67" cy="318.45" r="0.7" fill="#2c4f9c" fill-opacity="0.8"/>
<circle cx="574.92" cy="312.37" r="0.7" fill="#2c4f9c" fill-opacity="0.8"/>
<circle cx="576.51" cy="311.40" r="0.7" fill="#2c4f9c" fill-opacity="0.8"/>
<circle cx="569.99" cy="313.93" r="0.7" fill="#2c4f9c" fill-opacity="0.8"/>
<circle cx="575.95" cy="317.76" r="0.7" fill="#2c4f9c" fill-opacity="0.8"/>
<circle cx="570.56" cy="315.97" r="0.7" fill="#2c4f9c" fill-opacity="0.8"/>
<circle cx="567.31" cy="318.41" r="0.7" fill="#2c4f9c" fill-opacity="0.8"/>
<circle cx="571.98" cy="318.68" r="0.7" fill="#2c4f9c" fill-opacity="0.8"/>
<circle cx="570.86" cy="313.70" r="0.7" fill="#2c4f9c" fill-opacity="0.8"/>
<circle cx="579.15" cy="317.94" r="0.7" fill="#2c4f9c" fill-opacity="0.8"/>
<circle cx="571.72" cy="312.74" r="0.7" fill="#2c4f9c" fill-opacity="0.8"/>
<circle cx="579.22" cy="316.33" r="0.7" fill="#2c4f9c" fill-opacity="0.8"/>
<circle cx="575.80" cy="311.79" r="0.7" fill="#2c4f9c" fill-opacity="0.8"/>
<circle cx="574.26" cy="313.84" r="0.7" fill="#2c4f9c" fill-opacity="0.8"/>
<circle cx="584.84" cy="312.45" r="0.7" fill="#2c4f9c" fill-opacity="0.8"/>
<circle cx="576.38" cy="314.87" r="0.7" fill="#2c4f9c" fill-opacity="0.8"/>
<circle cx="569.23" cy="313.80" r="0.7" fill="#2c4f9c" fill-opacity="0.8"/>
<circle cx="568.96" cy="312.81" r="0.7" fill="#2c4f9c" fill-opacity="0.8"/>
<circle cx="573.65" cy="317.57" r="0.7" fill="#2c4f9c" fill-opacity="0.8"/>
<circle cx="573.62" cy="318.30" r="0.7" fill="#2c4f9c" fill-opacity="0.8"/>
<circle cx="569.29" cy="313.75" r="0.7" fill="#2c4f9c" fill-opacity="0.8"/>
<circle cx="580.05" cy="316.39" r="0.7" fill="#2c4f9c" fill-opacity="0.8"/>
<circle cx="576.83" cy="314.83" r="0.7" fill="#2c4f9c" fill-opacity="0.8"/>
<circle cx="572.31" cy="311.75" r="0.7" fill="#2c4f9c" fill-opacity="0.8"/>
<circle cx="569.85" cy="313.36" r="0.7" fill="#2c4f9c" fill-opacity="0.8"/>
<circle cx="572.56" cy="317.29" r="0.7" fill="#2c4f9c" fill-opacity="0.8"/>
<circle cx="569.79" cy="315.68" r="0.7" fill="#2c4f9c" fill-opacity="0.8"/>
<circle cx="575.97" cy="319.10" r="0.7" fill="#2c4f9c" fill-opacity="0.8"/>
<circle cx="571.62" cy="317.25" r="0.7" fill="#2c4f9c" fill-opacity="0.8"/>
<circle cx="576.29" cy="315.30" r="0.7" fill="#2c4f9c" fill-opacity="0.8"/>
<circle cx="572.56" cy="316.43" r="0.7" fill="#2c4f9c" fill-opacity="0.8"/>
<circle cx="573.58" cy="317.51" r="0.7" fill="#2c4f9c" fill-opacity="0.8"/>
<circle cx="572.06" cy="317.99" r="0.7" fill="#2c4f9c" fill-opacity="0.8"/>
<circle cx="572.21" cy="318.82" r="0.7" fill="#2c4f9c" fill-opacity="0.8"/>
<circle cx="574.80" cy="312.69" r="0.7" fill="#2c4f9c" fill-opacity="0.8"/>
<circle cx="569.35" cy="314.84" r="0.7" fill="#2c4f9c" fill-opacity="0.8"/>
<circle cx="585.70" cy="313.24" r="0.7" fill="#2c4f9c" fill-opacity="0.8"/>
<circle cx="569.21" cy="315.92" r="0.7" fill="#2c4f9c" fill-opacity="0.8"/>
<circle cx="567.35" cy="316.06" r="0.7" fill="#2c4f9c" fill-opacity="0.8"/>
<circle cx="572.73" cy="318.21" r="0.7" fill="#2c4f9c" fill-opacity="0.8"/>
<circle cx="568.52" cy="311.54" r="0.7" fill="#2c4f9c" fill-opacity="0.8"/>
<circle cx="571.35" cy="314.85" r="0.7" fill="#2c4f9c" fill-opacity="0.8"/>
<circle cx="574.99" cy="311.97" r="0.7" fill="#2c4f9c" fill-opacity="0.8"/>
<circle cx="582.98" cy="317.57" r="0.7" fill="#2c4f9c" fill-opacity="0.8"/>
<circle cx="568.46" cy="313.83" r="0.7" fill="#2c4f9c" fill-opacity="0.8"/>
<circle cx="570.14" cy="316.25" r="0.7" fill="#2c4f9c" fill-opacity="0.8"/>
<circle cx="569.65" cy="315.99" r="0.7" fill="#2c4f9c" fill-opacity="0.8"/>
<circle cx="575.21" cy="312.74" r="0.7" fill="#2c4f9c" fill-opacity="0.8"/>
<circle cx="568.60" cy="316.79" r="0.7" fill="#2c4f9c" fill-opacity="0.8"/>
<circle cx="577.67" cy="314.60" r="0.7" fill="#2c4f9c" fill-opacity="0.8"/>
<circle cx="569.16" cy="318.97" r="0.7" fill="#2c4f9c" fill-opacity="0.8"/>
<circle cx="571.90" cy="317.34" r="0.7" fill="#2c4f9c" fill-opacity="0.8"/>
<circle cx="576.23" cy="317.21" r="0.7" fill="#2c4f9c" fill-opacity="0.8"/>
<circle cx="569.41" cy="318.34" r="0.7" fill="#2c4f9c" fill-opacity="0.8"/>
<circle cx="570.93" cy="313.72" r="0.7" fill="#2c4f9c" fill-opacity="0.8"/>
<circle cx="567.76" cy="311.67" r="0.7" fill="#2c4f9c" fill-opacity="0.8"/>
<circle cx="585.07" cy="313.19" r="0.7" fill="#2c4f9c" fill-opacity="0.8"/>
<circle cx="572.52" cy="313.29" r="0.7" fill="#2c4f9c" fill-opacity="0.8"/>
<circle cx="576.32" cy="314.24" r="0.7" fill="#2c4f9c" fill-opacity="0.8"/>
<circle cx="576.81" cy="316.16" r="0.7" fill="#2c4f9c" fill-opacity="0.8"/>
<circle cx="571.03" cy="316.47" r="0.7" fill="#2c4f9c" fill-opacity="0.8"/>
<circle cx="570.43" cy="316.82" r="0.7" fill="#2c4f9c" fill-opacity="0.8"/>
<circle cx="586.75" cy="315.01" r="0.7" fill="#2c4f9c" fill-opacity="0.8"/>
<circle cx="575.43" cy="314.37" r="0.7" fill="#2c4f9c" fill-opacity="0.8"/>
<circle cx="573.90" cy="312.83" r="0.7" fill="#2c4f9c" fill-opacity="0.8"/>
<circle cx="568.64" cy="312.99" r="0.7" fill="#2c4f9c" fill-opacity="0.8"/>
<circle cx="571.68" cy="313.81" r="0.7" fill="#2c4f9c" fill-opacity="0.8"/>
<circle cx="576.93" cy="316.70" r="0.7" fill="#2c4f9c" fill-opacity="0.8"/>
<circle cx="574.67" cy="311.97" r="0.7" fill="#2c4f9c" fill-opacity="0.8"/>
<circle cx="570.63" cy="313.54" r="0.7" fill="#2c4f9c" fill-opacity="0.8"/>
<circle cx="568.82" cy="313.45" r="0.7" fill="#2c4f9c" fill-opacity="0.8"/>
<circle cx="576.24" cy="316.98" r="0.7" fill="#2c4f9c" fill-opacity="0.8"/>
<circle cx="570.61" cy="312.60" r="0.7" fill="#2c4f9c" fill-opacity="0.8"/>
<circle cx="582.94" cy="317.04" r="0.7" fill="#2c4f9c" fill-opacity="0.8"/>
<circle cx="573.36" cy="314.40" r="0.7" fill="#2c4f9c" fill-opacity="0.8"/>
<circle cx="575.82" cy="313.94" r="0.7" fill="#2c4f9c" fill-opacity="0.8"/>
<circle cx="577.60" cy="314.47" r="0.7" fill="#2c4f9c" fill-opacity="0.8"/>
<circle cx="567.41" cy="312.58" r="0.7" fill="#2c4f9c" fill-opacity="0.8"/>
<circle cx="567.32" cy="313.84" r="0.7" fill="#2c4f9c" fill-opacity="0.8"/>
<circle cx="572.44" cy="312.46" r="0.7" fill="#2c4f9c" fill-opacity="0.8"/>
<circle cx="569.60" cy="317.06" r="0.7" fill="#2c4f9c" fill-opacity="0.8"/>
<circle cx="568.47" cy="313.00" r="0.7" fill="#2c4f9c" fill-opacity="0.8"/>
<circle cx="574.13" cy="314.56" r="0.7" fill="#2c4f9c" fill-opacity="0.8"/>
<circle cx="575.66" cy="313.16" r="0.7" fill="#2c4f9c" fill-opacity="0.8"/>
<circle cx="570.45" cy="313.08" r="0.7" fill="#2c4f9c" fill-opacity="0.8"/>
<circle cx="567.25" cy="316.32" r="0.7" fill="#2c4f9c" fill-opacity="0.8"/>
<circle cx="575.09" cy="319.01" r="0.7" fill="#2c4f9c" fill-opacity="0.8"/>
<circle cx="573.70" cy="318.57" r="0.7" fill="#2c4f9c" fill-opacity="0.8"/>
<circle cx="573.89" cy="316.60" r="0.7" fill="#2c4f9c" fill-opacity="0.8"/>
<circle cx="579.58" cy="316.33" r="0.7" fill="#2c4f9c" fill-opacity="0.8"/>
<circle cx="571.28" cy="314.46" r="0.7" fill="#2c4f9c" fill-opacity="0.8"/>
<circle cx="570.83" cy="313.96" r="0.7" fill="#2c4f9c" fill-opacity="0.8"/>
<circle cx="569.80" cy="312.64" r="0.7" fill="#2c4f9c" fill-opacity="0.8"/>
<circle cx="571.75" cy="312.70" r="0.7" fill="#2c4f9c" fill-opacity="0.8"/>
<circle cx="569.40" cy="312.13" r="0.7" fill="#2c4f9c" fill-opacity="0.8"/>
<circle cx="571.22" cy="312.58" r="0.7" fill="#2c4f9c" fill-opacity="0.8"/>
<circle cx="574.01" cy="315.71" r="0.7" fill="#2c4f9c" fill-opacity="0.8"/>
<circle cx="567.23" cy="314.45" r="0.7" fill="#2c4f9c" fill-opacity="0.8"/>
<circle cx="567.63" cy="314.55" r="0.7" fill="#2c4f9c" fill-opacity="0.8"/>
<circle cx="571.96" cy="315.97" r="0.7" fill="#2c4f9c" fill-opacity="0.8"/>
<circle cx="570.26" cy="313.38" r="0.7" fill="#2c4f9c" fill-opacity="0.8"/>
<circle cx="570.47" cy="318.36" r="0.7" fill="#2c4f9c" fill-opacity="0.8"/>
<circle cx="569.62" cy="316.61" r="0.7" fill="#2c4f9c" fill-opacity="0.8"/>
<circle cx="571.69" cy="316.20" r="0.7" fill="#2c4f9c" fill-opacity="0.8"/>
<circle cx="578.85" cy="318.75" r="0.7" fill="#2c4f9c" fill-opacity="0.8"/>
<circle cx="583.83" cy="314.61" r="0.7" fill="#2c4f9c" fill-opacity="0.8"/>
<circle cx="569.76" cy="317.87" r="0.7" fill="#2c4f9c" fill-opacity="0.8"/>
<circle cx="586.05" cy="311.70" r="0.7" fill="#2c4f9c" fill-opacity="0.8"/>
<circle cx="572.07" cy="313.81" r="0.7" fill="#2c4f9c" fill-opacity="0.8"/>
<circle cx="576.77" cy="312.57" r="0.7" fill="#2c4f9c" fill-opacity="0.8"/>
<circle cx="569.28" cy="316.71" r="0.7" fill="#2c4f9c" fill-opacity="0.8"/>
<circle cx="567.01" cy="315.64" r="0.7" fill="#2c4f9c" fill-opacity="0.8"/>
<circle cx="569.39" cy="315.25" r="0.7" fill="#2c4f9c" fill-opacity="0.8"/>
<circle cx="572.48" cy="316.27" r="0.7" fill="#2c4f9c" fill-opacity="0.8"/>
<circle cx="575.31" cy="318.96" r="0.7" fill="#2c4f9c" fill-opacity="0.8"/>
<circle cx="570.47" cy="318.31" r="0.7" fill="#2c4f9c" fill-opacity="0.8"/>
<circle cx="574.16" cy="316.82" r="0.7" fill="#2c4f9c" fill-opacity="0.8"/>
<circle cx="576.64" cy="317.83" r="0.7" fill="#2c4f9c" fill-opacity="0.8"/>
<circle cx="573.22" cy="315.23" r="0.7" fill="#2c4f9c" fill-opacity="0.8"/>
<circle cx="570.70" cy="313.63" r="0.7" fill="#2c4f9c" fill-opacity="0.8"/>
<circle cx="572.34" cy="313.25" r="0.7" fill="#2c4f9c" fill-opacity="0.8"/>
<circle cx="570.25" cy="312.79" r="0.7" fill="#2c4f9c" fill-opacity="0.8"/>
<circle cx="568.26" cy="311.89" r="0.7" fill="#2c4f9c" fill-opacity="0.8"/>
<circle cx="568.02" cy="316.90" r="0.7" fill="#2c4f9c" fill-opacity="0.8"/>
<circle cx="571.52" cy="317.42" r="0.7" fill="#2c4f9c" fill-opacity="0.8"/>
<circle cx="568.63" cy="318.16" r="0.7" fill="#2c4f9c" fill-opacity="0.8"/>
<circle cx="571.88" cy="315.36" r="0.7" fill="#2c4f9c" fill-opacity="0.8"/>
<circle cx="581.86" cy="313.36" r="0.7" fill="#2c4f9c" fill-opacity="0.8"/>
<circle cx="570.27" cy="314.00" r="0.7" fill="#2c4f9c" fill-opacity="0.8"/>
<text transform="translate(555.60,328.50) scale(0.9166666666666667,1)" text-anchor="end" fill="#333" style="font-size:8.28px;">ALP</text>
<rect x="567.80" y="322.90" width="9.90" height="6.60" fill="#2c4f9c" fill-opacity="0.8" rx="1.5"/>
<circle cx="579.74" cy="326.73" r="0.7" fill="#2c4f9c" fill-opacity="0.8"/>
<circle cx="575.13" cy="327.16" r="0.7" fill="#2c4f9c" fill-opacity="0.8"/>
<circle cx="578.69" cy="325.24" r="0.7" fill="#2c4f9c" fill-opacity="0.8"/>
<circle cx="569.66" cy="323.74" r="0.7" fill="#2c4f9c" fill-opacity="0.8"/>
<circle cx="573.73" cy="329.64" r="0.7" fill="#2c4f9c" fill-opacity="0.8"/>
<circle cx="575.06" cy="325.57" r="0.7" fill="#2c4f9c" fill-opacity="0.8"/>
<circle cx="571.56" cy="329.58" r="0.7" fill="#2c4f9c" fill-opacity="0.8"/>
<circle cx="575.47" cy="323.22" r="0.7" fill="#2c4f9c" fill-opacity="0.8"/>
<circle cx="570.29" cy="328.00" r="0.7" fill="#2c4f9c" fill-opacity="0.8"/>
<circle cx="569.41" cy="322.51" r="0.7" fill="#2c4f9c" fill-opacity="0.8"/>
<circle cx="572.56" cy="325.21" r="0.7" fill="#2c4f9c" fill-opacity="0.8"/>
<circle cx="576.21" cy="328.84" r="0.7" fill="#2c4f9c" fill-opacity="0.8"/>
<circle cx="571.50" cy="327.12" r="0.7" fill="#2c4f9c" fill-opacity="0.8"/>
<circle cx="579.08" cy="327.71" r="0.7" fill="#2c4f9c" fill-opacity="0.8"/>
<circle cx="576.20" cy="323.45" r="0.7" fill="#2c4f9c" fill-opacity="0.8"/>
<circle cx="568.23" cy="329.58" r="0.7" fill="#2c4f9c" fill-opacity="0.8"/>
<circle cx="572.62" cy="323.24" r="0.7" fill="#2c4f9c" fill-opacity="0.8"/>
<circle cx="567.22" cy="326.71" r="0.7" fill="#2c4f9c" fill-opacity="0.8"/>
<circle cx="574.19" cy="324.44" r="0.7" fill="#2c4f9c" fill-opacity="0.8"/>
<circle cx="572.55" cy="325.15" r="0.7" fill="#2c4f9c" fill-opacity="0.8"/>
<circle cx="567.59" cy="322.80" r="0.7" fill="#2c4f9c" fill-opacity="0.8"/>
<circle cx="565.44" cy="323.72" r="0.7" fill="#2c4f9c" fill-opacity="0.8"/>
<circle cx="578.47" cy="323.88" r="0.7" fill="#2c4f9c" fill-opacity="0.8"/>
<circle cx="570.75" cy="328.59" r="0.7" fill="#2c4f9c" fill-opacity="0.8"/>
<circle cx="567.66" cy="326.59" r="0.7" fill="#2c4f9c" fill-opacity="0.8"/>
<circle cx="574.16" cy="324.46" r="0.7" fill="#2c4f9c" fill-opacity="0.8"/>
<circle cx="579.99" cy="325.76" r="0.7" fill="#2c4f9c" fill-opacity="0.8"/>
<circle cx="578.76" cy="322.51" r="0.7" fill="#2c4f9c" fill-opacity="0.8"/>
<circle cx="568.37" cy="322.88" r="0.7" fill="#2c4f9c" fill-opacity="0.8"/>
<circle cx="575.67" cy="324.72" r="0.7" fill="#2c4f9c" fill-opacity="0.8"/>
<circle cx="567.12" cy="323.94" r="0.7" fill="#2c4f9c" fill-opacity="0.8"/>
<circle cx="572.53" cy="328.62" r="0.7" fill="#2c4f9c" fill-opacity="0.8"/>
<circle cx="579.10" cy="328.56" r="0.7" fill="#2c4f9c" fill-opacity="0.8"/>
<circle cx="579.98" cy="323.09" r="0.7" fill="#2c4f9c" fill-opacity="0.8"/>
<circle cx="575.34" cy="324.25" r="0.7" fill="#2c4f9c" fill-opacity="0.8"/>
<circle cx="573.31" cy="324.07" r="0.7" fill="#2c4f9c" fill-opacity="0.8"/>
<circle cx="571.25" cy="327.42" r="0.7" fill="#2c4f9c" fill-opacity="0.8"/>
<circle cx="574.28" cy="325.06" r="0.7" fill="#2c4f9c" fill-opacity="0.8"/>
<circle cx="577.41" cy="324.81" r="0.7" fill="#2c4f9c" fill-opacity="0.8"/>
<circle cx="570.85" cy="328.08" r="0.7" fill="#2c4f9c" fill-opacity="0.8"/>
<circle cx="575.55" cy="326.56" r="0.7" fill="#2c4f9c" fill-opacity="0.8"/>
<circle cx="569.04" cy="323.13" r="0.7" fill="#2c4f9c" fill-opacity="0.8"/>
<circle cx="571.03" cy="325.66" r="0.7" fill="#2c4f9c" fill-opacity="0.8"/>
<circle cx="572.78" cy="325.45" r="0.7" fill="#2c4f9c" fill-opacity="0.8"/>
<circle cx="573.18" cy="329.73" r="0.7" fill="#2c4f9c" fill-opacity="0.8"/>
<circle cx="577.13" cy="324.80" r="0.7" fill="#2c4f9c" fill-opacity="0.8"/>
<circle cx="579.80" cy="325.65" r="0.7" fill="#2c4f9c" fill-opacity="0.8"/>
<circle cx="570.65" cy="327.81" r="0.7" fill="#2c4f9c" fill-opacity="0.8"/>
<circle cx="570.14" cy="327.58" r="0.7" fill="#2c4f9c" fill-opacity="0.8"/>
<circle cx="567.10" cy="325.09" r="0.7" fill="#2c4f9c" fill-opacity="0.8"/>
<circle cx="574.23" cy="325.25" r="0.7" fill="#2c4f9c" fill-opacity="0.8"/>
<circle cx="569.44" cy="327.11" r="0.7" fill="#2c4f9c" fill-opacity="0.8"/>
<circle cx="579.44" cy="326.24" r="0.7" fill="#2c4f9c" fill-opacity="0.8"/>
<circle cx="568.31" cy="328.83" r="0.7" fill="#2c4f9c" fill-opacity="0.8"/>
<circle cx="572.21" cy="327.49" r="0.7" fill="#2c4f9c" fill-opacity="0.8"/>
<circle cx="571.42" cy="324.09" r="0.7" fill="#2c4f9c" fill-opacity="0.8"/>
<circle cx="573.59" cy="326.32" r="0.7" fill="#2c4f9c" fill-opacity="0.8"/>
<circle cx="574.21" cy="325.79" r="0.7" fill="#2c4f9c" fill-opacity="0.8"/>
<circle cx="573.84" cy="329.57" r="0.7" fill="#2c4f9c" fill-opacity="0.8"/>
<circle cx="572.39" cy="330.04" r="0.7" fill="#2c4f9c" fill-opacity="0.8"/>
<circle cx="570.60" cy="328.05" r="0.7" fill="#2c4f9c" fill-opacity="0.8"/>
<circle cx="577.91" cy="323.29" r="0.7" fill="#2c4f9c" fill-opacity="0.8"/>
<circle cx="567.90" cy="328.85" r="0.7" fill="#2c4f9c" fill-opacity="0.8"/>
<circle cx="577.78" cy="328.77" r="0.7" fill="#2c4f9c" fill-opacity="0.8"/>
<circle cx="579.99" cy="322.81" r="0.7" fill="#2c4f9c" fill-opacity="0.8"/>
<circle cx="578.88" cy="328.60" r="0.7" fill="#2c4f9c" fill-opacity="0.8"/>
<circle cx="573.17" cy="329.05" r="0.7" fill="#2c4f9c" fill-opacity="0.8"/>
<circle cx="570.22" cy="327.32" r="0.7" fill="#2c4f9c" fill-opacity="0.8"/>
<circle cx="573.38" cy="328.44" r="0.7" fill="#2c4f9c" fill-opacity="0.8"/>
<circle cx="569.78" cy="328.54" r="0.7" fill="#2c4f9c" fill-opacity="0.8"/>
<circle cx="579.32" cy="329.36" r="0.7" fill="#2c4f9c" fill-opacity="0.8"/>
<circle cx="569.98" cy="323.08" r="0.7" fill="#2c4f9c" fill-opacity="0.8"/>
<circle cx="570.98" cy="329.05" r="0.7" fill="#2c4f9c" fill-opacity="0.8"/>
<circle cx="567.07" cy="325.33" r="0.7" fill="#2c4f9c" fill-opacity="0.8"/>
<circle cx="579.85" cy="322.86" r="0.7" fill="#2c4f9c" fill-opacity="0.8"/>
<circle cx="574.14" cy="329.14" r="0.7" fill="#2c4f9c" fill-opacity="0.8"/>
<circle cx="569.27" cy="327.51" r="0.7" fill="#2c4f9c" fill-opacity="0.8"/>
<circle cx="567.18" cy="324.95" r="0.7" fill="#2c4f9c" fill-opacity="0.8"/>
<circle cx="574.24" cy="324.47" r="0.7" fill="#2c4f9c" fill-opacity="0.8"/>
<circle cx="574.99" cy="323.71" r="0.7" fill="#2c4f9c" fill-opacity="0.8"/>
<circle cx="574.98" cy="325.94" r="0.7" fill="#2c4f9c" fill-opacity="0.8"/>
<circle cx="568.33" cy="329.64" r="0.7" fill="#2c4f9c" fill-opacity="0.8"/>
<circle cx="571.11" cy="323.83" r="0.7" fill="#2c4f9c" fill-opacity="0.8"/>
<circle cx="579.60" cy="325.11" r="0.7" fill="#2c4f9c" fill-opacity="0.8"/>
<circle cx="571.70" cy="323.44" r="0.7" fill="#2c4f9c" fill-opacity="0.8"/>
<circle cx="571.88" cy="328.70" r="0.7" fill="#2c4f9c" fill-opacity="0.8"/>
<circle cx="572.25" cy="326.25" r="0.7" fill="#2c4f9c" fill-opacity="0.8"/>
<circle cx="575.32" cy="324.13" r="0.7" fill="#2c4f9c" fill-opacity="0.8"/>
<circle cx="570.28" cy="329.11" r="0.7" fill="#2c4f9c" fill-opacity="0.8"/>
<circle cx="576.83" cy="327.58" r="0.7" fill="#2c4f9c" fill-opacity="0.8"/>
<circle cx="577.74" cy="325.32" r="0.7" fill="#2c4f9c" fill-opacity="0.8"/>
<circle cx="573.91" cy="325.80" r="0.7" fill="#2c4f9c" fill-opacity="0.8"/>
<circle cx="571.82" cy="324.49" r="0.7" fill="#2c4f9c" fill-opacity="0.8"/>
<circle cx="577.98" cy="324.59" r="0.7" fill="#2c4f9c" fill-opacity="0.8"/>
<circle cx="574.73" cy="324.21" r="0.7" fill="#2c4f9c" fill-opacity="0.8"/>
<circle cx="568.52" cy="329.28" r="0.7" fill="#2c4f9c" fill-opacity="0.8"/>
<circle cx="571.84" cy="324.96" r="0.7" fill="#2c4f9c" fill-opacity="0.8"/>
<circle cx="579.39" cy="326.56" r="0.7" fill="#2c4f9c" fill-opacity="0.8"/>
<circle cx="577.31" cy="322.99" r="0.7" fill="#2c4f9c" fill-opacity="0.8"/>
<circle cx="571.31" cy="327.94" r="0.7" fill="#2c4f9c" fill-opacity="0.8"/>
<circle cx="570.95" cy="329.30" r="0.7" fill="#2c4f9c" fill-opacity="0.8"/>
<circle cx="574.20" cy="325.96" r="0.7" fill="#2c4f9c" fill-opacity="0.8"/>
<circle cx="572.35" cy="324.77" r="0.7" fill="#2c4f9c" fill-opacity="0.8"/>
<circle cx="573.96" cy="329.87" r="0.7" fill="#2c4f9c" fill-opacity="0.8"/>
<circle cx="579.09" cy="328.76" r="0.7" fill="#2c4f9c" fill-opacity="0.8"/>
<circle cx="575.06" cy="330.08" r="0.7" fill="#2c4f9c" fill-opacity="0.8"/>
<circle cx="572.32" cy="325.43" r="0.7" fill="#2c4f9c" fill-opacity="0.8"/>
<circle cx="569.51" cy="330.02" r="0.7" fill="#2c4f9c" fill-opacity="0.8"/>
<circle cx="571.25" cy="323.42" r="0.7" fill="#2c4f9c" fill-opacity="0.8"/>
<circle cx="575.53" cy="322.95" r="0.7" fill="#2c4f9c" fill-opacity="0.8"/>
<circle cx="574.46" cy="327.16" r="0.7" fill="#2c4f9c" fill-opacity="0.8"/>
<circle cx="569.91" cy="328.63" r="0.7" fill="#2c4f9c" fill-opacity="0.8"/>
<circle cx="575.92" cy="323.23" r="0.7" fill="#2c4f9c" fill-opacity="0.8"/>
<circle cx="567.18" cy="329.01" r="0.7" fill="#2c4f9c" fill-opacity="0.8"/>
<circle cx="578.54" cy="325.04" r="0.7" fill="#2c4f9c" fill-opacity="0.8"/>
<circle cx="573.14" cy="323.17" r="0.7" fill="#2c4f9c" fill-opacity="0.8"/>
<circle cx="572.22" cy="323.27" r="0.7" fill="#2c4f9c" fill-opacity="0.8"/>
<circle cx="568.49" cy="322.99" r="0.7" fill="#2c4f9c" fill-opacity="0.8"/>
<circle cx="570.38" cy="328.36" r="0.7" fill="#2c4f9c" fill-opacity="0.8"/>
<circle cx="571.76" cy="322.72" r="0.7" fill="#2c4f9c" fill-opacity="0.8"/>
<circle cx="572.19" cy="326.65" r="0.7" fill="#2c4f9c" fill-opacity="0.8"/>
<circle cx="576.78" cy="323.11" r="0.7" fill="#2c4f9c" fill-opacity="0.8"/>
<circle cx="579.53" cy="326.39" r="0.7" fill="#2c4f9c" fill-opacity="0.8"/>
<circle cx="574.04" cy="329.04" r="0.7" fill="#2c4f9c" fill-opacity="0.8"/>
<circle cx="564.37" cy="323.50" r="0.7" fill="#2c4f9c" fill-opacity="0.8"/>
<circle cx="579.57" cy="323.52" r="0.7" fill="#2c4f9c" fill-opacity="0.8"/>
<circle cx="567.33" cy="323.16" r="0.7" fill="#2c4f9c" fill-opacity="0.8"/>
<circle cx="578.11" cy="327.32" r="0.7" fill="#2c4f9c" fill-opacity="0.8"/>
<circle cx="570.77" cy="322.91" r="0.7" fill="#2c4f9c" fill-opacity="0.8"/>
<circle cx="568.29" cy="329.47" r="0.7" fill="#2c4f9c" fill-opacity="0.8"/>
<circle cx="572.62" cy="327.40" r="0.7" fill="#2c4f9c" fill-opacity="0.8"/>
<circle cx="579.35" cy="326.21" r="0.7" fill="#2c4f9c" fill-opacity="0.8"/>
<circle cx="568.93" cy="328.07" r="0.7" fill="#2c4f9c" fill-opacity="0.8"/>
<circle cx="571.23" cy="325.65" r="0.7" fill="#2c4f9c" fill-opacity="0.8"/>
<circle cx="571.12" cy="325.66" r="0.7" fill="#2c4f9c" fill-opacity="0.8"/>
<circle cx="567.57" cy="328.82" r="0.7" fill="#2c4f9c" fill-opacity="0.8"/>
<circle cx="573.07" cy="326.57" r="0.7" fill="#2c4f9c" fill-opacity="0.8"/>
<circle cx="569.56" cy="323.07" r="0.7" fill="#2c4f9c" fill-opacity="0.8"/>
<circle cx="570.62" cy="326.08" r="0.7" fill="#2c4f9c" fill-opacity="0.8"/>
<circle cx="575.62" cy="326.10" r="0.7" fill="#2c4f9c" fill-opacity="0.8"/>
<text transform="translate(555.60,339.40) scale(0.9166666666666667,1)" text-anchor="end" fill="#333" style="font-size:8.28px;">D-dimer</text>
<rect x="566.30" y="333.80" width="10.90" height="6.60" fill="#e8352d" fill-opacity="0.8" rx="1.5"/>
<circle cx="570.58" cy="340.74" r="0.7" fill="#e8352d" fill-opacity="0.8"/>
<circle cx="572.92" cy="340.69" r="0.7" fill="#e8352d" fill-opacity="0.8"/>
<circle cx="572.98" cy="336.08" r="0.7" fill="#e8352d" fill-opacity="0.8"/>
<circle cx="573.11" cy="337.80" r="0.7" fill="#e8352d" fill-opacity="0.8"/>
<circle cx="571.72" cy="337.23" r="0.7" fill="#e8352d" fill-opacity="0.8"/>
<circle cx="565.89" cy="335.17" r="0.7" fill="#e8352d" fill-opacity="0.8"/>
<circle cx="575.45" cy="336.52" r="0.7" fill="#e8352d" fill-opacity="0.8"/>
<circle cx="568.79" cy="338.50" r="0.7" fill="#e8352d" fill-opacity="0.8"/>
<circle cx="577.80" cy="339.69" r="0.7" fill="#e8352d" fill-opacity="0.8"/>
<circle cx="569.47" cy="339.59" r="0.7" fill="#e8352d" fill-opacity="0.8"/>
<circle cx="578.09" cy="339.16" r="0.7" fill="#e8352d" fill-opacity="0.8"/>
<circle cx="573.31" cy="337.51" r="0.7" fill="#e8352d" fill-opacity="0.8"/>
<circle cx="578.03" cy="340.49" r="0.7" fill="#e8352d" fill-opacity="0.8"/>
<circle cx="578.01" cy="338.95" r="0.7" fill="#e8352d" fill-opacity="0.8"/>
<circle cx="574.00" cy="340.87" r="0.7" fill="#e8352d" fill-opacity="0.8"/>
<circle cx="576.22" cy="336.64" r="0.7" fill="#e8352d" fill-opacity="0.8"/>
<circle cx="571.22" cy="336.61" r="0.7" fill="#e8352d" fill-opacity="0.8"/>
<circle cx="569.50" cy="338.93" r="0.7" fill="#e8352d" fill-opacity="0.8"/>
<circle cx="566.95" cy="339.71" r="0.7" fill="#e8352d" fill-opacity="0.8"/>
<circle cx="572.35" cy="334.08" r="0.7" fill="#e8352d" fill-opacity="0.8"/>
<circle cx="569.38" cy="340.64" r="0.7" fill="#e8352d" fill-opacity="0.8"/>
<circle cx="577.03" cy="334.85" r="0.7" fill="#e8352d" fill-opacity="0.8"/>
<circle cx="572.20" cy="339.75" r="0.7" fill="#e8352d" fill-opacity="0.8"/>
<circle cx="576.42" cy="336.88" r="0.7" fill="#e8352d" fill-opacity="0.8"/>
<circle cx="570.90" cy="336.14" r="0.7" fill="#e8352d" fill-opacity="0.8"/>
<circle cx="577.10" cy="337.05" r="0.7" fill="#e8352d" fill-opacity="0.8"/>
<circle cx="570.35" cy="339.27" r="0.7" fill="#e8352d" fill-opacity="0.8"/>
<circle cx="574.78" cy="334.50" r="0.7" fill="#e8352d" fill-opacity="0.8"/>
<circle cx="568.03" cy="335.90" r="0.7" fill="#e8352d" fill-opacity="0.8"/>
<circle cx="569.87" cy="337.81" r="0.7" fill="#e8352d" fill-opacity="0.8"/>
<circle cx="570.36" cy="337.68" r="0.7" fill="#e8352d" fill-opacity="0.8"/>
<circle cx="573.26" cy="336.95" r="0.7" fill="#e8352d" fill-opacity="0.8"/>
<circle cx="574.96" cy="335.02" r="0.7" fill="#e8352d" fill-opacity="0.8"/>
<circle cx="574.63" cy="337.68" r="0.7" fill="#e8352d" fill-opacity="0.8"/>
<circle cx="566.30" cy="339.63" r="0.7" fill="#e8352d" fill-opacity="0.8"/>
<circle cx="574.46" cy="336.58" r="0.7" fill="#e8352d" fill-opacity="0.8"/>
<circle cx="572.49" cy="340.81" r="0.7" fill="#e8352d" fill-opacity="0.8"/>
<circle cx="571.80" cy="335.00" r="0.7" fill="#e8352d" fill-opacity="0.8"/>
<circle cx="569.10" cy="339.81" r="0.7" fill="#e8352d" fill-opacity="0.8"/>
<circle cx="574.23" cy="337.63" r="0.7" fill="#e8352d" fill-opacity="0.8"/>
<circle cx="569.66" cy="334.38" r="0.7" fill="#e8352d" fill-opacity="0.8"/>
<circle cx="579.21" cy="333.96" r="0.7" fill="#e8352d" fill-opacity="0.8"/>
<circle cx="567.49" cy="337.37" r="0.7" fill="#e8352d" fill-opacity="0.8"/>
<circle cx="567.01" cy="339.17" r="0.7" fill="#e8352d" fill-opacity="0.8"/>
<circle cx="576.74" cy="340.41" r="0.7" fill="#e8352d" fill-opacity="0.8"/>
<circle cx="570.05" cy="340.62" r="0.7" fill="#e8352d" fill-opacity="0.8"/>
<circle cx="569.14" cy="339.89" r="0.7" fill="#e8352d" fill-opacity="0.8"/>
<circle cx="568.81" cy="335.14" r="0.7" fill="#e8352d" fill-opacity="0.8"/>
<circle cx="572.22" cy="335.18" r="0.7" fill="#e8352d" fill-opacity="0.8"/>
<circle cx="568.66" cy="334.23" r="0.7" fill="#e8352d" fill-opacity="0.8"/>
<circle cx="568.91" cy="335.42" r="0.7" fill="#e8352d" fill-opacity="0.8"/>
<circle cx="571.87" cy="340.02" r="0.7" fill="#e8352d" fill-opacity="0.8"/>
<circle cx="576.25" cy="339.87" r="0.7" fill="#e8352d" fill-opacity="0.8"/>
<circle cx="572.30" cy="338.92" r="0.7" fill="#e8352d" fill-opacity="0.8"/>
<circle cx="573.75" cy="340.37" r="0.7" fill="#e8352d" fill-opacity="0.8"/>
<circle cx="565.31" cy="340.51" r="0.7" fill="#e8352d" fill-opacity="0.8"/>
<circle cx="575.34" cy="335.02" r="0.7" fill="#e8352d" fill-opacity="0.8"/>
<circle cx="570.13" cy="338.89" r="0.7" fill="#e8352d" fill-opacity="0.8"/>
<circle cx="578.85" cy="335.92" r="0.7" fill="#e8352d" fill-opacity="0.8"/>
<circle cx="577.37" cy="334.06" r="0.7" fill="#e8352d" fill-opacity="0.8"/>
<circle cx="578.11" cy="340.23" r="0.7" fill="#e8352d" fill-opacity="0.8"/>
<circle cx="572.57" cy="334.13" r="0.7" fill="#e8352d" fill-opacity="0.8"/>
<circle cx="577.58" cy="333.68" r="0.7" fill="#e8352d" fill-opacity="0.8"/>
<circle cx="566.35" cy="333.43" r="0.7" fill="#e8352d" fill-opacity="0.8"/>
<circle cx="577.79" cy="338.54" r="0.7" fill="#e8352d" fill-opacity="0.8"/>
<circle cx="578.78" cy="333.80" r="0.7" fill="#e8352d" fill-opacity="0.8"/>
<circle cx="567.81" cy="337.31" r="0.7" fill="#e8352d" fill-opacity="0.8"/>
<circle cx="571.74" cy="334.74" r="0.7" fill="#e8352d" fill-opacity="0.8"/>
<circle cx="570.72" cy="336.99" r="0.7" fill="#e8352d" fill-opacity="0.8"/>
<circle cx="571.59" cy="337.55" r="0.7" fill="#e8352d" fill-opacity="0.8"/>
<circle cx="578.20" cy="335.54" r="0.7" fill="#e8352d" fill-opacity="0.8"/>
<circle cx="574.28" cy="340.52" r="0.7" fill="#e8352d" fill-opacity="0.8"/>
<circle cx="579.39" cy="339.90" r="0.7" fill="#e8352d" fill-opacity="0.8"/>
<circle cx="571.85" cy="337.81" r="0.7" fill="#e8352d" fill-opacity="0.8"/>
<circle cx="573.16" cy="337.98" r="0.7" fill="#e8352d" fill-opacity="0.8"/>
<circle cx="572.29" cy="340.68" r="0.7" fill="#e8352d" fill-opacity="0.8"/>
<circle cx="566.90" cy="339.98" r="0.7" fill="#e8352d" fill-opacity="0.8"/>
<circle cx="564.98" cy="339.67" r="0.7" fill="#e8352d" fill-opacity="0.8"/>
<circle cx="572.00" cy="337.72" r="0.7" fill="#e8352d" fill-opacity="0.8"/>
<circle cx="578.00" cy="333.73" r="0.7" fill="#e8352d" fill-opacity="0.8"/>
<circle cx="579.25" cy="336.38" r="0.7" fill="#e8352d" fill-opacity="0.8"/>
<circle cx="569.83" cy="333.32" r="0.7" fill="#e8352d" fill-opacity="0.8"/>
<circle cx="573.28" cy="337.30" r="0.7" fill="#e8352d" fill-opacity="0.8"/>
<circle cx="573.94" cy="336.75" r="0.7" fill="#e8352d" fill-opacity="0.8"/>
<circle cx="576.52" cy="334.57" r="0.7" fill="#e8352d" fill-opacity="0.8"/>
<circle cx="568.67" cy="336.94" r="0.7" fill="#e8352d" fill-opacity="0.8"/>
<circle cx="568.07" cy="338.30" r="0.7" fill="#e8352d" fill-opacity="0.8"/>
<circle cx="572.03" cy="335.19" r="0.7" fill="#e8352d" fill-opacity="0.8"/>
<circle cx="567.98" cy="335.55" r="0.7" fill="#e8352d" fill-opacity="0.8"/>
<circle cx="574.58" cy="338.46" r="0.7" fill="#e8352d" fill-opacity="0.8"/>
<circle cx="578.12" cy="339.16" r="0.7" fill="#e8352d" fill-opacity="0.8"/>
<circle cx="568.22" cy="336.43" r="0.7" fill="#e8352d" fill-opacity="0.8"/>
<circle cx="569.85" cy="340.31" r="0.7" fill="#e8352d" fill-opacity="0.8"/>
<circle cx="566.53" cy="339.36" r="0.7" fill="#e8352d" fill-opacity="0.8"/>
<circle cx="576.36" cy="336.16" r="0.7" fill="#e8352d" fill-opacity="0.8"/>
<circle cx="572.92" cy="338.98" r="0.7" fill="#e8352d" fill-opacity="0.8"/>
<circle cx="575.73" cy="333.31" r="0.7" fill="#e8352d" fill-opacity="0.8"/>
<circle cx="570.25" cy="333.71" r="0.7" fill="#e8352d" fill-opacity="0.8"/>
<circle cx="567.58" cy="340.05" r="0.7" fill="#e8352d" fill-opacity="0.8"/>
<circle cx="578.51" cy="340.46" r="0.7" fill="#e8352d" fill-opacity="0.8"/>
<circle cx="574.43" cy="340.58" r="0.7" fill="#e8352d" fill-opacity="0.8"/>
<circle cx="567.20" cy="338.49" r="0.7" fill="#e8352d" fill-opacity="0.8"/>
<circle cx="579.42" cy="336.74" r="0.7" fill="#e8352d" fill-opacity="0.8"/>
<circle cx="567.00" cy="335.33" r="0.7" fill="#e8352d" fill-opacity="0.8"/>
<circle cx="567.27" cy="335.91" r="0.7" fill="#e8352d" fill-opacity="0.8"/>
<circle cx="569.34" cy="334.63" r="0.7" fill="#e8352d" fill-opacity="0.8"/>
<circle cx="572.09" cy="337.41" r="0.7" fill="#e8352d" fill-opacity="0.8"/>
<circle cx="575.03" cy="337.31" r="0.7" fill="#e8352d" fill-opacity="0.8"/>
<circle cx="567.84" cy="333.80" r="0.7" fill="#e8352d" fill-opacity="0.8"/>
<circle cx="575.01" cy="340.41" r="0.7" fill="#e8352d" fill-opacity="0.8"/>
<circle cx="567.50" cy="335.78" r="0.7" fill="#e8352d" fill-opacity="0.8"/>
<circle cx="569.18" cy="339.38" r="0.7" fill="#e8352d" fill-opacity="0.8"/>
<circle cx="573.55" cy="339.80" r="0.7" fill="#e8352d" fill-opacity="0.8"/>
<circle cx="567.88" cy="340.56" r="0.7" fill="#e8352d" fill-opacity="0.8"/>
<circle cx="575.94" cy="336.32" r="0.7" fill="#e8352d" fill-opacity="0.8"/>
<circle cx="567.54" cy="334.55" r="0.7" fill="#e8352d" fill-opacity="0.8"/>
<circle cx="568.14" cy="333.35" r="0.7" fill="#e8352d" fill-opacity="0.8"/>
<circle cx="575.49" cy="337.09" r="0.7" fill="#e8352d" fill-opacity="0.8"/>
<circle cx="571.31" cy="334.62" r="0.7" fill="#e8352d" fill-opacity="0.8"/>
<circle cx="569.30" cy="333.52" r="0.7" fill="#e8352d" fill-opacity="0.8"/>
<circle cx="573.23" cy="336.08" r="0.7" fill="#e8352d" fill-opacity="0.8"/>
<circle cx="573.30" cy="335.67" r="0.7" fill="#e8352d" fill-opacity="0.8"/>
<circle cx="576.55" cy="337.73" r="0.7" fill="#e8352d" fill-opacity="0.8"/>
<circle cx="572.25" cy="336.79" r="0.7" fill="#e8352d" fill-opacity="0.8"/>
<circle cx="576.92" cy="335.02" r="0.7" fill="#e8352d" fill-opacity="0.8"/>
<circle cx="579.32" cy="334.47" r="0.7" fill="#e8352d" fill-opacity="0.8"/>
<circle cx="577.81" cy="335.45" r="0.7" fill="#e8352d" fill-opacity="0.8"/>
<circle cx="574.54" cy="335.03" r="0.7" fill="#e8352d" fill-opacity="0.8"/>
<circle cx="567.47" cy="340.59" r="0.7" fill="#e8352d" fill-opacity="0.8"/>
<circle cx="566.71" cy="338.56" r="0.7" fill="#e8352d" fill-opacity="0.8"/>
<circle cx="572.49" cy="337.08" r="0.7" fill="#e8352d" fill-opacity="0.8"/>
<circle cx="578.57" cy="333.21" r="0.7" fill="#e8352d" fill-opacity="0.8"/>
<circle cx="568.86" cy="337.68" r="0.7" fill="#e8352d" fill-opacity="0.8"/>
<circle cx="571.28" cy="333.90" r="0.7" fill="#e8352d" fill-opacity="0.8"/>
<circle cx="571.52" cy="338.20" r="0.7" fill="#e8352d" fill-opacity="0.8"/>
<circle cx="571.14" cy="333.86" r="0.7" fill="#e8352d" fill-opacity="0.8"/>
<circle cx="576.94" cy="339.42" r="0.7" fill="#e8352d" fill-opacity="0.8"/>
<circle cx="576.79" cy="337.13" r="0.7" fill="#e8352d" fill-opacity="0.8"/>
<circle cx="572.44" cy="340.58" r="0.7" fill="#e8352d" fill-opacity="0.8"/>
<circle cx="571.53" cy="335.47" r="0.7" fill="#e8352d" fill-opacity="0.8"/>
<text transform="translate(555.60,350.30) scale(0.9166666666666667,1)" text-anchor="end" fill="#333" style="font-size:8.28px;">TNF</text>
<rect x="567.30" y="344.70" width="7.90" height="6.60" fill="#e8352d" fill-opacity="0.8" rx="1.5"/>
<circle cx="576.34" cy="345.63" r="0.7" fill="#e8352d" fill-opacity="0.8"/>
<circle cx="574.42" cy="350.37" r="0.7" fill="#e8352d" fill-opacity="0.8"/>
<circle cx="576.69" cy="350.32" r="0.7" fill="#e8352d" fill-opacity="0.8"/>
<circle cx="574.19" cy="350.35" r="0.7" fill="#e8352d" fill-opacity="0.8"/>
<circle cx="574.24" cy="346.47" r="0.7" fill="#e8352d" fill-opacity="0.8"/>
<circle cx="575.24" cy="344.28" r="0.7" fill="#e8352d" fill-opacity="0.8"/>
<circle cx="569.76" cy="350.28" r="0.7" fill="#e8352d" fill-opacity="0.8"/>
<circle cx="575.15" cy="351.37" r="0.7" fill="#e8352d" fill-opacity="0.8"/>
<circle cx="567.11" cy="349.30" r="0.7" fill="#e8352d" fill-opacity="0.8"/>
<circle cx="575.83" cy="350.90" r="0.7" fill="#e8352d" fill-opacity="0.8"/>
<circle cx="568.27" cy="349.52" r="0.7" fill="#e8352d" fill-opacity="0.8"/>
<circle cx="576.62" cy="345.08" r="0.7" fill="#e8352d" fill-opacity="0.8"/>
<circle cx="567.06" cy="350.87" r="0.7" fill="#e8352d" fill-opacity="0.8"/>
<circle cx="576.87" cy="348.54" r="0.7" fill="#e8352d" fill-opacity="0.8"/>
<circle cx="576.49" cy="347.10" r="0.7" fill="#e8352d" fill-opacity="0.8"/>
<circle cx="566.72" cy="345.36" r="0.7" fill="#e8352d" fill-opacity="0.8"/>
<circle cx="573.12" cy="350.15" r="0.7" fill="#e8352d" fill-opacity="0.8"/>
<circle cx="571.40" cy="346.56" r="0.7" fill="#e8352d" fill-opacity="0.8"/>
<circle cx="568.28" cy="349.15" r="0.7" fill="#e8352d" fill-opacity="0.8"/>
<circle cx="575.45" cy="346.68" r="0.7" fill="#e8352d" fill-opacity="0.8"/>
<circle cx="576.29" cy="351.53" r="0.7" fill="#e8352d" fill-opacity="0.8"/>
<circle cx="575.64" cy="350.14" r="0.7" fill="#e8352d" fill-opacity="0.8"/>
<circle cx="569.15" cy="348.18" r="0.7" fill="#e8352d" fill-opacity="0.8"/>
<circle cx="566.84" cy="350.83" r="0.7" fill="#e8352d" fill-opacity="0.8"/>
<circle cx="570.99" cy="349.91" r="0.7" fill="#e8352d" fill-opacity="0.8"/>
<circle cx="568.39" cy="348.63" r="0.7" fill="#e8352d" fill-opacity="0.8"/>
<circle cx="569.61" cy="344.65" r="0.7" fill="#e8352d" fill-opacity="0.8"/>
<circle cx="569.88" cy="348.21" r="0.7" fill="#e8352d" fill-opacity="0.8"/>
<circle cx="576.41" cy="347.27" r="0.7" fill="#e8352d" fill-opacity="0.8"/>
<circle cx="571.00" cy="351.58" r="0.7" fill="#e8352d" fill-opacity="0.8"/>
<circle cx="570.61" cy="349.45" r="0.7" fill="#e8352d" fill-opacity="0.8"/>
<circle cx="576.64" cy="351.42" r="0.7" fill="#e8352d" fill-opacity="0.8"/>
<circle cx="571.86" cy="351.88" r="0.7" fill="#e8352d" fill-opacity="0.8"/>
<circle cx="568.30" cy="350.08" r="0.7" fill="#e8352d" fill-opacity="0.8"/>
<circle cx="567.93" cy="348.40" r="0.7" fill="#e8352d" fill-opacity="0.8"/>
<circle cx="573.34" cy="349.77" r="0.7" fill="#e8352d" fill-opacity="0.8"/>
<circle cx="573.79" cy="349.15" r="0.7" fill="#e8352d" fill-opacity="0.8"/>
<circle cx="570.84" cy="347.47" r="0.7" fill="#e8352d" fill-opacity="0.8"/>
<circle cx="571.01" cy="351.55" r="0.7" fill="#e8352d" fill-opacity="0.8"/>
<circle cx="566.60" cy="346.20" r="0.7" fill="#e8352d" fill-opacity="0.8"/>
<circle cx="570.66" cy="345.10" r="0.7" fill="#e8352d" fill-opacity="0.8"/>
<circle cx="571.95" cy="349.91" r="0.7" fill="#e8352d" fill-opacity="0.8"/>
<circle cx="572.67" cy="349.41" r="0.7" fill="#e8352d" fill-opacity="0.8"/>
<circle cx="566.94" cy="349.64" r="0.7" fill="#e8352d" fill-opacity="0.8"/>
<circle cx="567.02" cy="347.79" r="0.7" fill="#e8352d" fill-opacity="0.8"/>
<circle cx="567.19" cy="347.15" r="0.7" fill="#e8352d" fill-opacity="0.8"/>
<circle cx="567.50" cy="351.54" r="0.7" fill="#e8352d" fill-opacity="0.8"/>
<circle cx="572.38" cy="346.56" r="0.7" fill="#e8352d" fill-opacity="0.8"/>
<circle cx="569.21" cy="345.82" r="0.7" fill="#e8352d" fill-opacity="0.8"/>
<circle cx="576.41" cy="347.21" r="0.7" fill="#e8352d" fill-opacity="0.8"/>
<circle cx="574.66" cy="349.62" r="0.7" fill="#e8352d" fill-opacity="0.8"/>
<circle cx="569.98" cy="347.51" r="0.7" fill="#e8352d" fill-opacity="0.8"/>
<circle cx="569.50" cy="348.97" r="0.7" fill="#e8352d" fill-opacity="0.8"/>
<circle cx="569.39" cy="350.13" r="0.7" fill="#e8352d" fill-opacity="0.8"/>
<circle cx="571.00" cy="350.96" r="0.7" fill="#e8352d" fill-opacity="0.8"/>
<circle cx="570.07" cy="351.10" r="0.7" fill="#e8352d" fill-opacity="0.8"/>
<circle cx="576.40" cy="349.34" r="0.7" fill="#e8352d" fill-opacity="0.8"/>
<circle cx="569.31" cy="349.75" r="0.7" fill="#e8352d" fill-opacity="0.8"/>
<circle cx="576.67" cy="347.49" r="0.7" fill="#e8352d" fill-opacity="0.8"/>
<circle cx="568.65" cy="350.11" r="0.7" fill="#e8352d" fill-opacity="0.8"/>
<circle cx="575.81" cy="346.77" r="0.7" fill="#e8352d" fill-opacity="0.8"/>
<circle cx="566.66" cy="347.35" r="0.7" fill="#e8352d" fill-opacity="0.8"/>
<circle cx="572.67" cy="345.82" r="0.7" fill="#e8352d" fill-opacity="0.8"/>
<circle cx="575.94" cy="345.63" r="0.7" fill="#e8352d" fill-opacity="0.8"/>
<circle cx="572.33" cy="350.51" r="0.7" fill="#e8352d" fill-opacity="0.8"/>
<circle cx="572.41" cy="349.65" r="0.7" fill="#e8352d" fill-opacity="0.8"/>
<circle cx="576.58" cy="346.06" r="0.7" fill="#e8352d" fill-opacity="0.8"/>
<circle cx="571.83" cy="348.35" r="0.7" fill="#e8352d" fill-opacity="0.8"/>
<circle cx="574.54" cy="346.63" r="0.7" fill="#e8352d" fill-opacity="0.8"/>
<circle cx="575.53" cy="346.24" r="0.7" fill="#e8352d" fill-opacity="0.8"/>
<circle cx="571.52" cy="347.96" r="0.7" fill="#e8352d" fill-opacity="0.8"/>
<circle cx="572.44" cy="351.07" r="0.7" fill="#e8352d" fill-opacity="0.8"/>
<circle cx="569.25" cy="350.39" r="0.7" fill="#e8352d" fill-opacity="0.8"/>
<circle cx="567.88" cy="348.83" r="0.7" fill="#e8352d" fill-opacity="0.8"/>
<circle cx="571.53" cy="351.83" r="0.7" fill="#e8352d" fill-opacity="0.8"/>
<circle cx="575.56" cy="346.85" r="0.7" fill="#e8352d" fill-opacity="0.8"/>
<circle cx="569.16" cy="349.50" r="0.7" fill="#e8352d" fill-opacity="0.8"/>
<circle cx="574.37" cy="347.07" r="0.7" fill="#e8352d" fill-opacity="0.8"/>
<circle cx="569.90" cy="348.29" r="0.7" fill="#e8352d" fill-opacity="0.8"/>
<circle cx="570.06" cy="349.23" r="0.7" fill="#e8352d" fill-opacity="0.8"/>
<circle cx="569.46" cy="350.91" r="0.7" fill="#e8352d" fill-opacity="0.8"/>
<circle cx="567.79" cy="345.02" r="0.7" fill="#e8352d" fill-opacity="0.8"/>
<circle cx="574.04" cy="349.86" r="0.7" fill="#e8352d" fill-opacity="0.8"/>
<circle cx="571.15" cy="349.52" r="0.7" fill="#e8352d" fill-opacity="0.8"/>
<circle cx="574.28" cy="350.80" r="0.7" fill="#e8352d" fill-opacity="0.8"/>
<circle cx="573.18" cy="349.55" r="0.7" fill="#e8352d" fill-opacity="0.8"/>
<circle cx="574.85" cy="345.80" r="0.7" fill="#e8352d" fill-opacity="0.8"/>
<circle cx="569.48" cy="347.55" r="0.7" fill="#e8352d" fill-opacity="0.8"/>
<circle cx="576.61" cy="351.80" r="0.7" fill="#e8352d" fill-opacity="0.8"/>
<circle cx="568.62" cy="348.93" r="0.7" fill="#e8352d" fill-opacity="0.8"/>
<circle cx="575.66" cy="346.76" r="0.7" fill="#e8352d" fill-opacity="0.8"/>
<circle cx="570.60" cy="350.56" r="0.7" fill="#e8352d" fill-opacity="0.8"/>
<circle cx="576.17" cy="346.87" r="0.7" fill="#e8352d" fill-opacity="0.8"/>
<circle cx="568.55" cy="350.99" r="0.7" fill="#e8352d" fill-opacity="0.8"/>
<circle cx="569.88" cy="345.88" r="0.7" fill="#e8352d" fill-opacity="0.8"/>
<circle cx="566.95" cy="349.53" r="0.7" fill="#e8352d" fill-opacity="0.8"/>
<circle cx="574.49" cy="348.34" r="0.7" fill="#e8352d" fill-opacity="0.8"/>
<circle cx="567.40" cy="344.45" r="0.7" fill="#e8352d" fill-opacity="0.8"/>
<circle cx="575.85" cy="348.78" r="0.7" fill="#e8352d" fill-opacity="0.8"/>
<circle cx="566.94" cy="344.26" r="0.7" fill="#e8352d" fill-opacity="0.8"/>
<circle cx="568.18" cy="346.23" r="0.7" fill="#e8352d" fill-opacity="0.8"/>
<circle cx="573.11" cy="346.61" r="0.7" fill="#e8352d" fill-opacity="0.8"/>
<circle cx="569.25" cy="348.48" r="0.7" fill="#e8352d" fill-opacity="0.8"/>
<circle cx="569.92" cy="346.04" r="0.7" fill="#e8352d" fill-opacity="0.8"/>
<circle cx="568.98" cy="344.23" r="0.7" fill="#e8352d" fill-opacity="0.8"/>
<circle cx="572.12" cy="346.20" r="0.7" fill="#e8352d" fill-opacity="0.8"/>
<circle cx="574.54" cy="347.76" r="0.7" fill="#e8352d" fill-opacity="0.8"/>
<circle cx="569.46" cy="351.02" r="0.7" fill="#e8352d" fill-opacity="0.8"/>
<circle cx="576.66" cy="349.50" r="0.7" fill="#e8352d" fill-opacity="0.8"/>
<circle cx="570.43" cy="347.14" r="0.7" fill="#e8352d" fill-opacity="0.8"/>
<circle cx="570.95" cy="348.23" r="0.7" fill="#e8352d" fill-opacity="0.8"/>
<circle cx="573.99" cy="351.06" r="0.7" fill="#e8352d" fill-opacity="0.8"/>
<circle cx="566.71" cy="346.45" r="0.7" fill="#e8352d" fill-opacity="0.8"/>
<circle cx="574.07" cy="348.94" r="0.7" fill="#e8352d" fill-opacity="0.8"/>
<circle cx="568.32" cy="350.88" r="0.7" fill="#e8352d" fill-opacity="0.8"/>
<circle cx="576.69" cy="349.91" r="0.7" fill="#e8352d" fill-opacity="0.8"/>
<circle cx="570.28" cy="348.41" r="0.7" fill="#e8352d" fill-opacity="0.8"/>
<circle cx="576.92" cy="350.62" r="0.7" fill="#e8352d" fill-opacity="0.8"/>
<circle cx="568.85" cy="351.67" r="0.7" fill="#e8352d" fill-opacity="0.8"/>
<circle cx="571.39" cy="346.52" r="0.7" fill="#e8352d" fill-opacity="0.8"/>
<circle cx="576.99" cy="344.69" r="0.7" fill="#e8352d" fill-opacity="0.8"/>
<circle cx="567.46" cy="347.14" r="0.7" fill="#e8352d" fill-opacity="0.8"/>
<circle cx="567.55" cy="348.49" r="0.7" fill="#e8352d" fill-opacity="0.8"/>
<circle cx="574.34" cy="348.72" r="0.7" fill="#e8352d" fill-opacity="0.8"/>
<circle cx="568.15" cy="347.72" r="0.7" fill="#e8352d" fill-opacity="0.8"/>
<circle cx="576.22" cy="347.59" r="0.7" fill="#e8352d" fill-opacity="0.8"/>
<circle cx="569.70" cy="348.61" r="0.7" fill="#e8352d" fill-opacity="0.8"/>
<circle cx="566.67" cy="345.82" r="0.7" fill="#e8352d" fill-opacity="0.8"/>
<circle cx="568.54" cy="344.67" r="0.7" fill="#e8352d" fill-opacity="0.8"/>
<circle cx="576.53" cy="348.46" r="0.7" fill="#e8352d" fill-opacity="0.8"/>
<text transform="translate(555.60,361.20) scale(0.9166666666666667,1)" text-anchor="end" fill="#333" style="font-size:8.28px;">Albumin</text>
<rect x="566.30" y="355.60" width="9.90" height="6.60" fill="#2c4f9c" fill-opacity="0.8" rx="1.5"/>
<circle cx="572.82" cy="357.05" r="0.7" fill="#2c4f9c" fill-opacity="0.8"/>
<circle cx="577.76" cy="355.45" r="0.7" fill="#2c4f9c" fill-opacity="0.8"/>
<circle cx="574.68" cy="356.10" r="0.7" fill="#2c4f9c" fill-opacity="0.8"/>
<circle cx="565.84" cy="356.28" r="0.7" fill="#2c4f9c" fill-opacity="0.8"/>
<circle cx="576.52" cy="357.51" r="0.7" fill="#2c4f9c" fill-opacity="0.8"/>
<circle cx="575.02" cy="356.44" r="0.7" fill="#2c4f9c" fill-opacity="0.8"/>
<circle cx="572.57" cy="362.30" r="0.7" fill="#2c4f9c" fill-opacity="0.8"/>
<circle cx="571.98" cy="357.99" r="0.7" fill="#2c4f9c" fill-opacity="0.8"/>
<circle cx="574.18" cy="356.45" r="0.7" fill="#2c4f9c" fill-opacity="0.8"/>
<circle cx="576.64" cy="356.87" r="0.7" fill="#2c4f9c" fill-opacity="0.8"/>
<circle cx="576.05" cy="360.26" r="0.7" fill="#2c4f9c" fill-opacity="0.8"/>
<circle cx="567.64" cy="356.85" r="0.7" fill="#2c4f9c" fill-opacity="0.8"/>
<circle cx="575.21" cy="360.46" r="0.7" fill="#2c4f9c" fill-opacity="0.8"/>
<circle cx="577.63" cy="357.99" r="0.7" fill="#2c4f9c" fill-opacity="0.8"/>
<circle cx="571.17" cy="355.46" r="0.7" fill="#2c4f9c" fill-opacity="0.8"/>
<circle cx="569.92" cy="359.14" r="0.7" fill="#2c4f9c" fill-opacity="0.8"/>
<circle cx="565.82" cy="362.67" r="0.7" fill="#2c4f9c" fill-opacity="0.8"/>
<circle cx="569.30" cy="356.16" r="0.7" fill="#2c4f9c" fill-opacity="0.8"/>
<circle cx="576.02" cy="356.41" r="0.7" fill="#2c4f9c" fill-opacity="0.8"/>
<circle cx="571.25" cy="360.97" r="0.7" fill="#2c4f9c" fill-opacity="0.8"/>
<circle cx="568.25" cy="356.48" r="0.7" fill="#2c4f9c" fill-opacity="0.8"/>
<circle cx="566.40" cy="361.74" r="0.7" fill="#2c4f9c" fill-opacity="0.8"/>
<circle cx="567.68" cy="358.65" r="0.7" fill="#2c4f9c" fill-opacity="0.8"/>
<circle cx="577.75" cy="360.94" r="0.7" fill="#2c4f9c" fill-opacity="0.8"/>
<circle cx="566.09" cy="361.44" r="0.7" fill="#2c4f9c" fill-opacity="0.8"/>
<circle cx="567.37" cy="355.29" r="0.7" fill="#2c4f9c" fill-opacity="0.8"/>
<circle cx="575.58" cy="357.97" r="0.7" fill="#2c4f9c" fill-opacity="0.8"/>
<circle cx="566.04" cy="361.60" r="0.7" fill="#2c4f9c" fill-opacity="0.8"/>
<circle cx="576.04" cy="355.29" r="0.7" fill="#2c4f9c" fill-opacity="0.8"/>
<circle cx="568.80" cy="356.49" r="0.7" fill="#2c4f9c" fill-opacity="0.8"/>
<circle cx="567.81" cy="359.99" r="0.7" fill="#2c4f9c" fill-opacity="0.8"/>
<circle cx="567.44" cy="359.18" r="0.7" fill="#2c4f9c" fill-opacity="0.8"/>
<circle cx="567.22" cy="359.43" r="0.7" fill="#2c4f9c" fill-opacity="0.8"/>
<circle cx="569.96" cy="358.70" r="0.7" fill="#2c4f9c" fill-opacity="0.8"/>
<circle cx="572.57" cy="356.51" r="0.7" fill="#2c4f9c" fill-opacity="0.8"/>
<circle cx="565.61" cy="361.92" r="0.7" fill="#2c4f9c" fill-opacity="0.8"/>
<circle cx="570.01" cy="359.23" r="0.7" fill="#2c4f9c" fill-opacity="0.8"/>
<circle cx="569.74" cy="360.52" r="0.7" fill="#2c4f9c" fill-opacity="0.8"/>
<circle cx="573.63" cy="362.08" r="0.7" fill="#2c4f9c" fill-opacity="0.8"/>
<circle cx="568.77" cy="357.28" r="0.7" fill="#2c4f9c" fill-opacity="0.8"/>
<circle cx="577.70" cy="362.21" r="0.7" fill="#2c4f9c" fill-opacity="0.8"/>
<circle cx="570.02" cy="361.65" r="0.7" fill="#2c4f9c" fill-opacity="0.8"/>
<circle cx="577.73" cy="360.78" r="0.7" fill="#2c4f9c" fill-opacity="0.8"/>
<circle cx="572.71" cy="362.48" r="0.7" fill="#2c4f9c" fill-opacity="0.8"/>
<circle cx="577.89" cy="362.79" r="0.7" fill="#2c4f9c" fill-opacity="0.8"/>
<circle cx="577.96" cy="356.12" r="0.7" fill="#2c4f9c" fill-opacity="0.8"/>
<circle cx="571.99" cy="356.03" r="0.7" fill="#2c4f9c" fill-opacity="0.8"/>
<circle cx="573.03" cy="357.18" r="0.7" fill="#2c4f9c" fill-opacity="0.8"/>
<circle cx="572.48" cy="356.49" r="0.7" fill="#2c4f9c" fill-opacity="0.8"/>
<circle cx="575.36" cy="362.70" r="0.7" fill="#2c4f9c" fill-opacity="0.8"/>
<circle cx="569.70" cy="360.41" r="0.7" fill="#2c4f9c" fill-opacity="0.8"/>
<circle cx="575.26" cy="356.55" r="0.7" fill="#2c4f9c" fill-opacity="0.8"/>
<circle cx="569.40" cy="355.01" r="0.7" fill="#2c4f9c" fill-opacity="0.8"/>
<circle cx="565.52" cy="357.56" r="0.7" fill="#2c4f9c" fill-opacity="0.8"/>
<circle cx="576.90" cy="359.97" r="0.7" fill="#2c4f9c" fill-opacity="0.8"/>
<circle cx="573.73" cy="356.81" r="0.7" fill="#2c4f9c" fill-opacity="0.8"/>
<circle cx="573.81" cy="361.68" r="0.7" fill="#2c4f9c" fill-opacity="0.8"/>
<circle cx="568.86" cy="358.10" r="0.7" fill="#2c4f9c" fill-opacity="0.8"/>
<circle cx="574.03" cy="358.61" r="0.7" fill="#2c4f9c" fill-opacity="0.8"/>
<circle cx="567.25" cy="361.11" r="0.7" fill="#2c4f9c" fill-opacity="0.8"/>
<circle cx="572.86" cy="356.26" r="0.7" fill="#2c4f9c" fill-opacity="0.8"/>
<circle cx="570.26" cy="356.43" r="0.7" fill="#2c4f9c" fill-opacity="0.8"/>
<circle cx="572.08" cy="360.26" r="0.7" fill="#2c4f9c" fill-opacity="0.8"/>
<circle cx="565.92" cy="355.28" r="0.7" fill="#2c4f9c" fill-opacity="0.8"/>
<circle cx="574.98" cy="360.33" r="0.7" fill="#2c4f9c" fill-opacity="0.8"/>
<circle cx="575.35" cy="357.90" r="0.7" fill="#2c4f9c" fill-opacity="0.8"/>
<circle cx="572.88" cy="355.20" r="0.7" fill="#2c4f9c" fill-opacity="0.8"/>
<circle cx="565.84" cy="356.26" r="0.7" fill="#2c4f9c" fill-opacity="0.8"/>
<circle cx="571.61" cy="356.00" r="0.7" fill="#2c4f9c" fill-opacity="0.8"/>
<circle cx="574.98" cy="357.69" r="0.7" fill="#2c4f9c" fill-opacity="0.8"/>
<circle cx="573.22" cy="360.68" r="0.7" fill="#2c4f9c" fill-opacity="0.8"/>
<circle cx="577.58" cy="361.73" r="0.7" fill="#2c4f9c" fill-opacity="0.8"/>
<circle cx="576.71" cy="357.24" r="0.7" fill="#2c4f9c" fill-opacity="0.8"/>
<circle cx="577.47" cy="355.08" r="0.7" fill="#2c4f9c" fill-opacity="0.8"/>
<circle cx="568.53" cy="359.69" r="0.7" fill="#2c4f9c" fill-opacity="0.8"/>
<circle cx="571.37" cy="355.46" r="0.7" fill="#2c4f9c" fill-opacity="0.8"/>
<circle cx="572.48" cy="360.32" r="0.7" fill="#2c4f9c" fill-opacity="0.8"/>
<circle cx="577.29" cy="358.55" r="0.7" fill="#2c4f9c" fill-opacity="0.8"/>
<circle cx="574.75" cy="358.08" r="0.7" fill="#2c4f9c" fill-opacity="0.8"/>
<circle cx="569.93" cy="358.74" r="0.7" fill="#2c4f9c" fill-opacity="0.8"/>
<circle cx="577.00" cy="355.36" r="0.7" fill="#2c4f9c" fill-opacity="0.8"/>
<circle cx="566.41" cy="360.29" r="0.7" fill="#2c4f9c" fill-opacity="0.8"/>
<circle cx="567.22" cy="358.30" r="0.7" fill="#2c4f9c" fill-opacity="0.8"/>
<circle cx="574.28" cy="358.47" r="0.7" fill="#2c4f9c" fill-opacity="0.8"/>
<circle cx="569.73" cy="361.93" r="0.7" fill="#2c4f9c" fill-opacity="0.8"/>
<circle cx="565.63" cy="361.91" r="0.7" fill="#2c4f9c" fill-opacity="0.8"/>
<circle cx="567.02" cy="356.06" r="0.7" fill="#2c4f9c" fill-opacity="0.8"/>
<circle cx="577.06" cy="360.27" r="0.7" fill="#2c4f9c" fill-opacity="0.8"/>
<circle cx="570.63" cy="359.72" r="0.7" fill="#2c4f9c" fill-opacity="0.8"/>
<circle cx="576.26" cy="357.61" r="0.7" fill="#2c4f9c" fill-opacity="0.8"/>
<circle cx="574.47" cy="355.85" r="0.7" fill="#2c4f9c" fill-opacity="0.8"/>
<circle cx="573.00" cy="358.67" r="0.7" fill="#2c4f9c" fill-opacity="0.8"/>
<circle cx="577.21" cy="355.35" r="0.7" fill="#2c4f9c" fill-opacity="0.8"/>
<circle cx="570.91" cy="357.35" r="0.7" fill="#2c4f9c" fill-opacity="0.8"/>
<circle cx="573.22" cy="355.57" r="0.7" fill="#2c4f9c" fill-opacity="0.8"/>
<circle cx="577.62" cy="357.50" r="0.7" fill="#2c4f9c" fill-opacity="0.8"/>
<circle cx="575.89" cy="361.20" r="0.7" fill="#2c4f9c" fill-opacity="0.8"/>
<circle cx="571.30" cy="356.09" r="0.7" fill="#2c4f9c" fill-opacity="0.8"/>
<circle cx="576.43" cy="361.75" r="0.7" fill="#2c4f9c" fill-opacity="0.8"/>
<circle cx="571.85" cy="357.48" r="0.7" fill="#2c4f9c" fill-opacity="0.8"/>
<circle cx="574.05" cy="360.92" r="0.7" fill="#2c4f9c" fill-opacity="0.8"/>
<circle cx="570.33" cy="360.43" r="0.7" fill="#2c4f9c" fill-opacity="0.8"/>
<circle cx="570.83" cy="355.92" r="0.7" fill="#2c4f9c" fill-opacity="0.8"/>
<circle cx="567.45" cy="361.45" r="0.7" fill="#2c4f9c" fill-opacity="0.8"/>
<circle cx="572.91" cy="357.84" r="0.7" fill="#2c4f9c" fill-opacity="0.8"/>
<circle cx="567.52" cy="362.60" r="0.7" fill="#2c4f9c" fill-opacity="0.8"/>
<circle cx="566.98" cy="360.48" r="0.7" fill="#2c4f9c" fill-opacity="0.8"/>
<circle cx="572.55" cy="361.01" r="0.7" fill="#2c4f9c" fill-opacity="0.8"/>
<circle cx="575.58" cy="362.56" r="0.7" fill="#2c4f9c" fill-opacity="0.8"/>
<circle cx="572.96" cy="357.92" r="0.7" fill="#2c4f9c" fill-opacity="0.8"/>
<circle cx="569.71" cy="360.05" r="0.7" fill="#2c4f9c" fill-opacity="0.8"/>
<circle cx="569.55" cy="361.60" r="0.7" fill="#2c4f9c" fill-opacity="0.8"/>
<circle cx="577.84" cy="358.01" r="0.7" fill="#2c4f9c" fill-opacity="0.8"/>
<circle cx="568.39" cy="357.46" r="0.7" fill="#2c4f9c" fill-opacity="0.8"/>
<circle cx="574.68" cy="362.19" r="0.7" fill="#2c4f9c" fill-opacity="0.8"/>
<circle cx="569.85" cy="355.91" r="0.7" fill="#2c4f9c" fill-opacity="0.8"/>
<circle cx="572.84" cy="361.96" r="0.7" fill="#2c4f9c" fill-opacity="0.8"/>
<circle cx="568.43" cy="360.92" r="0.7" fill="#2c4f9c" fill-opacity="0.8"/>
<circle cx="575.59" cy="357.75" r="0.7" fill="#2c4f9c" fill-opacity="0.8"/>
<circle cx="567.82" cy="357.27" r="0.7" fill="#2c4f9c" fill-opacity="0.8"/>
<circle cx="568.70" cy="360.69" r="0.7" fill="#2c4f9c" fill-opacity="0.8"/>
<circle cx="572.85" cy="361.26" r="0.7" fill="#2c4f9c" fill-opacity="0.8"/>
<circle cx="567.70" cy="355.94" r="0.7" fill="#2c4f9c" fill-opacity="0.8"/>
<circle cx="574.61" cy="359.70" r="0.7" fill="#2c4f9c" fill-opacity="0.8"/>
<circle cx="570.71" cy="359.67" r="0.7" fill="#2c4f9c" fill-opacity="0.8"/>
<circle cx="565.90" cy="358.28" r="0.7" fill="#2c4f9c" fill-opacity="0.8"/>
<circle cx="576.68" cy="357.81" r="0.7" fill="#2c4f9c" fill-opacity="0.8"/>
<circle cx="577.57" cy="355.98" r="0.7" fill="#2c4f9c" fill-opacity="0.8"/>
<circle cx="572.07" cy="355.76" r="0.7" fill="#2c4f9c" fill-opacity="0.8"/>
<circle cx="570.22" cy="356.22" r="0.7" fill="#2c4f9c" fill-opacity="0.8"/>
<text transform="translate(555.60,372.10) scale(0.9166666666666667,1)" text-anchor="end" fill="#333" style="font-size:8.28px;">Ferritin</text>
<rect x="565.60" y="366.50" width="7.10" height="6.60" fill="#e8352d" fill-opacity="0.8" rx="1.5"/>
<circle cx="574.40" cy="373.36" r="0.7" fill="#e8352d" fill-opacity="0.8"/>
<circle cx="573.97" cy="371.97" r="0.7" fill="#e8352d" fill-opacity="0.8"/>
<circle cx="566.17" cy="370.03" r="0.7" fill="#e8352d" fill-opacity="0.8"/>
<circle cx="569.28" cy="371.46" r="0.7" fill="#e8352d" fill-opacity="0.8"/>
<circle cx="569.76" cy="372.05" r="0.7" fill="#e8352d" fill-opacity="0.8"/>
<circle cx="565.52" cy="366.27" r="0.7" fill="#e8352d" fill-opacity="0.8"/>
<circle cx="573.14" cy="368.31" r="0.7" fill="#e8352d" fill-opacity="0.8"/>
<circle cx="568.85" cy="370.30" r="0.7" fill="#e8352d" fill-opacity="0.8"/>
<circle cx="571.57" cy="368.49" r="0.7" fill="#e8352d" fill-opacity="0.8"/>
<circle cx="573.50" cy="370.17" r="0.7" fill="#e8352d" fill-opacity="0.8"/>
<circle cx="572.49" cy="366.44" r="0.7" fill="#e8352d" fill-opacity="0.8"/>
<circle cx="571.49" cy="370.51" r="0.7" fill="#e8352d" fill-opacity="0.8"/>
<circle cx="568.39" cy="369.96" r="0.7" fill="#e8352d" fill-opacity="0.8"/>
<circle cx="568.82" cy="367.91" r="0.7" fill="#e8352d" fill-opacity="0.8"/>
<circle cx="565.73" cy="366.97" r="0.7" fill="#e8352d" fill-opacity="0.8"/>
<circle cx="569.44" cy="370.44" r="0.7" fill="#e8352d" fill-opacity="0.8"/>
<circle cx="573.39" cy="372.42" r="0.7" fill="#e8352d" fill-opacity="0.8"/>
<circle cx="566.18" cy="372.34" r="0.7" fill="#e8352d" fill-opacity="0.8"/>
<circle cx="571.94" cy="372.28" r="0.7" fill="#e8352d" fill-opacity="0.8"/>
<circle cx="565.27" cy="367.18" r="0.7" fill="#e8352d" fill-opacity="0.8"/>
<circle cx="572.63" cy="373.00" r="0.7" fill="#e8352d" fill-opacity="0.8"/>
<circle cx="565.91" cy="368.65" r="0.7" fill="#e8352d" fill-opacity="0.8"/>
<circle cx="570.44" cy="371.52" r="0.7" fill="#e8352d" fill-opacity="0.8"/>
<circle cx="568.80" cy="369.55" r="0.7" fill="#e8352d" fill-opacity="0.8"/>
<circle cx="568.76" cy="371.25" r="0.7" fill="#e8352d" fill-opacity="0.8"/>
<circle cx="567.64" cy="370.32" r="0.7" fill="#e8352d" fill-opacity="0.8"/>
<circle cx="565.19" cy="368.92" r="0.7" fill="#e8352d" fill-opacity="0.8"/>
<circle cx="565.08" cy="366.52" r="0.7" fill="#e8352d" fill-opacity="0.8"/>
<circle cx="573.00" cy="372.43" r="0.7" fill="#e8352d" fill-opacity="0.8"/>
<circle cx="567.56" cy="368.78" r="0.7" fill="#e8352d" fill-opacity="0.8"/>
<circle cx="565.99" cy="370.50" r="0.7" fill="#e8352d" fill-opacity="0.8"/>
<circle cx="565.85" cy="366.72" r="0.7" fill="#e8352d" fill-opacity="0.8"/>
<circle cx="571.46" cy="367.70" r="0.7" fill="#e8352d" fill-opacity="0.8"/>
<circle cx="571.68" cy="366.55" r="0.7" fill="#e8352d" fill-opacity="0.8"/>
<circle cx="567.54" cy="371.90" r="0.7" fill="#e8352d" fill-opacity="0.8"/>
<circle cx="567.43" cy="369.42" r="0.7" fill="#e8352d" fill-opacity="0.8"/>
<circle cx="568.90" cy="372.09" r="0.7" fill="#e8352d" fill-opacity="0.8"/>
<circle cx="571.85" cy="373.08" r="0.7" fill="#e8352d" fill-opacity="0.8"/>
<circle cx="573.14" cy="373.22" r="0.7" fill="#e8352d" fill-opacity="0.8"/>
<circle cx="573.43" cy="367.46" r="0.7" fill="#e8352d" fill-opacity="0.8"/>
<circle cx="567.18" cy="369.35" r="0.7" fill="#e8352d" fill-opacity="0.8"/>
<circle cx="573.70" cy="372.90" r="0.7" fill="#e8352d" fill-opacity="0.8"/>
<circle cx="573.55" cy="368.13" r="0.7" fill="#e8352d" fill-opacity="0.8"/>
<circle cx="568.44" cy="373.25" r="0.7" fill="#e8352d" fill-opacity="0.8"/>
<circle cx="571.93" cy="366.46" r="0.7" fill="#e8352d" fill-opacity="0.8"/>
<circle cx="571.16" cy="368.56" r="0.7" fill="#e8352d" fill-opacity="0.8"/>
<circle cx="565.35" cy="366.30" r="0.7" fill="#e8352d" fill-opacity="0.8"/>
<circle cx="569.55" cy="369.02" r="0.7" fill="#e8352d" fill-opacity="0.8"/>
<circle cx="567.33" cy="366.03" r="0.7" fill="#e8352d" fill-opacity="0.8"/>
<circle cx="567.72" cy="369.73" r="0.7" fill="#e8352d" fill-opacity="0.8"/>
<circle cx="567.15" cy="366.30" r="0.7" fill="#e8352d" fill-opacity="0.8"/>
<circle cx="567.39" cy="366.80" r="0.7" fill="#e8352d" fill-opacity="0.8"/>
<circle cx="568.98" cy="366.05" r="0.7" fill="#e8352d" fill-opacity="0.8"/>
<circle cx="568.66" cy="370.00" r="0.7" fill="#e8352d" fill-opacity="0.8"/>
<circle cx="565.68" cy="372.03" r="0.7" fill="#e8352d" fill-opacity="0.8"/>
<circle cx="569.09" cy="368.58" r="0.7" fill="#e8352d" fill-opacity="0.8"/>
<circle cx="574.29" cy="372.42" r="0.7" fill="#e8352d" fill-opacity="0.8"/>
<circle cx="574.17" cy="369.50" r="0.7" fill="#e8352d" fill-opacity="0.8"/>
<circle cx="569.84" cy="370.00" r="0.7" fill="#e8352d" fill-opacity="0.8"/>
<circle cx="573.55" cy="371.77" r="0.7" fill="#e8352d" fill-opacity="0.8"/>
<circle cx="570.01" cy="372.98" r="0.7" fill="#e8352d" fill-opacity="0.8"/>
<circle cx="568.93" cy="368.83" r="0.7" fill="#e8352d" fill-opacity="0.8"/>
<circle cx="569.91" cy="367.03" r="0.7" fill="#e8352d" fill-opacity="0.8"/>
<circle cx="571.72" cy="368.29" r="0.7" fill="#e8352d" fill-opacity="0.8"/>
<circle cx="566.36" cy="371.62" r="0.7" fill="#e8352d" fill-opacity="0.8"/>
<circle cx="573.78" cy="366.53" r="0.7" fill="#e8352d" fill-opacity="0.8"/>
<circle cx="571.16" cy="366.37" r="0.7" fill="#e8352d" fill-opacity="0.8"/>
<circle cx="573.53" cy="369.64" r="0.7" fill="#e8352d" fill-opacity="0.8"/>
<circle cx="565.71" cy="372.81" r="0.7" fill="#e8352d" fill-opacity="0.8"/>
<circle cx="568.68" cy="368.03" r="0.7" fill="#e8352d" fill-opacity="0.8"/>
<circle cx="565.76" cy="368.50" r="0.7" fill="#e8352d" fill-opacity="0.8"/>
<circle cx="568.91" cy="369.29" r="0.7" fill="#e8352d" fill-opacity="0.8"/>
<circle cx="572.98" cy="373.17" r="0.7" fill="#e8352d" fill-opacity="0.8"/>
<circle cx="573.73" cy="367.81" r="0.7" fill="#e8352d" fill-opacity="0.8"/>
<circle cx="570.40" cy="370.63" r="0.7" fill="#e8352d" fill-opacity="0.8"/>
<circle cx="573.43" cy="368.34" r="0.7" fill="#e8352d" fill-opacity="0.8"/>
<circle cx="565.59" cy="367.53" r="0.7" fill="#e8352d" fill-opacity="0.8"/>
<circle cx="572.11" cy="366.23" r="0.7" fill="#e8352d" fill-opacity="0.8"/>
<circle cx="566.91" cy="372.04" r="0.7" fill="#e8352d" fill-opacity="0.8"/>
<circle cx="565.08" cy="373.44" r="0.7" fill="#e8352d" fill-opacity="0.8"/>
<circle cx="573.97" cy="371.73" r="0.7" fill="#e8352d" fill-opacity="0.8"/>
<circle cx="573.77" cy="370.00" r="0.7" fill="#e8352d" fill-opacity="0.8"/>
<circle cx="567.62" cy="370.89" r="0.7" fill="#e8352d" fill-opacity="0.8"/>
<circle cx="573.25" cy="367.55" r="0.7" fill="#e8352d" fill-opacity="0.8"/>
<circle cx="573.15" cy="373.31" r="0.7" fill="#e8352d" fill-opacity="0.8"/>
<circle cx="574.35" cy="372.30" r="0.7" fill="#e8352d" fill-opacity="0.8"/>
<circle cx="565.45" cy="371.61" r="0.7" fill="#e8352d" fill-opacity="0.8"/>
<circle cx="573.54" cy="366.38" r="0.7" fill="#e8352d" fill-opacity="0.8"/>
<circle cx="569.04" cy="372.87" r="0.7" fill="#e8352d" fill-opacity="0.8"/>
<circle cx="571.09" cy="371.09" r="0.7" fill="#e8352d" fill-opacity="0.8"/>
<circle cx="568.00" cy="370.89" r="0.7" fill="#e8352d" fill-opacity="0.8"/>
<circle cx="572.63" cy="371.54" r="0.7" fill="#e8352d" fill-opacity="0.8"/>
<circle cx="566.15" cy="369.42" r="0.7" fill="#e8352d" fill-opacity="0.8"/>
<circle cx="569.57" cy="366.75" r="0.7" fill="#e8352d" fill-opacity="0.8"/>
<circle cx="568.26" cy="367.81" r="0.7" fill="#e8352d" fill-opacity="0.8"/>
<circle cx="566.73" cy="369.14" r="0.7" fill="#e8352d" fill-opacity="0.8"/>
<circle cx="572.74" cy="371.18" r="0.7" fill="#e8352d" fill-opacity="0.8"/>
<circle cx="572.35" cy="370.65" r="0.7" fill="#e8352d" fill-opacity="0.8"/>
<circle cx="570.14" cy="368.66" r="0.7" fill="#e8352d" fill-opacity="0.8"/>
<circle cx="565.42" cy="371.08" r="0.7" fill="#e8352d" fill-opacity="0.8"/>
<circle cx="570.73" cy="373.01" r="0.7" fill="#e8352d" fill-opacity="0.8"/>
<circle cx="570.07" cy="372.20" r="0.7" fill="#e8352d" fill-opacity="0.8"/>
<circle cx="574.49" cy="369.48" r="0.7" fill="#e8352d" fill-opacity="0.8"/>
<circle cx="570.14" cy="370.88" r="0.7" fill="#e8352d" fill-opacity="0.8"/>
<circle cx="573.86" cy="365.94" r="0.7" fill="#e8352d" fill-opacity="0.8"/>
<circle cx="574.49" cy="370.53" r="0.7" fill="#e8352d" fill-opacity="0.8"/>
<circle cx="574.49" cy="369.51" r="0.7" fill="#e8352d" fill-opacity="0.8"/>
<circle cx="564.12" cy="368.44" r="0.7" fill="#e8352d" fill-opacity="0.8"/>
<circle cx="573.43" cy="368.98" r="0.7" fill="#e8352d" fill-opacity="0.8"/>
<circle cx="570.81" cy="366.66" r="0.7" fill="#e8352d" fill-opacity="0.8"/>
<circle cx="568.24" cy="366.87" r="0.7" fill="#e8352d" fill-opacity="0.8"/>
<circle cx="568.48" cy="372.16" r="0.7" fill="#e8352d" fill-opacity="0.8"/>
<circle cx="573.30" cy="367.43" r="0.7" fill="#e8352d" fill-opacity="0.8"/>
<circle cx="566.77" cy="366.01" r="0.7" fill="#e8352d" fill-opacity="0.8"/>
<circle cx="572.59" cy="368.17" r="0.7" fill="#e8352d" fill-opacity="0.8"/>
<circle cx="569.36" cy="367.98" r="0.7" fill="#e8352d" fill-opacity="0.8"/>
<circle cx="565.37" cy="368.63" r="0.7" fill="#e8352d" fill-opacity="0.8"/>
<circle cx="571.89" cy="371.91" r="0.7" fill="#e8352d" fill-opacity="0.8"/>
<circle cx="569.98" cy="372.66" r="0.7" fill="#e8352d" fill-opacity="0.8"/>
<circle cx="565.28" cy="366.92" r="0.7" fill="#e8352d" fill-opacity="0.8"/>
<text transform="translate(555.60,383.00) scale(0.9166666666666667,1)" text-anchor="end" fill="#333" style="font-size:8.28px;">Hgb</text>
<rect x="565.60" y="377.40" width="6.60" height="6.60" fill="#2c4f9c" fill-opacity="0.8" rx="1.5"/>
<circle cx="571.69" cy="384.52" r="0.7" fill="#2c4f9c" fill-opacity="0.8"/>
<circle cx="569.96" cy="381.67" r="0.7" fill="#2c4f9c" fill-opacity="0.8"/>
<circle cx="565.90" cy="384.35" r="0.7" fill="#2c4f9c" fill-opacity="0.8"/>
<circle cx="567.00" cy="384.45" r="0.7" fill="#2c4f9c" fill-opacity="0.8"/>
<circle cx="565.37" cy="382.02" r="0.7" fill="#2c4f9c" fill-opacity="0.8"/>
<circle cx="566.59" cy="379.16" r="0.7" fill="#2c4f9c" fill-opacity="0.8"/>
<circle cx="567.42" cy="381.98" r="0.7" fill="#2c4f9c" fill-opacity="0.8"/>
<circle cx="574.33" cy="383.99" r="0.7" fill="#2c4f9c" fill-opacity="0.8"/>
<circle cx="571.56" cy="377.50" r="0.7" fill="#2c4f9c" fill-opacity="0.8"/>
<circle cx="565.42" cy="377.57" r="0.7" fill="#2c4f9c" fill-opacity="0.8"/>
<circle cx="571.53" cy="380.91" r="0.7" fill="#2c4f9c" fill-opacity="0.8"/>
<circle cx="571.30" cy="377.27" r="0.7" fill="#2c4f9c" fill-opacity="0.8"/>
<circle cx="573.74" cy="380.28" r="0.7" fill="#2c4f9c" fill-opacity="0.8"/>
<circle cx="570.54" cy="377.11" r="0.7" fill="#2c4f9c" fill-opacity="0.8"/>
<circle cx="572.39" cy="382.09" r="0.7" fill="#2c4f9c" fill-opacity="0.8"/>
<circle cx="570.71" cy="382.27" r="0.7" fill="#2c4f9c" fill-opacity="0.8"/>
<circle cx="571.13" cy="381.31" r="0.7" fill="#2c4f9c" fill-opacity="0.8"/>
<circle cx="569.11" cy="378.95" r="0.7" fill="#2c4f9c" fill-opacity="0.8"/>
<circle cx="572.09" cy="379.53" r="0.7" fill="#2c4f9c" fill-opacity="0.8"/>
<circle cx="566.00" cy="376.81" r="0.7" fill="#2c4f9c" fill-opacity="0.8"/>
<circle cx="574.47" cy="381.39" r="0.7" fill="#2c4f9c" fill-opacity="0.8"/>
<circle cx="566.14" cy="377.18" r="0.7" fill="#2c4f9c" fill-opacity="0.8"/>
<circle cx="569.90" cy="384.25" r="0.7" fill="#2c4f9c" fill-opacity="0.8"/>
<circle cx="566.71" cy="378.53" r="0.7" fill="#2c4f9c" fill-opacity="0.8"/>
<circle cx="565.03" cy="380.65" r="0.7" fill="#2c4f9c" fill-opacity="0.8"/>
<circle cx="567.82" cy="384.22" r="0.7" fill="#2c4f9c" fill-opacity="0.8"/>
<circle cx="571.58" cy="380.95" r="0.7" fill="#2c4f9c" fill-opacity="0.8"/>
<circle cx="565.04" cy="381.55" r="0.7" fill="#2c4f9c" fill-opacity="0.8"/>
<circle cx="571.37" cy="378.61" r="0.7" fill="#2c4f9c" fill-opacity="0.8"/>
<circle cx="571.63" cy="382.47" r="0.7" fill="#2c4f9c" fill-opacity="0.8"/>
<circle cx="566.08" cy="384.34" r="0.7" fill="#2c4f9c" fill-opacity="0.8"/>
<circle cx="573.81" cy="377.20" r="0.7" fill="#2c4f9c" fill-opacity="0.8"/>
<circle cx="572.26" cy="377.32" r="0.7" fill="#2c4f9c" fill-opacity="0.8"/>
<circle cx="565.15" cy="383.67" r="0.7" fill="#2c4f9c" fill-opacity="0.8"/>
<circle cx="565.47" cy="379.58" r="0.7" fill="#2c4f9c" fill-opacity="0.8"/>
<circle cx="568.35" cy="381.61" r="0.7" fill="#2c4f9c" fill-opacity="0.8"/>
<circle cx="565.59" cy="380.97" r="0.7" fill="#2c4f9c" fill-opacity="0.8"/>
<circle cx="568.42" cy="383.10" r="0.7" fill="#2c4f9c" fill-opacity="0.8"/>
<circle cx="571.54" cy="378.70" r="0.7" fill="#2c4f9c" fill-opacity="0.8"/>
<circle cx="571.30" cy="376.83" r="0.7" fill="#2c4f9c" fill-opacity="0.8"/>
<circle cx="569.20" cy="382.38" r="0.7" fill="#2c4f9c" fill-opacity="0.8"/>
<circle cx="573.34" cy="378.35" r="0.7" fill="#2c4f9c" fill-opacity="0.8"/>
<circle cx="567.11" cy="381.12" r="0.7" fill="#2c4f9c" fill-opacity="0.8"/>
<circle cx="570.49" cy="380.05" r="0.7" fill="#2c4f9c" fill-opacity="0.8"/>
<circle cx="565.79" cy="384.09" r="0.7" fill="#2c4f9c" fill-opacity="0.8"/>
<circle cx="573.58" cy="384.48" r="0.7" fill="#2c4f9c" fill-opacity="0.8"/>
<circle cx="570.75" cy="384.15" r="0.7" fill="#2c4f9c" fill-opacity="0.8"/>
<circle cx="564.83" cy="377.79" r="0.7" fill="#2c4f9c" fill-opacity="0.8"/>
<circle cx="571.39" cy="381.53" r="0.7" fill="#2c4f9c" fill-opacity="0.8"/>
<circle cx="565.74" cy="381.81" r="0.7" fill="#2c4f9c" fill-opacity="0.8"/>
<circle cx="565.90" cy="381.43" r="0.7" fill="#2c4f9c" fill-opacity="0.8"/>
<circle cx="571.37" cy="383.25" r="0.7" fill="#2c4f9c" fill-opacity="0.8"/>
<circle cx="567.29" cy="377.92" r="0.7" fill="#2c4f9c" fill-opacity="0.8"/>
<circle cx="565.03" cy="383.57" r="0.7" fill="#2c4f9c" fill-opacity="0.8"/>
<circle cx="571.43" cy="380.61" r="0.7" fill="#2c4f9c" fill-opacity="0.8"/>
<circle cx="574.24" cy="383.09" r="0.7" fill="#2c4f9c" fill-opacity="0.8"/>
<circle cx="567.63" cy="377.24" r="0.7" fill="#2c4f9c" fill-opacity="0.8"/>
<circle cx="574.36" cy="379.06" r="0.7" fill="#2c4f9c" fill-opacity="0.8"/>
<circle cx="571.90" cy="384.36" r="0.7" fill="#2c4f9c" fill-opacity="0.8"/>
<circle cx="574.39" cy="378.92" r="0.7" fill="#2c4f9c" fill-opacity="0.8"/>
<circle cx="565.32" cy="382.08" r="0.7" fill="#2c4f9c" fill-opacity="0.8"/>
<circle cx="573.22" cy="381.24" r="0.7" fill="#2c4f9c" fill-opacity="0.8"/>
<circle cx="568.58" cy="377.42" r="0.7" fill="#2c4f9c" fill-opacity="0.8"/>
<circle cx="571.51" cy="382.57" r="0.7" fill="#2c4f9c" fill-opacity="0.8"/>
<circle cx="568.63" cy="377.23" r="0.7" fill="#2c4f9c" fill-opacity="0.8"/>
<circle cx="573.61" cy="377.93" r="0.7" fill="#2c4f9c" fill-opacity="0.8"/>
<circle cx="565.32" cy="377.74" r="0.7" fill="#2c4f9c" fill-opacity="0.8"/>
<circle cx="568.28" cy="377.87" r="0.7" fill="#2c4f9c" fill-opacity="0.8"/>
<circle cx="574.30" cy="381.12" r="0.7" fill="#2c4f9c" fill-opacity="0.8"/>
<circle cx="567.07" cy="383.35" r="0.7" fill="#2c4f9c" fill-opacity="0.8"/>
<circle cx="570.10" cy="381.73" r="0.7" fill="#2c4f9c" fill-opacity="0.8"/>
<circle cx="566.44" cy="380.17" r="0.7" fill="#2c4f9c" fill-opacity="0.8"/>
<circle cx="573.89" cy="378.82" r="0.7" fill="#2c4f9c" fill-opacity="0.8"/>
<circle cx="569.38" cy="379.99" r="0.7" fill="#2c4f9c" fill-opacity="0.8"/>
<circle cx="566.15" cy="376.92" r="0.7" fill="#2c4f9c" fill-opacity="0.8"/>
<circle cx="571.42" cy="383.60" r="0.7" fill="#2c4f9c" fill-opacity="0.8"/>
<circle cx="564.93" cy="381.29" r="0.7" fill="#2c4f9c" fill-opacity="0.8"/>
<circle cx="569.84" cy="383.91" r="0.7" fill="#2c4f9c" fill-opacity="0.8"/>
<circle cx="567.10" cy="381.53" r="0.7" fill="#2c4f9c" fill-opacity="0.8"/>
<circle cx="571.03" cy="378.81" r="0.7" fill="#2c4f9c" fill-opacity="0.8"/>
<circle cx="574.34" cy="379.50" r="0.7" fill="#2c4f9c" fill-opacity="0.8"/>
<circle cx="573.39" cy="381.85" r="0.7" fill="#2c4f9c" fill-opacity="0.8"/>
<circle cx="565.73" cy="377.11" r="0.7" fill="#2c4f9c" fill-opacity="0.8"/>
<circle cx="566.78" cy="377.58" r="0.7" fill="#2c4f9c" fill-opacity="0.8"/>
<circle cx="571.93" cy="378.93" r="0.7" fill="#2c4f9c" fill-opacity="0.8"/>
<circle cx="572.45" cy="383.26" r="0.7" fill="#2c4f9c" fill-opacity="0.8"/>
<circle cx="573.91" cy="384.09" r="0.7" fill="#2c4f9c" fill-opacity="0.8"/>
<circle cx="569.57" cy="379.33" r="0.7" fill="#2c4f9c" fill-opacity="0.8"/>
<circle cx="569.47" cy="378.73" r="0.7" fill="#2c4f9c" fill-opacity="0.8"/>
<circle cx="571.88" cy="382.42" r="0.7" fill="#2c4f9c" fill-opacity="0.8"/>
<circle cx="565.03" cy="379.66" r="0.7" fill="#2c4f9c" fill-opacity="0.8"/>
<circle cx="571.74" cy="381.07" r="0.7" fill="#2c4f9c" fill-opacity="0.8"/>
<circle cx="569.77" cy="381.11" r="0.7" fill="#2c4f9c" fill-opacity="0.8"/>
<circle cx="569.37" cy="381.11" r="0.7" fill="#2c4f9c" fill-opacity="0.8"/>
<circle cx="565.81" cy="380.23" r="0.7" fill="#2c4f9c" fill-opacity="0.8"/>
<circle cx="573.44" cy="381.28" r="0.7" fill="#2c4f9c" fill-opacity="0.8"/>
<circle cx="568.52" cy="378.19" r="0.7" fill="#2c4f9c" fill-opacity="0.8"/>
<circle cx="566.39" cy="378.97" r="0.7" fill="#2c4f9c" fill-opacity="0.8"/>
<circle cx="566.39" cy="377.42" r="0.7" fill="#2c4f9c" fill-opacity="0.8"/>
<circle cx="566.21" cy="381.81" r="0.7" fill="#2c4f9c" fill-opacity="0.8"/>
<circle cx="569.92" cy="380.55" r="0.7" fill="#2c4f9c" fill-opacity="0.8"/>
<circle cx="567.22" cy="380.42" r="0.7" fill="#2c4f9c" fill-opacity="0.8"/>
<circle cx="566.57" cy="382.52" r="0.7" fill="#2c4f9c" fill-opacity="0.8"/>
<circle cx="572.79" cy="381.61" r="0.7" fill="#2c4f9c" fill-opacity="0.8"/>
<circle cx="571.10" cy="379.05" r="0.7" fill="#2c4f9c" fill-opacity="0.8"/>
<circle cx="568.35" cy="382.53" r="0.7" fill="#2c4f9c" fill-opacity="0.8"/>
<circle cx="566.32" cy="384.24" r="0.7" fill="#2c4f9c" fill-opacity="0.8"/>
<circle cx="574.45" cy="381.65" r="0.7" fill="#2c4f9c" fill-opacity="0.8"/>
<circle cx="565.51" cy="376.94" r="0.7" fill="#2c4f9c" fill-opacity="0.8"/>
<circle cx="570.69" cy="381.60" r="0.7" fill="#2c4f9c" fill-opacity="0.8"/>
<circle cx="571.79" cy="381.51" r="0.7" fill="#2c4f9c" fill-opacity="0.8"/>
<circle cx="569.30" cy="382.00" r="0.7" fill="#2c4f9c" fill-opacity="0.8"/>
<circle cx="565.54" cy="382.06" r="0.7" fill="#2c4f9c" fill-opacity="0.8"/>
<circle cx="568.31" cy="384.37" r="0.7" fill="#2c4f9c" fill-opacity="0.8"/>
<circle cx="566.16" cy="380.79" r="0.7" fill="#2c4f9c" fill-opacity="0.8"/>
<circle cx="566.16" cy="383.73" r="0.7" fill="#2c4f9c" fill-opacity="0.8"/>
<circle cx="570.64" cy="378.13" r="0.7" fill="#2c4f9c" fill-opacity="0.8"/>
<circle cx="572.97" cy="377.49" r="0.7" fill="#2c4f9c" fill-opacity="0.8"/>
<circle cx="574.26" cy="383.89" r="0.7" fill="#2c4f9c" fill-opacity="0.8"/>
<circle cx="570.03" cy="380.39" r="0.7" fill="#2c4f9c" fill-opacity="0.8"/>
<text transform="translate(555.60,393.90) scale(0.9166666666666667,1)" text-anchor="end" fill="#333" style="font-size:8.28px;">Plt</text>
<rect x="564.60" y="388.30" width="2.20" height="6.60" fill="#2c4f9c" fill-opacity="0.8" rx="1.5"/>
<circle cx="565.15" cy="391.14" r="0.7" fill="#2c4f9c" fill-opacity="0.8"/>
<circle cx="566.15" cy="391.38" r="0.7" fill="#2c4f9c" fill-opacity="0.8"/>
<circle cx="566.81" cy="392.37" r="0.7" fill="#2c4f9c" fill-opacity="0.8"/>
<circle cx="567.43" cy="392.37" r="0.7" fill="#2c4f9c" fill-opacity="0.8"/>
<circle cx="565.88" cy="394.47" r="0.7" fill="#2c4f9c" fill-opacity="0.8"/>
<circle cx="566.26" cy="391.50" r="0.7" fill="#2c4f9c" fill-opacity="0.8"/>
<circle cx="564.41" cy="389.51" r="0.7" fill="#2c4f9c" fill-opacity="0.8"/>
<circle cx="565.40" cy="392.39" r="0.7" fill="#2c4f9c" fill-opacity="0.8"/>
<circle cx="566.16" cy="391.39" r="0.7" fill="#2c4f9c" fill-opacity="0.8"/>
<circle cx="567.81" cy="395.32" r="0.7" fill="#2c4f9c" fill-opacity="0.8"/>
<circle cx="565.07" cy="389.69" r="0.7" fill="#2c4f9c" fill-opacity="0.8"/>
<circle cx="565.46" cy="393.03" r="0.7" fill="#2c4f9c" fill-opacity="0.8"/>
<circle cx="567.07" cy="389.76" r="0.7" fill="#2c4f9c" fill-opacity="0.8"/>
<circle cx="565.45" cy="392.21" r="0.7" fill="#2c4f9c" fill-opacity="0.8"/>
<circle cx="565.88" cy="392.07" r="0.7" fill="#2c4f9c" fill-opacity="0.8"/>
<circle cx="567.68" cy="395.41" r="0.7" fill="#2c4f9c" fill-opacity="0.8"/>
<circle cx="564.00" cy="394.08" r="0.7" fill="#2c4f9c" fill-opacity="0.8"/>
<circle cx="563.91" cy="389.07" r="0.7" fill="#2c4f9c" fill-opacity="0.8"/>
<circle cx="567.01" cy="387.85" r="0.7" fill="#2c4f9c" fill-opacity="0.8"/>
<circle cx="563.85" cy="388.12" r="0.7" fill="#2c4f9c" fill-opacity="0.8"/>
<circle cx="565.67" cy="395.26" r="0.7" fill="#2c4f9c" fill-opacity="0.8"/>
<circle cx="567.05" cy="392.31" r="0.7" fill="#2c4f9c" fill-opacity="0.8"/>
<circle cx="567.82" cy="390.60" r="0.7" fill="#2c4f9c" fill-opacity="0.8"/>
<circle cx="564.22" cy="394.91" r="0.7" fill="#2c4f9c" fill-opacity="0.8"/>
<circle cx="564.56" cy="391.53" r="0.7" fill="#2c4f9c" fill-opacity="0.8"/>
<circle cx="566.40" cy="388.41" r="0.7" fill="#2c4f9c" fill-opacity="0.8"/>
<circle cx="564.51" cy="391.64" r="0.7" fill="#2c4f9c" fill-opacity="0.8"/>
<circle cx="564.66" cy="393.07" r="0.7" fill="#2c4f9c" fill-opacity="0.8"/>
<circle cx="566.65" cy="395.47" r="0.7" fill="#2c4f9c" fill-opacity="0.8"/>
<circle cx="567.59" cy="391.25" r="0.7" fill="#2c4f9c" fill-opacity="0.8"/>
<circle cx="564.47" cy="388.36" r="0.7" fill="#2c4f9c" fill-opacity="0.8"/>
<circle cx="564.19" cy="387.97" r="0.7" fill="#2c4f9c" fill-opacity="0.8"/>
<circle cx="565.86" cy="389.23" r="0.7" fill="#2c4f9c" fill-opacity="0.8"/>
<circle cx="566.71" cy="391.18" r="0.7" fill="#2c4f9c" fill-opacity="0.8"/>
<circle cx="566.38" cy="395.46" r="0.7" fill="#2c4f9c" fill-opacity="0.8"/>
<circle cx="565.49" cy="391.90" r="0.7" fill="#2c4f9c" fill-opacity="0.8"/>
<circle cx="566.99" cy="393.83" r="0.7" fill="#2c4f9c" fill-opacity="0.8"/>
<circle cx="566.76" cy="388.51" r="0.7" fill="#2c4f9c" fill-opacity="0.8"/>
<circle cx="565.73" cy="389.14" r="0.7" fill="#2c4f9c" fill-opacity="0.8"/>
<circle cx="564.88" cy="395.06" r="0.7" fill="#2c4f9c" fill-opacity="0.8"/>
<circle cx="566.90" cy="395.07" r="0.7" fill="#2c4f9c" fill-opacity="0.8"/>
<circle cx="566.72" cy="391.54" r="0.7" fill="#2c4f9c" fill-opacity="0.8"/>
<circle cx="564.27" cy="392.84" r="0.7" fill="#2c4f9c" fill-opacity="0.8"/>
<circle cx="567.89" cy="391.80" r="0.7" fill="#2c4f9c" fill-opacity="0.8"/>
<circle cx="565.29" cy="393.73" r="0.7" fill="#2c4f9c" fill-opacity="0.8"/>
<circle cx="565.63" cy="391.69" r="0.7" fill="#2c4f9c" fill-opacity="0.8"/>
<circle cx="566.58" cy="389.68" r="0.7" fill="#2c4f9c" fill-opacity="0.8"/>
<circle cx="564.74" cy="392.36" r="0.7" fill="#2c4f9c" fill-opacity="0.8"/>
<circle cx="566.40" cy="391.02" r="0.7" fill="#2c4f9c" fill-opacity="0.8"/>
<circle cx="567.69" cy="391.54" r="0.7" fill="#2c4f9c" fill-opacity="0.8"/>
<circle cx="564.93" cy="395.09" r="0.7" fill="#2c4f9c" fill-opacity="0.8"/>
<circle cx="566.61" cy="388.92" r="0.7" fill="#2c4f9c" fill-opacity="0.8"/>
<circle cx="564.25" cy="389.43" r="0.7" fill="#2c4f9c" fill-opacity="0.8"/>
<circle cx="563.89" cy="394.78" r="0.7" fill="#2c4f9c" fill-opacity="0.8"/>
<circle cx="563.46" cy="393.42" r="0.7" fill="#2c4f9c" fill-opacity="0.8"/>
<circle cx="563.97" cy="393.68" r="0.7" fill="#2c4f9c" fill-opacity="0.8"/>
<circle cx="564.69" cy="393.77" r="0.7" fill="#2c4f9c" fill-opacity="0.8"/>
<circle cx="565.99" cy="393.94" r="0.7" fill="#2c4f9c" fill-opacity="0.8"/>
<circle cx="565.80" cy="389.14" r="0.7" fill="#2c4f9c" fill-opacity="0.8"/>
<circle cx="564.51" cy="391.79" r="0.7" fill="#2c4f9c" fill-opacity="0.8"/>
<circle cx="565.55" cy="392.66" r="0.7" fill="#2c4f9c" fill-opacity="0.8"/>
<circle cx="566.25" cy="390.91" r="0.7" fill="#2c4f9c" fill-opacity="0.8"/>
<circle cx="568.39" cy="395.39" r="0.7" fill="#2c4f9c" fill-opacity="0.8"/>
<circle cx="568.22" cy="392.01" r="0.7" fill="#2c4f9c" fill-opacity="0.8"/>
<circle cx="564.19" cy="392.86" r="0.7" fill="#2c4f9c" fill-opacity="0.8"/>
<circle cx="566.13" cy="391.98" r="0.7" fill="#2c4f9c" fill-opacity="0.8"/>
<circle cx="565.43" cy="389.57" r="0.7" fill="#2c4f9c" fill-opacity="0.8"/>
<circle cx="566.45" cy="394.61" r="0.7" fill="#2c4f9c" fill-opacity="0.8"/>
<circle cx="564.99" cy="391.19" r="0.7" fill="#2c4f9c" fill-opacity="0.8"/>
<circle cx="566.20" cy="393.60" r="0.7" fill="#2c4f9c" fill-opacity="0.8"/>
<text transform="translate(555.60,404.80) scale(0.9166666666666667,1)" text-anchor="end" fill="#333" style="font-size:8.28px;">WBC</text>
<rect x="564.60" y="399.20" width="2.20" height="6.60" fill="#2c4f9c" fill-opacity="0.8" rx="1.5"/>
<circle cx="568.25" cy="406.18" r="0.7" fill="#2c4f9c" fill-opacity="0.8"/>
<circle cx="565.50" cy="403.68" r="0.7" fill="#2c4f9c" fill-opacity="0.8"/>
<circle cx="566.95" cy="401.86" r="0.7" fill="#2c4f9c" fill-opacity="0.8"/>
<circle cx="565.78" cy="401.44" r="0.7" fill="#2c4f9c" fill-opacity="0.8"/>
<circle cx="564.86" cy="402.31" r="0.7" fill="#2c4f9c" fill-opacity="0.8"/>
<circle cx="568.00" cy="406.19" r="0.7" fill="#2c4f9c" fill-opacity="0.8"/>
<circle cx="563.50" cy="405.47" r="0.7" fill="#2c4f9c" fill-opacity="0.8"/>
<circle cx="564.93" cy="405.92" r="0.7" fill="#2c4f9c" fill-opacity="0.8"/>
<circle cx="566.93" cy="405.10" r="0.7" fill="#2c4f9c" fill-opacity="0.8"/>
<circle cx="565.72" cy="399.34" r="0.7" fill="#2c4f9c" fill-opacity="0.8"/>
<circle cx="565.68" cy="404.97" r="0.7" fill="#2c4f9c" fill-opacity="0.8"/>
<circle cx="566.33" cy="399.70" r="0.7" fill="#2c4f9c" fill-opacity="0.8"/>
<circle cx="564.02" cy="403.13" r="0.7" fill="#2c4f9c" fill-opacity="0.8"/>
<circle cx="566.51" cy="401.87" r="0.7" fill="#2c4f9c" fill-opacity="0.8"/>
<circle cx="568.11" cy="405.41" r="0.7" fill="#2c4f9c" fill-opacity="0.8"/>
<circle cx="564.91" cy="402.90" r="0.7" fill="#2c4f9c" fill-opacity="0.8"/>
<circle cx="567.43" cy="403.90" r="0.7" fill="#2c4f9c" fill-opacity="0.8"/>
<circle cx="567.39" cy="402.25" r="0.7" fill="#2c4f9c" fill-opacity="0.8"/>
<circle cx="566.70" cy="403.50" r="0.7" fill="#2c4f9c" fill-opacity="0.8"/>
<circle cx="567.83" cy="402.27" r="0.7" fill="#2c4f9c" fill-opacity="0.8"/>
<circle cx="565.14" cy="403.13" r="0.7" fill="#2c4f9c" fill-opacity="0.8"/>
<circle cx="564.76" cy="399.52" r="0.7" fill="#2c4f9c" fill-opacity="0.8"/>
<circle cx="565.80" cy="404.35" r="0.7" fill="#2c4f9c" fill-opacity="0.8"/>
<circle cx="567.23" cy="403.35" r="0.7" fill="#2c4f9c" fill-opacity="0.8"/>
<circle cx="564.89" cy="405.61" r="0.7" fill="#2c4f9c" fill-opacity="0.8"/>
<circle cx="567.01" cy="400.50" r="0.7" fill="#2c4f9c" fill-opacity="0.8"/>
<circle cx="567.76" cy="404.31" r="0.7" fill="#2c4f9c" fill-opacity="0.8"/>
<circle cx="565.26" cy="401.55" r="0.7" fill="#2c4f9c" fill-opacity="0.8"/>
<circle cx="565.17" cy="399.85" r="0.7" fill="#2c4f9c" fill-opacity="0.8"/>
<circle cx="564.16" cy="404.81" r="0.7" fill="#2c4f9c" fill-opacity="0.8"/>
<circle cx="566.51" cy="401.94" r="0.7" fill="#2c4f9c" fill-opacity="0.8"/>
<circle cx="568.23" cy="405.16" r="0.7" fill="#2c4f9c" fill-opacity="0.8"/>
<circle cx="567.97" cy="403.22" r="0.7" fill="#2c4f9c" fill-opacity="0.8"/>
<circle cx="565.18" cy="401.16" r="0.7" fill="#2c4f9c" fill-opacity="0.8"/>
<circle cx="563.83" cy="404.48" r="0.7" fill="#2c4f9c" fill-opacity="0.8"/>
<circle cx="565.41" cy="402.38" r="0.7" fill="#2c4f9c" fill-opacity="0.8"/>
<circle cx="567.73" cy="403.80" r="0.7" fill="#2c4f9c" fill-opacity="0.8"/>
<circle cx="566.14" cy="401.82" r="0.7" fill="#2c4f9c" fill-opacity="0.8"/>
<circle cx="564.79" cy="401.02" r="0.7" fill="#2c4f9c" fill-opacity="0.8"/>
<circle cx="564.64" cy="402.77" r="0.7" fill="#2c4f9c" fill-opacity="0.8"/>
<circle cx="567.37" cy="399.22" r="0.7" fill="#2c4f9c" fill-opacity="0.8"/>
<circle cx="566.55" cy="402.46" r="0.7" fill="#2c4f9c" fill-opacity="0.8"/>
<circle cx="566.36" cy="399.32" r="0.7" fill="#2c4f9c" fill-opacity="0.8"/>
<circle cx="564.47" cy="400.97" r="0.7" fill="#2c4f9c" fill-opacity="0.8"/>
<circle cx="564.89" cy="399.49" r="0.7" fill="#2c4f9c" fill-opacity="0.8"/>
<circle cx="565.79" cy="404.51" r="0.7" fill="#2c4f9c" fill-opacity="0.8"/>
<circle cx="564.16" cy="404.28" r="0.7" fill="#2c4f9c" fill-opacity="0.8"/>
<circle cx="564.33" cy="402.43" r="0.7" fill="#2c4f9c" fill-opacity="0.8"/>
<circle cx="566.78" cy="402.55" r="0.7" fill="#2c4f9c" fill-opacity="0.8"/>
<circle cx="565.22" cy="398.82" r="0.7" fill="#2c4f9c" fill-opacity="0.8"/>
<circle cx="567.62" cy="399.43" r="0.7" fill="#2c4f9c" fill-opacity="0.8"/>
<circle cx="565.85" cy="399.81" r="0.7" fill="#2c4f9c" fill-opacity="0.8"/>
<circle cx="567.35" cy="405.92" r="0.7" fill="#2c4f9c" fill-opacity="0.8"/>
<circle cx="568.26" cy="403.29" r="0.7" fill="#2c4f9c" fill-opacity="0.8"/>
<circle cx="564.45" cy="403.61" r="0.7" fill="#2c4f9c" fill-opacity="0.8"/>
<circle cx="566.38" cy="398.93" r="0.7" fill="#2c4f9c" fill-opacity="0.8"/>
<circle cx="564.23" cy="404.55" r="0.7" fill="#2c4f9c" fill-opacity="0.8"/>
<circle cx="564.89" cy="404.70" r="0.7" fill="#2c4f9c" fill-opacity="0.8"/>
<circle cx="564.90" cy="401.66" r="0.7" fill="#2c4f9c" fill-opacity="0.8"/>
<circle cx="564.03" cy="398.89" r="0.7" fill="#2c4f9c" fill-opacity="0.8"/>
<circle cx="568.09" cy="405.94" r="0.7" fill="#2c4f9c" fill-opacity="0.8"/>
<circle cx="566.39" cy="399.42" r="0.7" fill="#2c4f9c" fill-opacity="0.8"/>
<circle cx="566.12" cy="401.79" r="0.7" fill="#2c4f9c" fill-opacity="0.8"/>
<circle cx="565.10" cy="403.71" r="0.7" fill="#2c4f9c" fill-opacity="0.8"/>
<circle cx="565.66" cy="401.94" r="0.7" fill="#2c4f9c" fill-opacity="0.8"/>
<circle cx="564.01" cy="400.49" r="0.7" fill="#2c4f9c" fill-opacity="0.8"/>
<circle cx="564.43" cy="402.32" r="0.7" fill="#2c4f9c" fill-opacity="0.8"/>
<circle cx="568.26" cy="404.61" r="0.7" fill="#2c4f9c" fill-opacity="0.8"/>
<circle cx="565.42" cy="404.49" r="0.7" fill="#2c4f9c" fill-opacity="0.8"/>
<circle cx="565.58" cy="400.72" r="0.7" fill="#2c4f9c" fill-opacity="0.8"/>
<text transform="translate(555.60,415.70) scale(0.9166666666666667,1)" text-anchor="end" fill="#333" style="font-size:8.28px;">Tbili</text>
<rect x="564.60" y="410.10" width="2.60" height="6.60" fill="#2c4f9c" fill-opacity="0.8" rx="1.5"/>
<circle cx="566.88" cy="416.22" r="0.7" fill="#2c4f9c" fill-opacity="0.8"/>
<circle cx="566.71" cy="410.12" r="0.7" fill="#2c4f9c" fill-opacity="0.8"/>
<circle cx="567.70" cy="414.30" r="0.7" fill="#2c4f9c" fill-opacity="0.8"/>
<circle cx="565.95" cy="412.71" r="0.7" fill="#2c4f9c" fill-opacity="0.8"/>
<circle cx="564.63" cy="415.70" r="0.7" fill="#2c4f9c" fill-opacity="0.8"/>
<circle cx="563.96" cy="414.30" r="0.7" fill="#2c4f9c" fill-opacity="0.8"/>
<circle cx="568.36" cy="416.92" r="0.7" fill="#2c4f9c" fill-opacity="0.8"/>
<circle cx="565.93" cy="413.09" r="0.7" fill="#2c4f9c" fill-opacity="0.8"/>
<circle cx="564.92" cy="410.95" r="0.7" fill="#2c4f9c" fill-opacity="0.8"/>
<circle cx="563.97" cy="414.54" r="0.7" fill="#2c4f9c" fill-opacity="0.8"/>
<circle cx="564.86" cy="416.92" r="0.7" fill="#2c4f9c" fill-opacity="0.8"/>
<circle cx="565.72" cy="416.73" r="0.7" fill="#2c4f9c" fill-opacity="0.8"/>
<circle cx="565.76" cy="415.33" r="0.7" fill="#2c4f9c" fill-opacity="0.8"/>
<circle cx="565.09" cy="410.04" r="0.7" fill="#2c4f9c" fill-opacity="0.8"/>
<circle cx="566.94" cy="414.18" r="0.7" fill="#2c4f9c" fill-opacity="0.8"/>
<circle cx="566.93" cy="410.87" r="0.7" fill="#2c4f9c" fill-opacity="0.8"/>
<circle cx="569.27" cy="410.09" r="0.7" fill="#2c4f9c" fill-opacity="0.8"/>
<circle cx="566.88" cy="410.37" r="0.7" fill="#2c4f9c" fill-opacity="0.8"/>
<circle cx="565.54" cy="416.15" r="0.7" fill="#2c4f9c" fill-opacity="0.8"/>
<circle cx="564.77" cy="410.14" r="0.7" fill="#2c4f9c" fill-opacity="0.8"/>
<circle cx="569.40" cy="411.11" r="0.7" fill="#2c4f9c" fill-opacity="0.8"/>
<circle cx="564.54" cy="412.00" r="0.7" fill="#2c4f9c" fill-opacity="0.8"/>
<circle cx="564.46" cy="415.23" r="0.7" fill="#2c4f9c" fill-opacity="0.8"/>
<circle cx="563.90" cy="416.16" r="0.7" fill="#2c4f9c" fill-opacity="0.8"/>
<circle cx="569.13" cy="410.16" r="0.7" fill="#2c4f9c" fill-opacity="0.8"/>
<circle cx="566.53" cy="415.99" r="0.7" fill="#2c4f9c" fill-opacity="0.8"/>
<circle cx="569.95" cy="413.10" r="0.7" fill="#2c4f9c" fill-opacity="0.8"/>
<circle cx="566.48" cy="415.65" r="0.7" fill="#2c4f9c" fill-opacity="0.8"/>
<circle cx="567.75" cy="411.62" r="0.7" fill="#2c4f9c" fill-opacity="0.8"/>
<circle cx="568.69" cy="409.72" r="0.7" fill="#2c4f9c" fill-opacity="0.8"/>
<circle cx="566.40" cy="416.99" r="0.7" fill="#2c4f9c" fill-opacity="0.8"/>
<circle cx="566.84" cy="415.42" r="0.7" fill="#2c4f9c" fill-opacity="0.8"/>
<circle cx="566.60" cy="412.92" r="0.7" fill="#2c4f9c" fill-opacity="0.8"/>
<circle cx="564.95" cy="412.33" r="0.7" fill="#2c4f9c" fill-opacity="0.8"/>
<circle cx="566.12" cy="412.00" r="0.7" fill="#2c4f9c" fill-opacity="0.8"/>
<circle cx="567.11" cy="415.38" r="0.7" fill="#2c4f9c" fill-opacity="0.8"/>
<circle cx="568.13" cy="411.69" r="0.7" fill="#2c4f9c" fill-opacity="0.8"/>
<circle cx="565.05" cy="415.93" r="0.7" fill="#2c4f9c" fill-opacity="0.8"/>
<circle cx="563.86" cy="413.02" r="0.7" fill="#2c4f9c" fill-opacity="0.8"/>
<circle cx="563.92" cy="414.23" r="0.7" fill="#2c4f9c" fill-opacity="0.8"/>
<circle cx="566.08" cy="410.05" r="0.7" fill="#2c4f9c" fill-opacity="0.8"/>
<circle cx="566.00" cy="411.87" r="0.7" fill="#2c4f9c" fill-opacity="0.8"/>
<circle cx="564.45" cy="413.27" r="0.7" fill="#2c4f9c" fill-opacity="0.8"/>
<circle cx="566.26" cy="414.76" r="0.7" fill="#2c4f9c" fill-opacity="0.8"/>
<circle cx="566.35" cy="411.52" r="0.7" fill="#2c4f9c" fill-opacity="0.8"/>
<circle cx="564.66" cy="414.14" r="0.7" fill="#2c4f9c" fill-opacity="0.8"/>
<circle cx="567.16" cy="413.64" r="0.7" fill="#2c4f9c" fill-opacity="0.8"/>
<circle cx="569.58" cy="412.30" r="0.7" fill="#2c4f9c" fill-opacity="0.8"/>
<circle cx="566.43" cy="410.50" r="0.7" fill="#2c4f9c" fill-opacity="0.8"/>
<circle cx="564.20" cy="414.58" r="0.7" fill="#2c4f9c" fill-opacity="0.8"/>
<circle cx="567.67" cy="415.79" r="0.7" fill="#2c4f9c" fill-opacity="0.8"/>
<circle cx="565.23" cy="412.00" r="0.7" fill="#2c4f9c" fill-opacity="0.8"/>
<circle cx="564.27" cy="416.30" r="0.7" fill="#2c4f9c" fill-opacity="0.8"/>
<circle cx="563.83" cy="417.15" r="0.7" fill="#2c4f9c" fill-opacity="0.8"/>
<circle cx="567.05" cy="413.03" r="0.7" fill="#2c4f9c" fill-opacity="0.8"/>
<circle cx="566.52" cy="414.55" r="0.7" fill="#2c4f9c" fill-opacity="0.8"/>
<circle cx="567.65" cy="412.14" r="0.7" fill="#2c4f9c" fill-opacity="0.8"/>
<circle cx="564.13" cy="410.11" r="0.7" fill="#2c4f9c" fill-opacity="0.8"/>
<circle cx="567.11" cy="416.85" r="0.7" fill="#2c4f9c" fill-opacity="0.8"/>
<circle cx="568.18" cy="415.56" r="0.7" fill="#2c4f9c" fill-opacity="0.8"/>
<circle cx="567.09" cy="414.45" r="0.7" fill="#2c4f9c" fill-opacity="0.8"/>
<circle cx="564.52" cy="410.61" r="0.7" fill="#2c4f9c" fill-opacity="0.8"/>
<circle cx="565.62" cy="411.75" r="0.7" fill="#2c4f9c" fill-opacity="0.8"/>
<circle cx="568.41" cy="410.43" r="0.7" fill="#2c4f9c" fill-opacity="0.8"/>
<circle cx="567.68" cy="411.21" r="0.7" fill="#2c4f9c" fill-opacity="0.8"/>
<circle cx="566.26" cy="412.61" r="0.7" fill="#2c4f9c" fill-opacity="0.8"/>
<circle cx="564.39" cy="414.93" r="0.7" fill="#2c4f9c" fill-opacity="0.8"/>
<circle cx="566.32" cy="415.89" r="0.7" fill="#2c4f9c" fill-opacity="0.8"/>
<circle cx="565.58" cy="412.25" r="0.7" fill="#2c4f9c" fill-opacity="0.8"/>
<circle cx="568.39" cy="413.08" r="0.7" fill="#2c4f9c" fill-opacity="0.8"/>
<line x1="619.90" y1="271.70" x2="666.00" y2="271.70" stroke="#f08a8a" stroke-width="0.8"/>
<rect x="598.90" y="267.80" width="21.00" height="7.80" fill="#f08080" rx="1.3" fill-opacity="0.45"/>
<circle cx="589.47" cy="271.81" r="0.8" fill="#e8352d" fill-opacity="0.75"/>
<circle cx="591.23" cy="268.95" r="0.8" fill="#e8352d" fill-opacity="0.75"/>
<circle cx="605.27" cy="271.99" r="0.8" fill="#e8352d" fill-opacity="0.75"/>
<circle cx="595.81" cy="272.33" r="0.8" fill="#e8352d" fill-opacity="0.75"/>
<circle cx="598.97" cy="273.24" r="0.8" fill="#e8352d" fill-opacity="0.75"/>
<circle cx="590.68" cy="274.29" r="0.8" fill="#e8352d" fill-opacity="0.75"/>
<circle cx="603.36" cy="269.21" r="0.8" fill="#e8352d" fill-opacity="0.75"/>
<circle cx="598.31" cy="272.67" r="0.8" fill="#e8352d" fill-opacity="0.75"/>
<circle cx="592.04" cy="274.83" r="0.8" fill="#e8352d" fill-opacity="0.75"/>
<circle cx="596.08" cy="271.02" r="0.8" fill="#e8352d" fill-opacity="0.75"/>
<circle cx="591.32" cy="271.37" r="0.8" fill="#e8352d" fill-opacity="0.75"/>
<circle cx="619.77" cy="269.32" r="0.8" fill="#e8352d" fill-opacity="0.75"/>
<circle cx="594.70" cy="272.06" r="0.8" fill="#e8352d" fill-opacity="0.75"/>
<circle cx="609.48" cy="268.99" r="0.8" fill="#e8352d" fill-opacity="0.75"/>
<circle cx="596.01" cy="272.49" r="0.8" fill="#e8352d" fill-opacity="0.75"/>
<circle cx="596.66" cy="268.11" r="0.8" fill="#e8352d" fill-opacity="0.75"/>
<circle cx="611.23" cy="274.50" r="0.8" fill="#e8352d" fill-opacity="0.75"/>
<circle cx="614.80" cy="274.40" r="0.8" fill="#e8352d" fill-opacity="0.75"/>
<circle cx="595.80" cy="270.26" r="0.8" fill="#e8352d" fill-opacity="0.75"/>
<circle cx="608.20" cy="272.58" r="0.8" fill="#e8352d" fill-opacity="0.75"/>
<circle cx="609.03" cy="272.10" r="0.8" fill="#e8352d" fill-opacity="0.75"/>
<circle cx="596.48" cy="269.71" r="0.8" fill="#e8352d" fill-opacity="0.75"/>
<circle cx="591.71" cy="268.34" r="0.8" fill="#e8352d" fill-opacity="0.75"/>
<circle cx="607.60" cy="268.56" r="0.8" fill="#e8352d" fill-opacity="0.75"/>
<circle cx="617.05" cy="275.19" r="0.8" fill="#e8352d" fill-opacity="0.75"/>
<circle cx="593.68" cy="275.24" r="0.8" fill="#e8352d" fill-opacity="0.75"/>
<circle cx="608.97" cy="267.94" r="0.8" fill="#e8352d" fill-opacity="0.75"/>
<circle cx="601.27" cy="270.64" r="0.8" fill="#e8352d" fill-opacity="0.75"/>
<circle cx="598.89" cy="268.41" r="0.8" fill="#e8352d" fill-opacity="0.75"/>
<circle cx="596.79" cy="268.03" r="0.8" fill="#e8352d" fill-opacity="0.75"/>
<circle cx="603.35" cy="271.56" r="0.8" fill="#e8352d" fill-opacity="0.75"/>
<circle cx="596.41" cy="274.92" r="0.8" fill="#e8352d" fill-opacity="0.75"/>
<circle cx="617.35" cy="271.70" r="0.8" fill="#e8352d" fill-opacity="0.75"/>
<circle cx="614.65" cy="270.59" r="0.8" fill="#e8352d" fill-opacity="0.75"/>
<circle cx="613.09" cy="273.81" r="0.8" fill="#e8352d" fill-opacity="0.75"/>
<circle cx="600.26" cy="273.53" r="0.8" fill="#e8352d" fill-opacity="0.75"/>
<circle cx="600.24" cy="269.22" r="0.8" fill="#e8352d" fill-opacity="0.75"/>
<circle cx="602.41" cy="268.76" r="0.8" fill="#e8352d" fill-opacity="0.75"/>
<circle cx="611.98" cy="269.81" r="0.8" fill="#e8352d" fill-opacity="0.75"/>
<circle cx="604.92" cy="274.05" r="0.8" fill="#e8352d" fill-opacity="0.75"/>
<circle cx="608.15" cy="274.81" r="0.8" fill="#e8352d" fill-opacity="0.75"/>
<circle cx="612.22" cy="273.16" r="0.8" fill="#e8352d" fill-opacity="0.75"/>
<circle cx="612.71" cy="273.15" r="0.8" fill="#e8352d" fill-opacity="0.75"/>
<circle cx="618.40" cy="272.42" r="0.8" fill="#e8352d" fill-opacity="0.75"/>
<circle cx="610.14" cy="272.08" r="0.8" fill="#e8352d" fill-opacity="0.75"/>
<circle cx="606.09" cy="275.05" r="0.8" fill="#e8352d" fill-opacity="0.75"/>
<circle cx="598.60" cy="269.34" r="0.8" fill="#e8352d" fill-opacity="0.75"/>
<circle cx="605.04" cy="270.27" r="0.8" fill="#e8352d" fill-opacity="0.75"/>
<circle cx="611.85" cy="272.73" r="0.8" fill="#e8352d" fill-opacity="0.75"/>
<circle cx="589.07" cy="269.49" r="0.8" fill="#e8352d" fill-opacity="0.75"/>
<circle cx="608.81" cy="270.91" r="0.8" fill="#e8352d" fill-opacity="0.75"/>
<circle cx="610.76" cy="271.47" r="0.8" fill="#e8352d" fill-opacity="0.75"/>
<circle cx="592.56" cy="273.14" r="0.8" fill="#e8352d" fill-opacity="0.75"/>
<circle cx="620.15" cy="268.60" r="0.8" fill="#e8352d" fill-opacity="0.75"/>
<circle cx="608.71" cy="272.56" r="0.8" fill="#e8352d" fill-opacity="0.75"/>
<circle cx="608.60" cy="271.74" r="0.8" fill="#e8352d" fill-opacity="0.75"/>
<circle cx="605.21" cy="275.42" r="0.8" fill="#e8352d" fill-opacity="0.75"/>
<circle cx="616.91" cy="271.20" r="0.8" fill="#e8352d" fill-opacity="0.75"/>
<circle cx="615.02" cy="272.97" r="0.8" fill="#e8352d" fill-opacity="0.75"/>
<circle cx="614.77" cy="275.48" r="0.8" fill="#e8352d" fill-opacity="0.75"/>
<circle cx="591.28" cy="269.51" r="0.8" fill="#e8352d" fill-opacity="0.75"/>
<circle cx="596.43" cy="274.12" r="0.8" fill="#e8352d" fill-opacity="0.75"/>
<circle cx="618.57" cy="269.62" r="0.8" fill="#e8352d" fill-opacity="0.75"/>
<circle cx="604.53" cy="274.66" r="0.8" fill="#e8352d" fill-opacity="0.75"/>
<circle cx="612.12" cy="272.36" r="0.8" fill="#e8352d" fill-opacity="0.75"/>
<circle cx="617.59" cy="274.92" r="0.8" fill="#e8352d" fill-opacity="0.75"/>
<circle cx="591.91" cy="275.24" r="0.8" fill="#e8352d" fill-opacity="0.75"/>
<circle cx="598.32" cy="272.57" r="0.8" fill="#e8352d" fill-opacity="0.75"/>
<circle cx="613.10" cy="270.13" r="0.8" fill="#e8352d" fill-opacity="0.75"/>
<circle cx="598.80" cy="274.78" r="0.8" fill="#e8352d" fill-opacity="0.75"/>
<circle cx="614.32" cy="275.32" r="0.8" fill="#e8352d" fill-opacity="0.75"/>
<circle cx="592.00" cy="272.66" r="0.8" fill="#e8352d" fill-opacity="0.75"/>
<circle cx="612.67" cy="275.17" r="0.8" fill="#e8352d" fill-opacity="0.75"/>
<circle cx="612.22" cy="270.03" r="0.8" fill="#e8352d" fill-opacity="0.75"/>
<circle cx="592.23" cy="269.22" r="0.8" fill="#e8352d" fill-opacity="0.75"/>
<circle cx="597.29" cy="272.24" r="0.8" fill="#e8352d" fill-opacity="0.75"/>
<circle cx="599.33" cy="269.03" r="0.8" fill="#e8352d" fill-opacity="0.75"/>
<circle cx="591.77" cy="273.11" r="0.8" fill="#e8352d" fill-opacity="0.75"/>
<circle cx="615.07" cy="268.84" r="0.8" fill="#e8352d" fill-opacity="0.75"/>
<circle cx="605.44" cy="275.35" r="0.8" fill="#e8352d" fill-opacity="0.75"/>
<circle cx="600.55" cy="271.96" r="0.8" fill="#e8352d" fill-opacity="0.75"/>
<circle cx="614.94" cy="268.08" r="0.8" fill="#e8352d" fill-opacity="0.75"/>
<circle cx="616.94" cy="273.79" r="0.8" fill="#e8352d" fill-opacity="0.75"/>
<circle cx="612.56" cy="270.51" r="0.8" fill="#e8352d" fill-opacity="0.75"/>
<circle cx="604.74" cy="275.05" r="0.8" fill="#e8352d" fill-opacity="0.75"/>
<circle cx="590.96" cy="268.52" r="0.8" fill="#e8352d" fill-opacity="0.75"/>
<circle cx="609.48" cy="275.14" r="0.8" fill="#e8352d" fill-opacity="0.75"/>
<circle cx="593.77" cy="269.33" r="0.8" fill="#e8352d" fill-opacity="0.75"/>
<circle cx="603.72" cy="273.90" r="0.8" fill="#e8352d" fill-opacity="0.75"/>
<circle cx="607.04" cy="272.91" r="0.8" fill="#e8352d" fill-opacity="0.75"/>
<circle cx="590.66" cy="269.41" r="0.8" fill="#e8352d" fill-opacity="0.75"/>
<circle cx="607.74" cy="273.41" r="0.8" fill="#e8352d" fill-opacity="0.75"/>
<circle cx="591.92" cy="268.59" r="0.8" fill="#e8352d" fill-opacity="0.75"/>
<circle cx="599.06" cy="271.05" r="0.8" fill="#e8352d" fill-opacity="0.75"/>
<circle cx="599.67" cy="269.19" r="0.8" fill="#e8352d" fill-opacity="0.75"/>
<circle cx="591.37" cy="272.80" r="0.8" fill="#e8352d" fill-opacity="0.75"/>
<circle cx="619.52" cy="272.72" r="0.8" fill="#e8352d" fill-opacity="0.75"/>
<circle cx="618.41" cy="268.86" r="0.8" fill="#e8352d" fill-opacity="0.75"/>
<circle cx="608.71" cy="270.67" r="0.8" fill="#e8352d" fill-opacity="0.75"/>
<circle cx="616.11" cy="272.45" r="0.8" fill="#e8352d" fill-opacity="0.75"/>
<circle cx="608.65" cy="274.85" r="0.8" fill="#e8352d" fill-opacity="0.75"/>
<circle cx="619.58" cy="268.94" r="0.8" fill="#e8352d" fill-opacity="0.75"/>
<circle cx="603.00" cy="268.55" r="0.8" fill="#e8352d" fill-opacity="0.75"/>
<circle cx="606.93" cy="269.60" r="0.8" fill="#e8352d" fill-opacity="0.75"/>
<circle cx="611.35" cy="270.60" r="0.8" fill="#e8352d" fill-opacity="0.75"/>
<circle cx="589.25" cy="274.65" r="0.8" fill="#e8352d" fill-opacity="0.75"/>
<circle cx="593.04" cy="269.94" r="0.8" fill="#e8352d" fill-opacity="0.75"/>
<circle cx="605.64" cy="268.33" r="0.8" fill="#e8352d" fill-opacity="0.75"/>
<circle cx="613.71" cy="273.34" r="0.8" fill="#e8352d" fill-opacity="0.75"/>
<circle cx="592.76" cy="272.62" r="0.8" fill="#e8352d" fill-opacity="0.75"/>
<circle cx="593.11" cy="271.93" r="0.8" fill="#e8352d" fill-opacity="0.75"/>
<circle cx="591.99" cy="270.04" r="0.8" fill="#e8352d" fill-opacity="0.75"/>
<circle cx="603.41" cy="272.04" r="0.8" fill="#e8352d" fill-opacity="0.75"/>
<circle cx="609.93" cy="274.94" r="0.8" fill="#e8352d" fill-opacity="0.75"/>
<circle cx="599.73" cy="270.56" r="0.8" fill="#e8352d" fill-opacity="0.75"/>
<circle cx="595.70" cy="273.51" r="0.8" fill="#e8352d" fill-opacity="0.75"/>
<circle cx="600.75" cy="269.51" r="0.8" fill="#e8352d" fill-opacity="0.75"/>
<circle cx="595.15" cy="271.10" r="0.8" fill="#e8352d" fill-opacity="0.75"/>
<circle cx="615.77" cy="271.23" r="0.8" fill="#e8352d" fill-opacity="0.75"/>
<circle cx="615.04" cy="271.48" r="0.8" fill="#e8352d" fill-opacity="0.75"/>
<circle cx="648.19" cy="270.23" r="0.75" fill="#e8352d" fill-opacity="0.8"/>
<circle cx="638.22" cy="273.05" r="0.75" fill="#e8352d" fill-opacity="0.8"/>
<circle cx="623.21" cy="271.42" r="0.75" fill="#e8352d" fill-opacity="0.8"/>
<circle cx="630.21" cy="270.44" r="0.75" fill="#e8352d" fill-opacity="0.8"/>
<circle cx="634.43" cy="269.89" r="0.75" fill="#e8352d" fill-opacity="0.8"/>
<circle cx="647.87" cy="268.94" r="0.75" fill="#e8352d" fill-opacity="0.8"/>
<circle cx="629.52" cy="270.28" r="0.75" fill="#e8352d" fill-opacity="0.8"/>
<circle cx="626.96" cy="273.71" r="0.75" fill="#e8352d" fill-opacity="0.8"/>
<circle cx="654.72" cy="274.03" r="0.75" fill="#e8352d" fill-opacity="0.8"/>
<circle cx="624.99" cy="269.83" r="0.75" fill="#e8352d" fill-opacity="0.8"/>
<circle cx="633.17" cy="271.75" r="0.75" fill="#e8352d" fill-opacity="0.8"/>
<circle cx="664.44" cy="273.71" r="0.75" fill="#e8352d" fill-opacity="0.8"/>
<circle cx="666.20" cy="268.80" r="0.75" fill="#e8352d" fill-opacity="0.8"/>
<circle cx="621.51" cy="270.72" r="0.75" fill="#e8352d" fill-opacity="0.8"/>
<circle cx="639.28" cy="268.74" r="0.75" fill="#e8352d" fill-opacity="0.8"/>
<circle cx="635.07" cy="269.47" r="0.75" fill="#e8352d" fill-opacity="0.8"/>
<circle cx="667.15" cy="269.96" r="0.75" fill="#e8352d" fill-opacity="0.8"/>
<circle cx="633.43" cy="269.75" r="0.75" fill="#e8352d" fill-opacity="0.8"/>
<circle cx="665.41" cy="269.38" r="0.75" fill="#e8352d" fill-opacity="0.8"/>
<circle cx="639.89" cy="270.02" r="0.75" fill="#e8352d" fill-opacity="0.8"/>
<circle cx="629.89" cy="274.67" r="0.75" fill="#e8352d" fill-opacity="0.8"/>
<circle cx="656.51" cy="273.12" r="0.75" fill="#e8352d" fill-opacity="0.8"/>
<circle cx="635.32" cy="274.56" r="0.75" fill="#e8352d" fill-opacity="0.8"/>
<circle cx="673.53" cy="272.51" r="0.75" fill="#e8352d" fill-opacity="0.8"/>
<circle cx="629.01" cy="268.99" r="0.75" fill="#e8352d" fill-opacity="0.8"/>
<circle cx="645.96" cy="271.62" r="0.75" fill="#e8352d" fill-opacity="0.8"/>
<circle cx="666.40" cy="274.69" r="0.75" fill="#e8352d" fill-opacity="0.8"/>
<circle cx="663.28" cy="270.15" r="0.75" fill="#e8352d" fill-opacity="0.8"/>
<circle cx="674.90" cy="272.38" r="0.75" fill="#e8352d" fill-opacity="0.8"/>
<circle cx="621.79" cy="269.95" r="0.75" fill="#e8352d" fill-opacity="0.8"/>
<circle cx="673.06" cy="273.47" r="0.75" fill="#e8352d" fill-opacity="0.8"/>
<circle cx="658.22" cy="272.67" r="0.75" fill="#e8352d" fill-opacity="0.8"/>
<circle cx="621.41" cy="274.32" r="0.75" fill="#e8352d" fill-opacity="0.8"/>
<circle cx="632.39" cy="273.33" r="0.75" fill="#e8352d" fill-opacity="0.8"/>
<rect x="598.90" y="267.80" width="21.00" height="7.80" fill="#ffffff" stroke="#e04848" stroke-width="1.0" rx="1.3" fill-opacity="0.12"/>
<line x1="616.80" y1="282.60" x2="633.00" y2="282.60" stroke="#f08a8a" stroke-width="0.8"/>
<rect x="598.40" y="278.70" width="18.40" height="7.80" fill="#f08080" rx="1.3" fill-opacity="0.45"/>
<circle cx="604.65" cy="282.51" r="0.8" fill="#e8352d" fill-opacity="0.75"/>
<circle cx="604.26" cy="285.78" r="0.8" fill="#e8352d" fill-opacity="0.75"/>
<circle cx="613.22" cy="281.80" r="0.8" fill="#e8352d" fill-opacity="0.75"/>
<circle cx="613.72" cy="280.13" r="0.8" fill="#e8352d" fill-opacity="0.75"/>
<circle cx="599.13" cy="281.24" r="0.8" fill="#e8352d" fill-opacity="0.75"/>
<circle cx="590.37" cy="281.85" r="0.8" fill="#e8352d" fill-opacity="0.75"/>
<circle cx="589.06" cy="286.16" r="0.8" fill="#e8352d" fill-opacity="0.75"/>
<circle cx="612.71" cy="282.44" r="0.8" fill="#e8352d" fill-opacity="0.75"/>
<circle cx="590.79" cy="280.80" r="0.8" fill="#e8352d" fill-opacity="0.75"/>
<circle cx="611.41" cy="281.03" r="0.8" fill="#e8352d" fill-opacity="0.75"/>
<circle cx="591.74" cy="282.05" r="0.8" fill="#e8352d" fill-opacity="0.75"/>
<circle cx="605.77" cy="279.76" r="0.8" fill="#e8352d" fill-opacity="0.75"/>
<circle cx="599.93" cy="283.03" r="0.8" fill="#e8352d" fill-opacity="0.75"/>
<circle cx="610.60" cy="281.89" r="0.8" fill="#e8352d" fill-opacity="0.75"/>
<circle cx="617.75" cy="280.74" r="0.8" fill="#e8352d" fill-opacity="0.75"/>
<circle cx="610.75" cy="279.40" r="0.8" fill="#e8352d" fill-opacity="0.75"/>
<circle cx="615.54" cy="282.94" r="0.8" fill="#e8352d" fill-opacity="0.75"/>
<circle cx="594.02" cy="284.99" r="0.8" fill="#e8352d" fill-opacity="0.75"/>
<circle cx="614.62" cy="279.79" r="0.8" fill="#e8352d" fill-opacity="0.75"/>
<circle cx="614.59" cy="286.09" r="0.8" fill="#e8352d" fill-opacity="0.75"/>
<circle cx="599.32" cy="284.81" r="0.8" fill="#e8352d" fill-opacity="0.75"/>
<circle cx="609.89" cy="283.11" r="0.8" fill="#e8352d" fill-opacity="0.75"/>
<circle cx="600.23" cy="281.18" r="0.8" fill="#e8352d" fill-opacity="0.75"/>
<circle cx="612.66" cy="284.75" r="0.8" fill="#e8352d" fill-opacity="0.75"/>
<circle cx="616.42" cy="279.32" r="0.8" fill="#e8352d" fill-opacity="0.75"/>
<circle cx="605.53" cy="284.16" r="0.8" fill="#e8352d" fill-opacity="0.75"/>
<circle cx="595.31" cy="278.96" r="0.8" fill="#e8352d" fill-opacity="0.75"/>
<circle cx="614.91" cy="284.73" r="0.8" fill="#e8352d" fill-opacity="0.75"/>
<circle cx="609.68" cy="281.33" r="0.8" fill="#e8352d" fill-opacity="0.75"/>
<circle cx="601.71" cy="284.98" r="0.8" fill="#e8352d" fill-opacity="0.75"/>
<circle cx="591.71" cy="284.29" r="0.8" fill="#e8352d" fill-opacity="0.75"/>
<circle cx="609.51" cy="282.32" r="0.8" fill="#e8352d" fill-opacity="0.75"/>
<circle cx="616.63" cy="283.60" r="0.8" fill="#e8352d" fill-opacity="0.75"/>
<circle cx="614.63" cy="280.28" r="0.8" fill="#e8352d" fill-opacity="0.75"/>
<circle cx="600.83" cy="281.02" r="0.8" fill="#e8352d" fill-opacity="0.75"/>
<circle cx="603.45" cy="284.53" r="0.8" fill="#e8352d" fill-opacity="0.75"/>
<circle cx="617.75" cy="285.72" r="0.8" fill="#e8352d" fill-opacity="0.75"/>
<circle cx="613.73" cy="286.21" r="0.8" fill="#e8352d" fill-opacity="0.75"/>
<circle cx="610.27" cy="284.40" r="0.8" fill="#e8352d" fill-opacity="0.75"/>
<circle cx="591.64" cy="281.90" r="0.8" fill="#e8352d" fill-opacity="0.75"/>
<circle cx="603.19" cy="279.60" r="0.8" fill="#e8352d" fill-opacity="0.75"/>
<circle cx="615.14" cy="281.63" r="0.8" fill="#e8352d" fill-opacity="0.75"/>
<circle cx="596.06" cy="279.42" r="0.8" fill="#e8352d" fill-opacity="0.75"/>
<circle cx="604.57" cy="281.36" r="0.8" fill="#e8352d" fill-opacity="0.75"/>
<circle cx="616.50" cy="283.62" r="0.8" fill="#e8352d" fill-opacity="0.75"/>
<circle cx="601.47" cy="280.00" r="0.8" fill="#e8352d" fill-opacity="0.75"/>
<circle cx="590.42" cy="284.03" r="0.8" fill="#e8352d" fill-opacity="0.75"/>
<circle cx="606.75" cy="282.56" r="0.8" fill="#e8352d" fill-opacity="0.75"/>
<circle cx="603.68" cy="281.92" r="0.8" fill="#e8352d" fill-opacity="0.75"/>
<circle cx="615.28" cy="279.22" r="0.8" fill="#e8352d" fill-opacity="0.75"/>
<circle cx="595.71" cy="284.83" r="0.8" fill="#e8352d" fill-opacity="0.75"/>
<circle cx="598.14" cy="281.32" r="0.8" fill="#e8352d" fill-opacity="0.75"/>
<circle cx="601.53" cy="281.05" r="0.8" fill="#e8352d" fill-opacity="0.75"/>
<circle cx="611.02" cy="279.53" r="0.8" fill="#e8352d" fill-opacity="0.75"/>
<circle cx="605.11" cy="284.23" r="0.8" fill="#e8352d" fill-opacity="0.75"/>
<circle cx="598.96" cy="284.34" r="0.8" fill="#e8352d" fill-opacity="0.75"/>
<circle cx="599.29" cy="283.53" r="0.8" fill="#e8352d" fill-opacity="0.75"/>
<circle cx="591.97" cy="281.21" r="0.8" fill="#e8352d" fill-opacity="0.75"/>
<circle cx="605.26" cy="283.45" r="0.8" fill="#e8352d" fill-opacity="0.75"/>
<circle cx="602.45" cy="279.08" r="0.8" fill="#e8352d" fill-opacity="0.75"/>
<circle cx="604.64" cy="285.38" r="0.8" fill="#e8352d" fill-opacity="0.75"/>
<circle cx="596.88" cy="280.38" r="0.8" fill="#e8352d" fill-opacity="0.75"/>
<circle cx="607.01" cy="280.56" r="0.8" fill="#e8352d" fill-opacity="0.75"/>
<circle cx="591.96" cy="279.36" r="0.8" fill="#e8352d" fill-opacity="0.75"/>
<circle cx="607.12" cy="285.50" r="0.8" fill="#e8352d" fill-opacity="0.75"/>
<circle cx="611.37" cy="283.28" r="0.8" fill="#e8352d" fill-opacity="0.75"/>
<circle cx="614.37" cy="285.25" r="0.8" fill="#e8352d" fill-opacity="0.75"/>
<circle cx="596.79" cy="281.70" r="0.8" fill="#e8352d" fill-opacity="0.75"/>
<circle cx="617.24" cy="285.96" r="0.8" fill="#e8352d" fill-opacity="0.75"/>
<circle cx="607.58" cy="283.59" r="0.8" fill="#e8352d" fill-opacity="0.75"/>
<circle cx="598.93" cy="279.49" r="0.8" fill="#e8352d" fill-opacity="0.75"/>
<circle cx="598.55" cy="280.55" r="0.8" fill="#e8352d" fill-opacity="0.75"/>
<circle cx="607.32" cy="283.78" r="0.8" fill="#e8352d" fill-opacity="0.75"/>
<circle cx="607.26" cy="285.72" r="0.8" fill="#e8352d" fill-opacity="0.75"/>
<circle cx="589.02" cy="280.36" r="0.8" fill="#e8352d" fill-opacity="0.75"/>
<circle cx="591.89" cy="281.61" r="0.8" fill="#e8352d" fill-opacity="0.75"/>
<circle cx="615.50" cy="282.35" r="0.8" fill="#e8352d" fill-opacity="0.75"/>
<circle cx="612.18" cy="280.19" r="0.8" fill="#e8352d" fill-opacity="0.75"/>
<circle cx="599.28" cy="284.87" r="0.8" fill="#e8352d" fill-opacity="0.75"/>
<circle cx="597.50" cy="284.35" r="0.8" fill="#e8352d" fill-opacity="0.75"/>
<circle cx="606.38" cy="283.78" r="0.8" fill="#e8352d" fill-opacity="0.75"/>
<circle cx="589.84" cy="281.54" r="0.8" fill="#e8352d" fill-opacity="0.75"/>
<circle cx="617.55" cy="281.65" r="0.8" fill="#e8352d" fill-opacity="0.75"/>
<circle cx="597.08" cy="286.40" r="0.8" fill="#e8352d" fill-opacity="0.75"/>
<circle cx="606.11" cy="284.09" r="0.8" fill="#e8352d" fill-opacity="0.75"/>
<circle cx="603.03" cy="283.54" r="0.8" fill="#e8352d" fill-opacity="0.75"/>
<circle cx="600.30" cy="280.89" r="0.8" fill="#e8352d" fill-opacity="0.75"/>
<circle cx="597.45" cy="280.53" r="0.8" fill="#e8352d" fill-opacity="0.75"/>
<circle cx="609.14" cy="279.47" r="0.8" fill="#e8352d" fill-opacity="0.75"/>
<circle cx="592.40" cy="282.65" r="0.8" fill="#e8352d" fill-opacity="0.75"/>
<circle cx="617.71" cy="284.74" r="0.8" fill="#e8352d" fill-opacity="0.75"/>
<circle cx="608.40" cy="284.44" r="0.8" fill="#e8352d" fill-opacity="0.75"/>
<circle cx="594.99" cy="282.68" r="0.8" fill="#e8352d" fill-opacity="0.75"/>
<circle cx="589.51" cy="282.75" r="0.8" fill="#e8352d" fill-opacity="0.75"/>
<circle cx="589.93" cy="279.68" r="0.8" fill="#e8352d" fill-opacity="0.75"/>
<circle cx="592.50" cy="281.43" r="0.8" fill="#e8352d" fill-opacity="0.75"/>
<circle cx="602.78" cy="280.46" r="0.8" fill="#e8352d" fill-opacity="0.75"/>
<circle cx="591.25" cy="279.72" r="0.8" fill="#e8352d" fill-opacity="0.75"/>
<circle cx="616.55" cy="286.29" r="0.8" fill="#e8352d" fill-opacity="0.75"/>
<circle cx="615.50" cy="279.84" r="0.8" fill="#e8352d" fill-opacity="0.75"/>
<circle cx="594.85" cy="285.48" r="0.8" fill="#e8352d" fill-opacity="0.75"/>
<circle cx="589.45" cy="279.93" r="0.8" fill="#e8352d" fill-opacity="0.75"/>
<circle cx="607.82" cy="286.13" r="0.8" fill="#e8352d" fill-opacity="0.75"/>
<circle cx="615.84" cy="285.22" r="0.8" fill="#e8352d" fill-opacity="0.75"/>
<circle cx="598.21" cy="284.38" r="0.8" fill="#e8352d" fill-opacity="0.75"/>
<circle cx="616.16" cy="285.64" r="0.8" fill="#e8352d" fill-opacity="0.75"/>
<circle cx="617.15" cy="284.59" r="0.8" fill="#e8352d" fill-opacity="0.75"/>
<circle cx="611.82" cy="284.14" r="0.8" fill="#e8352d" fill-opacity="0.75"/>
<circle cx="601.26" cy="283.16" r="0.8" fill="#e8352d" fill-opacity="0.75"/>
<circle cx="615.96" cy="283.15" r="0.8" fill="#e8352d" fill-opacity="0.75"/>
<circle cx="589.74" cy="282.20" r="0.8" fill="#e8352d" fill-opacity="0.75"/>
<circle cx="614.26" cy="284.19" r="0.8" fill="#e8352d" fill-opacity="0.75"/>
<circle cx="602.99" cy="285.90" r="0.8" fill="#e8352d" fill-opacity="0.75"/>
<circle cx="610.93" cy="280.50" r="0.8" fill="#e8352d" fill-opacity="0.75"/>
<circle cx="609.34" cy="285.41" r="0.8" fill="#e8352d" fill-opacity="0.75"/>
<circle cx="589.19" cy="285.92" r="0.8" fill="#e8352d" fill-opacity="0.75"/>
<circle cx="601.52" cy="285.24" r="0.8" fill="#e8352d" fill-opacity="0.75"/>
<circle cx="589.36" cy="281.23" r="0.8" fill="#e8352d" fill-opacity="0.75"/>
<circle cx="597.81" cy="280.45" r="0.8" fill="#e8352d" fill-opacity="0.75"/>
<circle cx="608.07" cy="284.85" r="0.8" fill="#e8352d" fill-opacity="0.75"/>
<circle cx="632.27" cy="285.06" r="0.75" fill="#e8352d" fill-opacity="0.8"/>
<circle cx="619.48" cy="281.32" r="0.75" fill="#e8352d" fill-opacity="0.8"/>
<circle cx="625.63" cy="284.36" r="0.75" fill="#e8352d" fill-opacity="0.8"/>
<circle cx="634.85" cy="285.54" r="0.75" fill="#e8352d" fill-opacity="0.8"/>
<circle cx="638.94" cy="282.78" r="0.75" fill="#e8352d" fill-opacity="0.8"/>
<circle cx="634.89" cy="284.51" r="0.75" fill="#e8352d" fill-opacity="0.8"/>
<circle cx="628.69" cy="283.68" r="0.75" fill="#e8352d" fill-opacity="0.8"/>
<circle cx="638.35" cy="284.59" r="0.75" fill="#e8352d" fill-opacity="0.8"/>
<circle cx="620.26" cy="279.78" r="0.75" fill="#e8352d" fill-opacity="0.8"/>
<circle cx="633.93" cy="284.49" r="0.75" fill="#e8352d" fill-opacity="0.8"/>
<circle cx="620.88" cy="284.71" r="0.75" fill="#e8352d" fill-opacity="0.8"/>
<circle cx="635.40" cy="280.59" r="0.75" fill="#e8352d" fill-opacity="0.8"/>
<circle cx="620.21" cy="283.55" r="0.75" fill="#e8352d" fill-opacity="0.8"/>
<circle cx="631.51" cy="280.56" r="0.75" fill="#e8352d" fill-opacity="0.8"/>
<circle cx="640.05" cy="280.89" r="0.75" fill="#e8352d" fill-opacity="0.8"/>
<circle cx="637.73" cy="285.27" r="0.75" fill="#e8352d" fill-opacity="0.8"/>
<circle cx="619.60" cy="283.81" r="0.75" fill="#e8352d" fill-opacity="0.8"/>
<circle cx="629.48" cy="285.09" r="0.75" fill="#e8352d" fill-opacity="0.8"/>
<circle cx="626.70" cy="282.07" r="0.75" fill="#e8352d" fill-opacity="0.8"/>
<circle cx="621.77" cy="284.68" r="0.75" fill="#e8352d" fill-opacity="0.8"/>
<circle cx="623.69" cy="285.07" r="0.75" fill="#e8352d" fill-opacity="0.8"/>
<circle cx="618.31" cy="284.93" r="0.75" fill="#e8352d" fill-opacity="0.8"/>
<circle cx="618.15" cy="283.94" r="0.75" fill="#e8352d" fill-opacity="0.8"/>
<circle cx="641.38" cy="281.53" r="0.75" fill="#e8352d" fill-opacity="0.8"/>
<circle cx="630.62" cy="282.08" r="0.75" fill="#e8352d" fill-opacity="0.8"/>
<circle cx="618.72" cy="284.63" r="0.75" fill="#e8352d" fill-opacity="0.8"/>
<rect x="598.40" y="278.70" width="18.40" height="7.80" fill="#ffffff" stroke="#e04848" stroke-width="1.0" rx="1.3" fill-opacity="0.12"/>
<text transform="translate(564.90,428.50) scale(0.9166666666666667,1)" text-anchor="middle" fill="#444" style="font-size:9.0px;">0</text>
<text transform="translate(605.90,428.50) scale(0.9166666666666667,1)" text-anchor="middle" fill="#444" style="font-size:9.0px;">0.05</text>
<text transform="translate(646.90,428.50) scale(0.9166666666666667,1)" text-anchor="middle" fill="#444" style="font-size:9.0px;">0.10</text>
<text transform="translate(619.80,440.50) scale(0.9166666666666667,1)" text-anchor="middle" fill="#333" style="font-size:9.839999999999998px;">Variable importance</text>
<text transform="translate(523.70,326.00) rotate(-90) scale(0.9166666666666667,1)" text-anchor="middle" fill="#333" style="font-size:9.839999999999998px;">Laboratory variable</text>
<rect x="594.30" y="328.50" width="25.20" height="11.00" fill="#d7dcef" stroke="#5a74b5" stroke-width="0.8"/>
<circle cx="606.90" cy="334.00" r="0.9" fill="#4a63ad"/>
<text transform="translate(622.80,336.60) scale(0.775,1)" text-anchor="start" fill="#333" style="font-size:9.36px;">CBC and CMP</text>
<rect x="595.20" y="350.30" width="25.50" height="11.40" fill="#f7dcdc" stroke="#e06666" stroke-width="0.8"/>
<circle cx="608.00" cy="356.00" r="0.9" fill="#f07070"/>
<text transform="translate(623.70,358.80) scale(0.8166666666666667,1)" text-anchor="start" fill="#333" style="font-size:9.36px;">Extended labs</text>
<text transform="translate(0.00,460.00)" text-anchor="start" fill="#111" style="font-size:12.3px;font-weight:bold;">h</text>
<line x1="26.30" y1="619.60" x2="92.00" y2="619.60" stroke="#ebebeb" stroke-width="0.8"/>
<line x1="26.30" y1="599.62" x2="92.00" y2="599.62" stroke="#ebebeb" stroke-width="0.8"/>
<line x1="26.30" y1="579.64" x2="92.00" y2="579.64" stroke="#ebebeb" stroke-width="0.8"/>
<line x1="26.30" y1="559.66" x2="92.00" y2="559.66" stroke="#ebebeb" stroke-width="0.8"/>
<line x1="26.30" y1="539.68" x2="92.00" y2="539.68" stroke="#ebebeb" stroke-width="0.8"/>
<line x1="26.30" y1="519.70" x2="92.00" y2="519.70" stroke="#ebebeb" stroke-width="0.8"/>
<line x1="26.30" y1="499.72" x2="92.00" y2="499.72" stroke="#ebebeb" stroke-width="0.8"/>
<line x1="26.30" y1="479.74" x2="92.00" y2="479.74" stroke="#ebebeb" stroke-width="0.8"/>
<line x1="59.20" y1="474.00" x2="59.20" y2="626.80" stroke="#ebebeb" stroke-width="0.8"/>
<rect x="34.40" y="523.40" width="24.80" height="96.20" fill="#1f71b3" stroke="#3a3a3a" stroke-width="0.5"/>
<rect x="59.20" y="510.31" width="24.70" height="109.29" fill="#f47f20" stroke="#3a3a3a" stroke-width="0.5"/>
<rect x="39.50" y="540.00" width="14.50" height="28.50" fill="#ffffff" rx="1.6"/>
<text transform="translate(46.75,552.54) scale(0.9166666666666667,1)" text-anchor="middle" fill="#333" style="font-size:9.12px;">78</text>
<line x1="41.55" y1="554.25" x2="51.95" y2="554.25" stroke="#444" stroke-width="0.6"/>
<text transform="translate(46.75,561.54) scale(0.9166666666666667,1)" text-anchor="middle" fill="#333" style="font-size:9.12px;">108</text>
<rect x="66.60" y="547.00" width="13.00" height="24.00" fill="#ffffff" rx="1.6"/>
<text transform="translate(73.10,557.56) scale(0.9166666666666667,1)" text-anchor="middle" fill="#333" style="font-size:9.12px;">32</text>
<line x1="67.90" y1="559.00" x2="78.30" y2="559.00" stroke="#444" stroke-width="0.6"/>
<text transform="translate(73.10,566.56) scale(0.9166666666666667,1)" text-anchor="middle" fill="#333" style="font-size:9.12px;">39</text>
<text transform="translate(23.60,502.32) scale(0.9166666666666667,1)" text-anchor="end" fill="#444" style="font-size:9.0px;">0.9</text>
<text transform="translate(23.60,542.28) scale(0.9166666666666667,1)" text-anchor="end" fill="#444" style="font-size:9.0px;">0.6</text>
<text transform="translate(23.60,582.24) scale(0.9166666666666667,1)" text-anchor="end" fill="#444" style="font-size:9.0px;">0.3</text>
<text transform="translate(23.60,622.20) scale(0.9166666666666667,1)" text-anchor="end" fill="#444" style="font-size:9.0px;">0</text>
<text transform="translate(31.70,470.40)" text-anchor="start" fill="#333" style="font-size:7.919999999999999px;" textLength="55.5" lengthAdjust="spacingAndGlyphs">Adj. OR (95% CI)</text>
<text transform="translate(31.70,478.60)" text-anchor="start" fill="#333" style="font-size:7.919999999999999px;" textLength="51.4" lengthAdjust="spacingAndGlyphs">1.91 (0.62–8.21)</text>
<text transform="translate(48.00,491.60)" text-anchor="start" fill="#333" style="font-size:8.88px;" textLength="22.2" lengthAdjust="spacingAndGlyphs"><tspan style="font-style:italic">P</tspan> = 0.2</text>
<text transform="translate(6.40,546.50) rotate(-90) scale(0.9166666666666667,1)" text-anchor="middle" fill="#333" style="font-size:9.839999999999998px;">Proportion CRS</text>
<text transform="translate(54.40,626.60) rotate(-45) scale(0.8750000000000001,1)" text-anchor="end" fill="#333" style="font-size:9.96px;">Non-Infl.</text>
<text transform="translate(79.00,626.60) rotate(-45) scale(0.8750000000000001,1)" text-anchor="end" fill="#333" style="font-size:9.96px;">Infl.</text>
<text transform="translate(101.80,460.00)" text-anchor="start" fill="#111" style="font-size:12.3px;font-weight:bold;">i</text>
<line x1="126.60" y1="619.60" x2="192.30" y2="619.60" stroke="#ebebeb" stroke-width="0.8"/>
<line x1="126.60" y1="599.62" x2="192.30" y2="599.62" stroke="#ebebeb" stroke-width="0.8"/>
<line x1="126.60" y1="579.64" x2="192.30" y2="579.64" stroke="#ebebeb" stroke-width="0.8"/>
<line x1="126.60" y1="559.66" x2="192.30" y2="559.66" stroke="#ebebeb" stroke-width="0.8"/>
<line x1="126.60" y1="539.68" x2="192.30" y2="539.68" stroke="#ebebeb" stroke-width="0.8"/>
<line x1="126.60" y1="519.70" x2="192.30" y2="519.70" stroke="#ebebeb" stroke-width="0.8"/>
<line x1="126.60" y1="499.72" x2="192.30" y2="499.72" stroke="#ebebeb" stroke-width="0.8"/>
<line x1="126.60" y1="479.74" x2="192.30" y2="479.74" stroke="#ebebeb" stroke-width="0.8"/>
<line x1="159.50" y1="474.00" x2="159.50" y2="626.80" stroke="#ebebeb" stroke-width="0.8"/>
<rect x="135.30" y="585.07" width="24.20" height="34.53" fill="#1f71b3" stroke="#3a3a3a" stroke-width="0.5"/>
<rect x="159.50" y="561.54" width="24.90" height="58.06" fill="#f47f20" stroke="#3a3a3a" stroke-width="0.5"/>
<rect x="139.60" y="591.00" width="14.60" height="22.60" fill="#ffffff" rx="1.6"/>
<text transform="translate(146.90,600.94) scale(0.9166666666666667,1)" text-anchor="middle" fill="#333" style="font-size:9.12px;">28</text>
<line x1="141.70" y1="602.30" x2="152.10" y2="602.30" stroke="#444" stroke-width="0.6"/>
<text transform="translate(146.90,609.94) scale(0.9166666666666667,1)" text-anchor="middle" fill="#333" style="font-size:9.12px;">108</text>
<rect x="165.30" y="579.40" width="14.20" height="22.80" fill="#ffffff" rx="1.6"/>
<text transform="translate(172.40,589.43) scale(0.9166666666666667,1)" text-anchor="middle" fill="#333" style="font-size:9.12px;">17</text>
<line x1="167.20" y1="590.80" x2="177.60" y2="590.80" stroke="#444" stroke-width="0.6"/>
<text transform="translate(172.40,598.43) scale(0.9166666666666667,1)" text-anchor="middle" fill="#333" style="font-size:9.12px;">39</text>
<text transform="translate(123.70,502.32) scale(0.9166666666666667,1)" text-anchor="end" fill="#444" style="font-size:9.0px;">0.9</text>
<text transform="translate(123.70,542.28) scale(0.9166666666666667,1)" text-anchor="end" fill="#444" style="font-size:9.0px;">0.6</text>
<text transform="translate(123.70,582.24) scale(0.9166666666666667,1)" text-anchor="end" fill="#444" style="font-size:9.0px;">0.3</text>
<text transform="translate(123.70,622.20) scale(0.9166666666666667,1)" text-anchor="end" fill="#444" style="font-size:9.0px;">0</text>
<text transform="translate(132.00,470.40)" text-anchor="start" fill="#333" style="font-size:7.919999999999999px;" textLength="55.0" lengthAdjust="spacingAndGlyphs">Adj. OR (95% CI)</text>
<text transform="translate(134.20,478.60)" text-anchor="start" fill="#333" style="font-size:7.919999999999999px;" textLength="50.2" lengthAdjust="spacingAndGlyphs">1.82 (0.71–7.71)</text>
<text transform="translate(148.40,491.60)" text-anchor="start" fill="#333" style="font-size:8.88px;" textLength="22.0" lengthAdjust="spacingAndGlyphs">P = 0.2</text>
<line x1="130.80" y1="483.60" x2="184.40" y2="483.60" stroke="#e6e6e6" stroke-width="0.8"/>
<text transform="translate(108.80,546.50) rotate(-90) scale(0.9166666666666667,1)" text-anchor="middle" fill="#333" style="font-size:9.839999999999998px;">Proportion ICANS</text>
<text transform="translate(154.70,626.60) rotate(-45) scale(0.8750000000000001,1)" text-anchor="end" fill="#333" style="font-size:9.96px;">Non-Infl.</text>
<text transform="translate(179.50,626.60) rotate(-45) scale(0.8750000000000001,1)" text-anchor="end" fill="#333" style="font-size:9.96px;">Infl.</text>
<text transform="translate(203.80,460.00)" text-anchor="start" fill="#111" style="font-size:12.3px;font-weight:bold;">j</text>
<line x1="229.00" y1="619.60" x2="295.00" y2="619.60" stroke="#ebebeb" stroke-width="0.8"/>
<line x1="229.00" y1="599.62" x2="295.00" y2="599.62" stroke="#ebebeb" stroke-width="0.8"/>
<line x1="229.00" y1="579.64" x2="295.00" y2="579.64" stroke="#ebebeb" stroke-width="0.8"/>
<line x1="229.00" y1="559.66" x2="295.00" y2="559.66" stroke="#ebebeb" stroke-width="0.8"/>
<line x1="229.00" y1="539.68" x2="295.00" y2="539.68" stroke="#ebebeb" stroke-width="0.8"/>
<line x1="229.00" y1="519.70" x2="295.00" y2="519.70" stroke="#ebebeb" stroke-width="0.8"/>
<line x1="229.00" y1="499.72" x2="295.00" y2="499.72" stroke="#ebebeb" stroke-width="0.8"/>
<line x1="229.00" y1="479.74" x2="295.00" y2="479.74" stroke="#ebebeb" stroke-width="0.8"/>
<line x1="262.80" y1="474.00" x2="262.80" y2="626.80" stroke="#ebebeb" stroke-width="0.8"/>
<rect x="238.00" y="527.48" width="24.80" height="92.12" fill="#1f71b3" stroke="#3a3a3a" stroke-width="0.5"/>
<rect x="262.80" y="587.20" width="24.50" height="32.40" fill="#f47f20" stroke="#3a3a3a" stroke-width="0.5"/>
<rect x="243.00" y="566.00" width="14.50" height="23.40" fill="#ffffff" rx="1.6"/>
<text transform="translate(250.25,576.30) scale(0.9166666666666667,1)" text-anchor="middle" fill="#333" style="font-size:9.12px;">74</text>
<line x1="245.05" y1="577.70" x2="255.45" y2="577.70" stroke="#444" stroke-width="0.6"/>
<text transform="translate(250.25,585.30) scale(0.9166666666666667,1)" text-anchor="middle" fill="#333" style="font-size:9.12px;">107</text>
<rect x="268.20" y="591.10" width="13.40" height="23.50" fill="#ffffff" rx="1.6"/>
<text transform="translate(274.90,601.44) scale(0.9166666666666667,1)" text-anchor="middle" fill="#333" style="font-size:9.12px;">9</text>
<line x1="269.70" y1="602.85" x2="280.10" y2="602.85" stroke="#444" stroke-width="0.6"/>
<text transform="translate(274.90,610.44) scale(0.9166666666666667,1)" text-anchor="middle" fill="#333" style="font-size:9.12px;">37</text>
<text transform="translate(226.00,502.32) scale(0.9166666666666667,1)" text-anchor="end" fill="#444" style="font-size:9.0px;">0.9</text>
<text transform="translate(226.00,542.28) scale(0.9166666666666667,1)" text-anchor="end" fill="#444" style="font-size:9.0px;">0.6</text>
<text transform="translate(226.00,582.24) scale(0.9166666666666667,1)" text-anchor="end" fill="#444" style="font-size:9.0px;">0.3</text>
<text transform="translate(226.00,622.20) scale(0.9166666666666667,1)" text-anchor="end" fill="#444" style="font-size:9.0px;">0</text>
<text transform="translate(234.60,470.40)" text-anchor="start" fill="#333" style="font-size:7.919999999999999px;" textLength="55.4" lengthAdjust="spacingAndGlyphs">Adj. OR (95% CI)</text>
<text transform="translate(234.60,478.60)" text-anchor="start" fill="#333" style="font-size:7.919999999999999px;" textLength="54.3" lengthAdjust="spacingAndGlyphs">4.76 (1.04–8.38)</text>
<text transform="translate(246.90,491.60)" text-anchor="start" fill="#333" style="font-size:8.88px;" textLength="30.9" lengthAdjust="spacingAndGlyphs"><tspan style="font-style:italic">P</tspan> &lt; 0.001</text>
<line x1="229.90" y1="484.30" x2="283.60" y2="484.30" stroke="#e6e6e6" stroke-width="0.8"/>
<text transform="translate(210.80,546.50) rotate(-90) scale(0.9166666666666667,1)" text-anchor="middle" fill="#333" style="font-size:9.839999999999998px;">Proportion CR</text>
<text transform="translate(258.00,626.60) rotate(-45) scale(0.8750000000000001,1)" text-anchor="end" fill="#333" style="font-size:9.96px;">Non-Infl.</text>
<text transform="translate(282.40,626.60) rotate(-45) scale(0.8750000000000001,1)" text-anchor="end" fill="#333" style="font-size:9.96px;">Infl.</text>
<text transform="translate(306.00,461.00)" text-anchor="start" fill="#111" style="font-size:12.3px;font-weight:bold;">k</text>
<line x1="340.00" y1="581.10" x2="487.80" y2="581.10" stroke="#ebebeb" stroke-width="0.8"/>
<line x1="340.00" y1="566.36" x2="487.80" y2="566.36" stroke="#ebebeb" stroke-width="0.8"/>
<line x1="340.00" y1="551.62" x2="487.80" y2="551.62" stroke="#ebebeb" stroke-width="0.8"/>
<line x1="340.00" y1="536.89" x2="487.80" y2="536.89" stroke="#ebebeb" stroke-width="0.8"/>
<line x1="340.00" y1="522.15" x2="487.80" y2="522.15" stroke="#ebebeb" stroke-width="0.8"/>
<line x1="340.00" y1="507.41" x2="487.80" y2="507.41" stroke="#ebebeb" stroke-width="0.8"/>
<line x1="340.00" y1="492.68" x2="487.80" y2="492.68" stroke="#ebebeb" stroke-width="0.8"/>
<line x1="340.00" y1="477.94" x2="487.80" y2="477.94" stroke="#ebebeb" stroke-width="0.8"/>
<line x1="340.00" y1="463.20" x2="487.80" y2="463.20" stroke="#ebebeb" stroke-width="0.8"/>
<line x1="343.50" y1="460.00" x2="343.50" y2="583.50" stroke="#ebebeb" stroke-width="0.8"/>
<line x1="360.70" y1="460.00" x2="360.70" y2="583.50" stroke="#ebebeb" stroke-width="0.8"/>
<line x1="377.90" y1="460.00" x2="377.90" y2="583.50" stroke="#ebebeb" stroke-width="0.8"/>
<line x1="395.10" y1="460.00" x2="395.10" y2="583.50" stroke="#ebebeb" stroke-width="0.8"/>
<line x1="412.30" y1="460.00" x2="412.30" y2="583.50" stroke="#ebebeb" stroke-width="0.8"/>
<line x1="429.50" y1="460.00" x2="429.50" y2="583.50" stroke="#ebebeb" stroke-width="0.8"/>
<line x1="446.70" y1="460.00" x2="446.70" y2="583.50" stroke="#ebebeb" stroke-width="0.8"/>
<line x1="463.90" y1="460.00" x2="463.90" y2="583.50" stroke="#ebebeb" stroke-width="0.8"/>
<line x1="481.10" y1="460.00" x2="481.10" y2="583.50" stroke="#ebebeb" stroke-width="0.8"/>
<text transform="translate(333.20,465.80) scale(0.8250000000000001,1)" text-anchor="end" fill="#444" style="font-size:8.88px;">100%</text>
<text transform="translate(333.20,495.28) scale(0.8250000000000001,1)" text-anchor="end" fill="#444" style="font-size:8.88px;">75%</text>
<text transform="translate(333.20,524.75) scale(0.8250000000000001,1)" text-anchor="end" fill="#444" style="font-size:8.88px;">50%</text>
<text transform="translate(333.20,554.23) scale(0.8250000000000001,1)" text-anchor="end" fill="#444" style="font-size:8.88px;">25%</text>
<text transform="translate(333.20,583.70) scale(0.8250000000000001,1)" text-anchor="end" fill="#444" style="font-size:8.88px;">0%</text>
<text transform="translate(343.50,591.40) scale(0.9166666666666667,1)" text-anchor="middle" fill="#444" style="font-size:9.0px;">0</text>
<text transform="translate(377.90,591.40) scale(0.9166666666666667,1)" text-anchor="middle" fill="#444" style="font-size:9.0px;">6</text>
<text transform="translate(412.30,591.40) scale(0.9166666666666667,1)" text-anchor="middle" fill="#444" style="font-size:9.0px;">12</text>
<text transform="translate(446.70,591.40) scale(0.9166666666666667,1)" text-anchor="middle" fill="#444" style="font-size:9.0px;">18</text>
<text transform="translate(481.10,591.40) scale(0.9166666666666667,1)" text-anchor="middle" fill="#444" style="font-size:9.0px;">24</text>
<path d="M343.40,463.30 L347.40,463.30 L347.40,465.00 L349.00,465.00 L349.00,468.00 L349.40,468.00 L349.40,472.70 L350.50,472.70 L350.50,474.70 L352.50,474.70 L352.50,476.80 L354.60,476.80 L354.60,477.90 L356.30,477.90 L356.30,481.00 L357.70,481.00 L357.70,482.00 L358.80,482.00 L358.80,485.10 L359.80,485.10 L359.80,491.40 L360.90,491.40 L360.90,496.60 L361.90,496.60 L361.90,499.70 L362.90,499.70 L362.90,502.40 L364.00,502.40 L364.00,503.80 L373.30,503.80 L373.30,504.20 L375.40,504.20 L375.40,505.90 L377.90,505.90 L377.90,508.00 L379.60,508.00 L379.60,510.70 L381.60,510.70 L381.60,513.20 L386.80,513.20 L386.80,513.80 L388.90,513.80 L388.90,515.30 L395.10,515.30 L395.10,516.30 L400.30,516.30 L400.30,517.30 L404.50,517.30 L404.50,518.40 L407.60,518.40 L407.60,520.00 L409.70,520.00 L409.70,522.60 L433.10,522.60 L433.10,523.20 L434.10,523.20 L434.10,524.20 L441.40,524.20 L441.40,524.60 L443.50,524.60 L443.50,526.70 L446.60,526.70 L446.60,527.70 L448.60,527.70 L448.60,529.20 L453.80,529.20 L453.80,529.80 L458.60,529.80 L458.60,531.50 L483.60,531.50 L483.60,533.40 L488.10,533.40 L488.10,533.40" stroke="#2a78b9" stroke-width="1.5" fill="none" stroke-linejoin="miter"/>
<path d="M343.40,463.30 L344.20,463.30 L344.20,465.40 L345.30,465.40 L345.30,470.60 L345.90,470.60 L345.90,475.80 L346.70,475.80 L346.70,484.10 L347.40,484.10 L347.40,491.40 L348.00,491.40 L348.00,496.60 L348.40,496.60 L348.40,504.90 L348.80,504.90 L348.80,513.20 L349.40,513.20 L349.40,518.40 L350.50,518.40 L350.50,520.50 L352.50,520.50 L352.50,521.90 L354.20,521.90 L354.20,524.60 L355.00,524.60 L355.00,529.80 L355.70,529.80 L355.70,537.10 L358.80,537.10 L358.80,537.70 L359.80,537.70 L359.80,542.30 L360.40,542.30 L360.40,551.60 L361.30,551.60 L361.30,552.70 L368.80,552.70 L368.80,555.80 L369.20,555.80 L369.20,558.90 L373.30,558.90 L373.30,562.00 L382.70,562.00 L382.70,564.90 L413.50,564.90 L413.50,568.90 L446.40,568.90 L446.40,573.10 L488.10,573.10 L488.10,573.10" stroke="#f28a2c" stroke-width="1.5" fill="none" stroke-linejoin="miter"/>
<line x1="346.50" y1="461.50" x2="346.50" y2="465.10" stroke="#2a78b9" stroke-width="0.9"/>
<line x1="367.20" y1="502.40" x2="367.20" y2="506.00" stroke="#2a78b9" stroke-width="0.9"/>
<line x1="387.30" y1="512.60" x2="387.30" y2="516.20" stroke="#2a78b9" stroke-width="0.9"/>
<line x1="429.40" y1="521.40" x2="429.40" y2="525.00" stroke="#2a78b9" stroke-width="0.9"/>
<line x1="439.10" y1="522.60" x2="439.10" y2="526.20" stroke="#2a78b9" stroke-width="0.9"/>
<line x1="456.00" y1="528.00" x2="456.00" y2="531.60" stroke="#2a78b9" stroke-width="0.9"/>
<line x1="458.30" y1="528.80" x2="458.30" y2="532.40" stroke="#2a78b9" stroke-width="0.9"/>
<line x1="345.70" y1="473.70" x2="345.70" y2="477.30" stroke="#f28a2c" stroke-width="0.9"/>
<line x1="413.30" y1="563.40" x2="413.30" y2="567.00" stroke="#f28a2c" stroke-width="0.9"/>
<line x1="481.30" y1="571.30" x2="481.30" y2="574.90" stroke="#f28a2c" stroke-width="0.9"/>
<text transform="translate(366.00,483.60)" text-anchor="start" fill="#333" style="font-size:8.28px;" textLength="111.0" lengthAdjust="spacingAndGlyphs">Adj. HR (95% CI): 2.98 (1.60–4.91)</text>
<text transform="translate(426.60,494.00) scale(0.8333333333333334,1)" text-anchor="middle" fill="#333" style="font-size:8.88px;">P &lt; 0.001</text>
<rect x="425.00" y="513.00" width="62.40" height="7.70" fill="#fff" stroke="#9cc2e4" stroke-width="0.8"/>
<text transform="translate(456.20,518.80) scale(0.9166666666666667,1)" text-anchor="middle" fill="#333" style="font-size:8.88px;">Noninflammatory</text>
<rect x="421.80" y="557.50" width="48.80" height="7.90" fill="#fff" stroke="#f6b27a" stroke-width="0.8"/>
<text transform="translate(446.20,563.50) scale(0.9166666666666667,1)" text-anchor="middle" fill="#333" style="font-size:8.88px;">Inflammatory</text>
<text transform="translate(311.90,522.00) rotate(-90) scale(0.9166666666666667,1)" text-anchor="middle" fill="#333" style="font-size:9.839999999999998px;">PFS probability</text>
<text transform="translate(411.65,604.50) scale(0.9166666666666667,1)" text-anchor="middle" fill="#333" style="font-size:9.839999999999998px;">Months from infusion</text>
<text transform="translate(336.00,610.20) scale(0.9166666666666667,1)" text-anchor="start" fill="#333" style="font-size:9.839999999999998px;">At risk</text>
<text transform="translate(345.00,620.60) scale(0.9166666666666667,1)" text-anchor="middle" fill="#3a86c6" style="font-size:8.88px;">108</text>
<text transform="translate(345.00,630.40) scale(0.9166666666666667,1)" text-anchor="middle" fill="#f39a4a" style="font-size:8.88px;">39</text>
<text transform="translate(379.40,620.60) scale(0.9166666666666667,1)" text-anchor="middle" fill="#3a86c6" style="font-size:8.88px;">64</text>
<text transform="translate(379.40,630.40) scale(0.9166666666666667,1)" text-anchor="middle" fill="#f39a4a" style="font-size:8.88px;">6</text>
<text transform="translate(413.80,620.60) scale(0.9166666666666667,1)" text-anchor="middle" fill="#3a86c6" style="font-size:8.88px;">48</text>
<text transform="translate(413.80,630.40) scale(0.9166666666666667,1)" text-anchor="middle" fill="#f39a4a" style="font-size:8.88px;">5</text>
<text transform="translate(448.20,620.60) scale(0.9166666666666667,1)" text-anchor="middle" fill="#3a86c6" style="font-size:8.88px;">43</text>
<text transform="translate(448.20,630.40) scale(0.9166666666666667,1)" text-anchor="middle" fill="#f39a4a" style="font-size:8.88px;">2</text>
<text transform="translate(482.60,620.60) scale(0.9166666666666667,1)" text-anchor="middle" fill="#3a86c6" style="font-size:8.88px;">38</text>
<text transform="translate(482.60,630.40) scale(0.9166666666666667,1)" text-anchor="middle" fill="#f39a4a" style="font-size:8.88px;">2</text>
<text transform="translate(498.50,461.00)" text-anchor="start" fill="#111" style="font-size:12.3px;font-weight:bold;">l</text>
<line x1="533.00" y1="581.10" x2="681.50" y2="581.10" stroke="#ebebeb" stroke-width="0.8"/>
<line x1="533.00" y1="566.36" x2="681.50" y2="566.36" stroke="#ebebeb" stroke-width="0.8"/>
<line x1="533.00" y1="551.62" x2="681.50" y2="551.62" stroke="#ebebeb" stroke-width="0.8"/>
<line x1="533.00" y1="536.89" x2="681.50" y2="536.89" stroke="#ebebeb" stroke-width="0.8"/>
<line x1="533.00" y1="522.15" x2="681.50" y2="522.15" stroke="#ebebeb" stroke-width="0.8"/>
<line x1="533.00" y1="507.41" x2="681.50" y2="507.41" stroke="#ebebeb" stroke-width="0.8"/>
<line x1="533.00" y1="492.68" x2="681.50" y2="492.68" stroke="#ebebeb" stroke-width="0.8"/>
<line x1="533.00" y1="477.94" x2="681.50" y2="477.94" stroke="#ebebeb" stroke-width="0.8"/>
<line x1="533.00" y1="463.20" x2="681.50" y2="463.20" stroke="#ebebeb" stroke-width="0.8"/>
<line x1="536.50" y1="460.00" x2="536.50" y2="583.50" stroke="#ebebeb" stroke-width="0.8"/>
<line x1="553.70" y1="460.00" x2="553.70" y2="583.50" stroke="#ebebeb" stroke-width="0.8"/>
<line x1="570.90" y1="460.00" x2="570.90" y2="583.50" stroke="#ebebeb" stroke-width="0.8"/>
<line x1="588.10" y1="460.00" x2="588.10" y2="583.50" stroke="#ebebeb" stroke-width="0.8"/>
<line x1="605.30" y1="460.00" x2="605.30" y2="583.50" stroke="#ebebeb" stroke-width="0.8"/>
<line x1="622.50" y1="460.00" x2="622.50" y2="583.50" stroke="#ebebeb" stroke-width="0.8"/>
<line x1="639.70" y1="460.00" x2="639.70" y2="583.50" stroke="#ebebeb" stroke-width="0.8"/>
<line x1="656.90" y1="460.00" x2="656.90" y2="583.50" stroke="#ebebeb" stroke-width="0.8"/>
<line x1="674.10" y1="460.00" x2="674.10" y2="583.50" stroke="#ebebeb" stroke-width="0.8"/>
<text transform="translate(526.20,465.80) scale(0.8250000000000001,1)" text-anchor="end" fill="#444" style="font-size:8.88px;">100%</text>
<text transform="translate(526.20,495.28) scale(0.8250000000000001,1)" text-anchor="end" fill="#444" style="font-size:8.88px;">75%</text>
<text transform="translate(526.20,524.75) scale(0.8250000000000001,1)" text-anchor="end" fill="#444" style="font-size:8.88px;">50%</text>
<text transform="translate(526.20,554.23) scale(0.8250000000000001,1)" text-anchor="end" fill="#444" style="font-size:8.88px;">25%</text>
<text transform="translate(526.20,583.70) scale(0.8250000000000001,1)" text-anchor="end" fill="#444" style="font-size:8.88px;">0%</text>
<text transform="translate(536.50,591.40) scale(0.9166666666666667,1)" text-anchor="middle" fill="#444" style="font-size:9.0px;">0</text>
<text transform="translate(570.90,591.40) scale(0.9166666666666667,1)" text-anchor="middle" fill="#444" style="font-size:9.0px;">6</text>
<text transform="translate(605.30,591.40) scale(0.9166666666666667,1)" text-anchor="middle" fill="#444" style="font-size:9.0px;">12</text>
<text transform="translate(639.70,591.40) scale(0.9166666666666667,1)" text-anchor="middle" fill="#444" style="font-size:9.0px;">18</text>
<text transform="translate(674.10,591.40) scale(0.9166666666666667,1)" text-anchor="middle" fill="#444" style="font-size:9.0px;">24</text>
<path d="M536.50,463.30 L540.40,463.30 L540.40,463.30 L541.40,463.30 L541.40,465.00 L543.50,465.00 L543.50,466.40 L545.60,466.40 L545.60,467.90 L548.70,467.90 L548.70,469.10 L550.80,469.10 L550.80,470.00 L552.40,470.00 L552.40,471.00 L559.10,471.00 L559.10,471.20 L561.20,471.20 L561.20,472.70 L564.30,472.70 L564.30,474.10 L567.40,474.10 L567.40,475.40 L570.50,475.40 L570.50,476.40 L573.60,476.40 L573.60,477.40 L576.80,477.40 L576.80,478.30 L578.80,478.30 L578.80,479.50 L580.90,479.50 L580.90,481.00 L586.10,481.00 L586.10,481.60 L594.40,481.60 L594.40,482.00 L596.50,482.00 L596.50,484.10 L599.60,484.10 L599.60,485.80 L602.70,485.80 L602.70,488.20 L605.80,488.20 L605.80,490.30 L608.50,490.30 L608.50,492.80 L610.00,492.80 L610.00,494.10 L612.20,494.10 L612.20,494.80 L615.40,494.80 L615.40,496.40 L626.70,496.40 L626.70,497.30 L629.90,497.30 L629.90,498.90 L631.50,498.90 L631.50,500.20 L642.80,500.20 L642.80,501.20 L647.60,501.20 L647.60,502.80 L650.90,502.80 L650.90,503.80 L654.10,503.80 L654.10,505.40 L676.60,505.40 L676.60,506.70 L681.50,506.70 L681.50,506.70" stroke="#2a78b9" stroke-width="1.5" fill="none" stroke-linejoin="miter"/>
<path d="M536.50,463.30 L538.30,463.30 L538.30,466.40 L539.40,466.40 L539.40,471.60 L540.40,471.60 L540.40,477.90 L541.40,477.90 L541.40,482.00 L542.50,482.00 L542.50,484.10 L544.50,484.10 L544.50,485.10 L545.60,485.10 L545.60,489.30 L547.70,489.30 L547.70,491.40 L548.70,491.40 L548.70,494.50 L549.70,494.50 L549.70,498.60 L551.80,498.60 L551.80,499.70 L553.90,499.70 L553.90,502.80 L556.00,502.80 L556.00,504.90 L559.10,504.90 L559.10,505.90 L560.10,505.90 L560.10,511.10 L561.20,511.10 L561.20,516.30 L561.60,516.30 L561.60,523.20 L565.70,523.20 L565.70,523.60 L567.00,523.60 L567.00,526.70 L568.40,526.70 L568.40,529.20 L580.50,529.20 L580.50,535.00 L583.00,535.00 L583.00,536.00 L584.00,536.00 L584.00,538.10 L586.10,538.10 L586.10,540.20 L589.20,540.20 L589.20,544.80 L606.90,544.80 L606.90,547.50 L610.60,547.50 L610.60,551.10 L620.30,551.10 L620.30,554.30 L652.50,554.30 L652.50,557.60 L657.30,557.60 L657.30,561.70 L670.20,561.70 L670.20,564.00 L681.50,564.00 L681.50,565.00" stroke="#f28a2c" stroke-width="1.5" fill="none" stroke-linejoin="miter"/>
<line x1="572.40" y1="474.80" x2="572.40" y2="478.40" stroke="#2a78b9" stroke-width="0.9"/>
<line x1="622.00" y1="495.50" x2="622.00" y2="499.10" stroke="#2a78b9" stroke-width="0.9"/>
<line x1="632.60" y1="498.80" x2="632.60" y2="502.40" stroke="#2a78b9" stroke-width="0.9"/>
<line x1="649.40" y1="502.00" x2="649.40" y2="505.60" stroke="#2a78b9" stroke-width="0.9"/>
<line x1="560.40" y1="469.40" x2="560.40" y2="473.00" stroke="#2a78b9" stroke-width="0.9"/>
<line x1="541.20" y1="463.20" x2="541.20" y2="466.80" stroke="#2a78b9" stroke-width="0.9"/>
<text transform="translate(572.00,473.00)" text-anchor="start" fill="#333" style="font-size:8.28px;" textLength="112.5" lengthAdjust="spacingAndGlyphs">Adj. HR (95% CI): 2.90 (1.75–5.08)</text>
<text transform="translate(629.30,483.80) scale(0.8333333333333334,1)" text-anchor="middle" fill="#333" style="font-size:8.88px;"><tspan style="font-style:italic">P</tspan> &lt; 0.001</text>
<rect x="615.40" y="511.60" width="62.80" height="7.30" fill="#fff" stroke="#9cc2e4" stroke-width="0.8"/>
<text transform="translate(646.80,517.00) scale(0.9166666666666667,1)" text-anchor="middle" fill="#333" style="font-size:8.88px;">Noninflammatory</text>
<rect x="622.50" y="542.50" width="47.70" height="8.00" fill="#fff" stroke="#f6b27a" stroke-width="0.8"/>
<text transform="translate(646.35,548.60) scale(0.9166666666666667,1)" text-anchor="middle" fill="#333" style="font-size:8.88px;">Inflammatory</text>
<text transform="translate(505.80,522.00) rotate(-90) scale(0.9166666666666667,1)" text-anchor="middle" fill="#333" style="font-size:9.839999999999998px;">OS probability</text>
<text transform="translate(605.00,604.50) scale(0.9166666666666667,1)" text-anchor="middle" fill="#333" style="font-size:9.839999999999998px;">Months from infusion</text>
<text transform="translate(529.00,610.20) scale(0.9166666666666667,1)" text-anchor="start" fill="#333" style="font-size:9.839999999999998px;">At risk</text>
<text transform="translate(538.00,620.60) scale(0.9166666666666667,1)" text-anchor="middle" fill="#3a86c6" style="font-size:8.88px;">108</text>
<text transform="translate(538.00,630.40) scale(0.9166666666666667,1)" text-anchor="middle" fill="#f39a4a" style="font-size:8.88px;">39</text>
<text transform="translate(572.40,620.60) scale(0.9166666666666667,1)" text-anchor="middle" fill="#3a86c6" style="font-size:8.88px;">96</text>
<text transform="translate(572.40,630.40) scale(0.9166666666666667,1)" text-anchor="middle" fill="#f39a4a" style="font-size:8.88px;">17</text>
<text transform="translate(606.80,620.60) scale(0.9166666666666667,1)" text-anchor="middle" fill="#3a86c6" style="font-size:8.88px;">82</text>
<text transform="translate(606.80,630.40) scale(0.9166666666666667,1)" text-anchor="middle" fill="#f39a4a" style="font-size:8.88px;">12</text>
<text transform="translate(641.20,620.60) scale(0.9166666666666667,1)" text-anchor="middle" fill="#3a86c6" style="font-size:8.88px;">70</text>
<text transform="translate(641.20,630.40) scale(0.9166666666666667,1)" text-anchor="middle" fill="#f39a4a" style="font-size:8.88px;">8</text>
<text transform="translate(675.60,620.60) scale(0.9166666666666667,1)" text-anchor="middle" fill="#3a86c6" style="font-size:8.88px;">65</text>
<text transform="translate(675.60,630.40) scale(0.9166666666666667,1)" text-anchor="middle" fill="#f39a4a" style="font-size:8.88px;">5</text>
</svg>
</body></html>
